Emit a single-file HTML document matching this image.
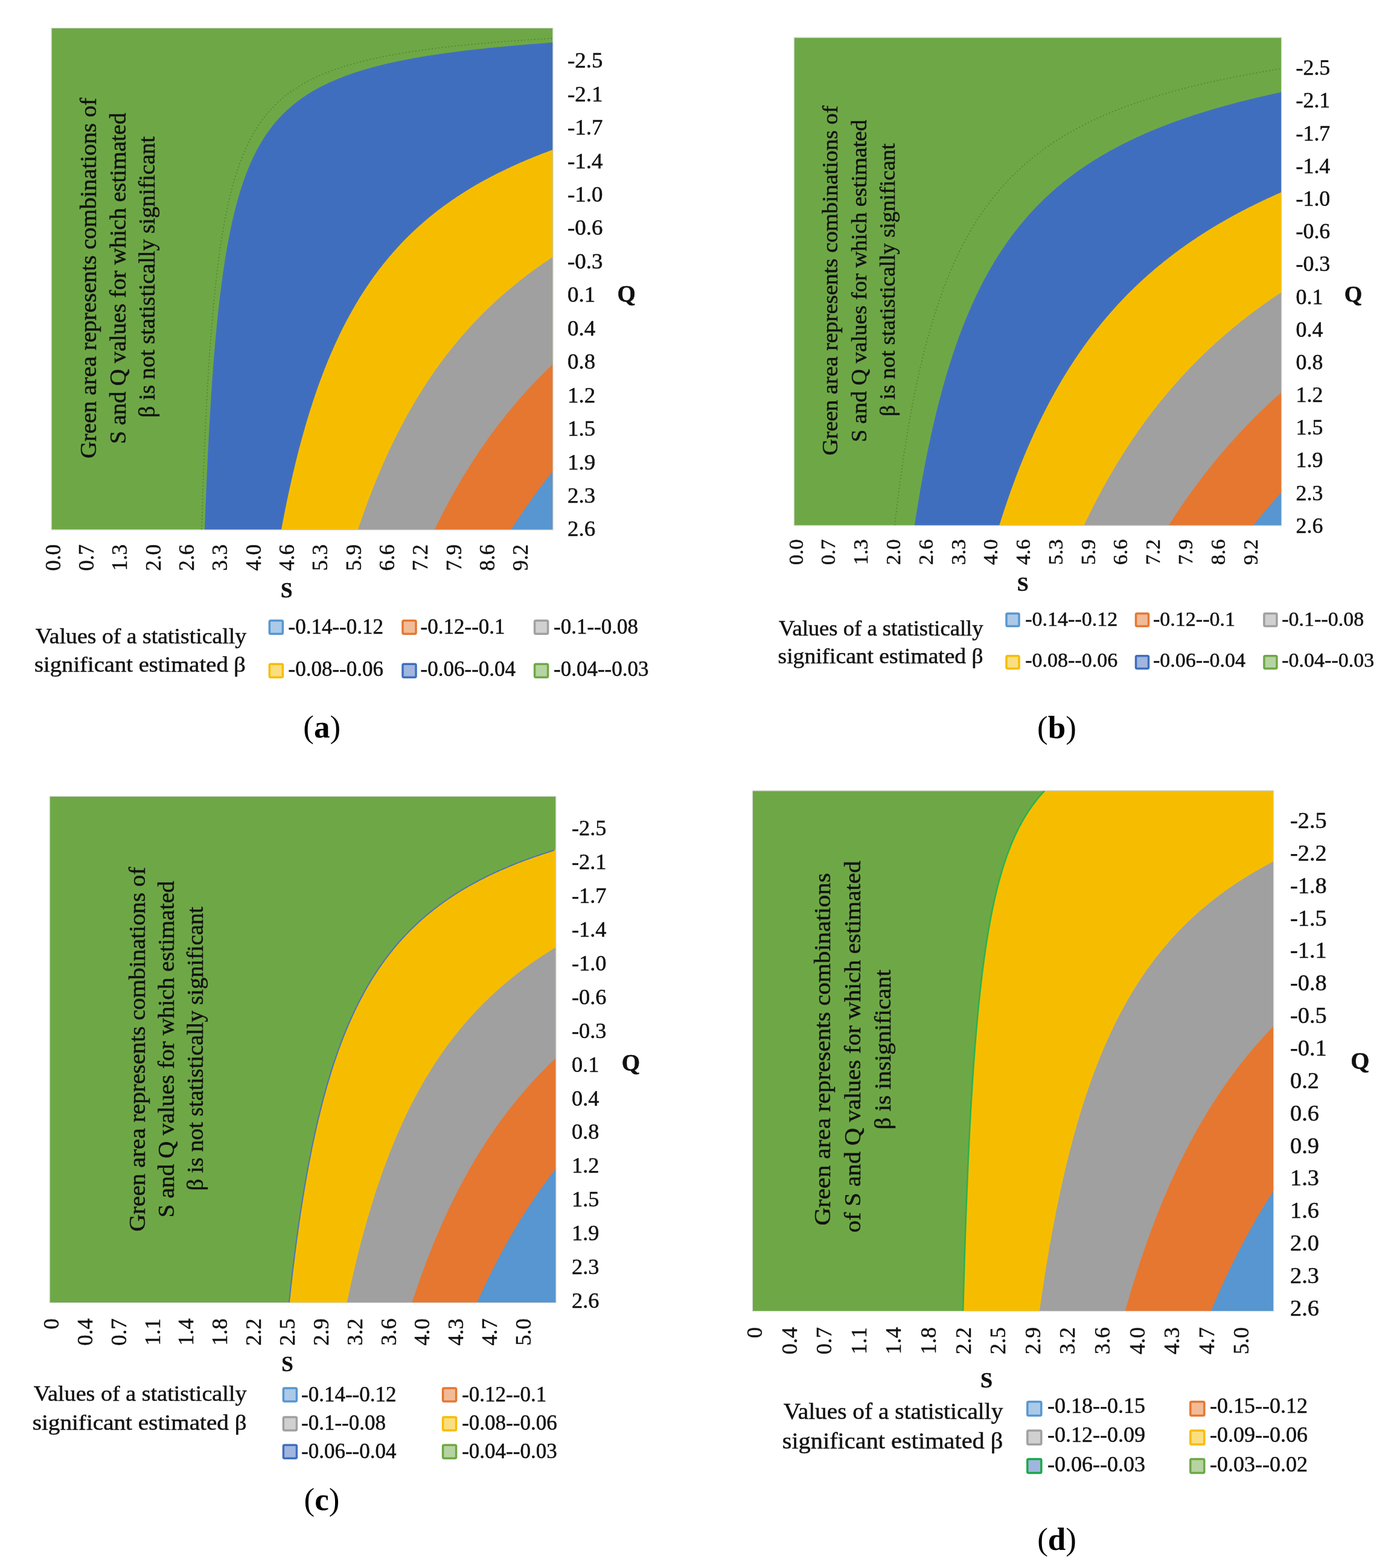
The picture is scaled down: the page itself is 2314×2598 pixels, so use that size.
<!DOCTYPE html>
<html lang="en"><head><meta charset="utf-8"><title>Figure</title>
<style>html,body{margin:0;padding:0;background:#fff;width:2314px;height:2598px;overflow:hidden}svg{display:block}</style>
</head><body>
<svg xmlns="http://www.w3.org/2000/svg" width="2314" height="2598" viewBox="0 0 2314 2598" font-family="'Liberation Serif', 'Times New Roman', serif">
<rect width="2314" height="2598" fill="#FFFFFF"/>
<g id="plot-a">
<rect x="85.5" y="47.0" width="830.0" height="830.5" fill="#6EA846"/>
<path d="M339.1,877.5 L339.1,875.8 L339.2,874.2 L339.3,872.5 L339.3,870.9 L339.4,869.2 L339.4,867.5 L339.5,865.9 L339.6,864.2 L339.6,862.6 L339.7,860.9 L339.7,859.2 L339.8,857.6 L339.9,855.9 L339.9,854.2 L340.0,852.6 L340.1,850.9 L340.1,849.3 L340.2,847.6 L340.2,845.9 L340.3,844.3 L340.4,842.6 L340.4,841.0 L340.5,839.3 L340.6,837.6 L340.6,836.0 L340.7,834.3 L340.8,832.7 L340.8,831.0 L340.9,829.3 L341.0,827.7 L341.0,826.0 L341.1,824.3 L341.2,822.7 L341.2,821.0 L341.3,819.4 L341.4,817.7 L341.4,816.0 L341.5,814.4 L341.6,812.7 L341.6,811.1 L341.7,809.4 L341.8,807.7 L341.9,806.1 L341.9,804.4 L342.0,802.8 L342.1,801.1 L342.1,799.4 L342.2,797.8 L342.3,796.1 L342.4,794.5 L342.4,792.8 L342.5,791.1 L342.6,789.5 L342.7,787.8 L342.7,786.1 L342.8,784.5 L342.9,782.8 L343.0,781.2 L343.0,779.5 L343.1,777.8 L343.2,776.2 L343.3,774.5 L343.3,772.9 L343.4,771.2 L343.5,769.5 L343.6,767.9 L343.6,766.2 L343.7,764.6 L343.8,762.9 L343.9,761.2 L344.0,759.6 L344.0,757.9 L344.1,756.2 L344.2,754.6 L344.3,752.9 L344.4,751.3 L344.4,749.6 L344.5,747.9 L344.6,746.3 L344.7,744.6 L344.8,743.0 L344.9,741.3 L344.9,739.6 L345.0,738.0 L345.1,736.3 L345.2,734.7 L345.3,733.0 L345.4,731.3 L345.5,729.7 L345.5,728.0 L345.6,726.3 L345.7,724.7 L345.8,723.0 L345.9,721.4 L346.0,719.7 L346.1,718.0 L346.2,716.4 L346.3,714.7 L346.3,713.1 L346.4,711.4 L346.5,709.7 L346.6,708.1 L346.7,706.4 L346.8,704.8 L346.9,703.1 L347.0,701.4 L347.1,699.8 L347.2,698.1 L347.3,696.5 L347.4,694.8 L347.5,693.1 L347.6,691.5 L347.7,689.8 L347.8,688.1 L347.9,686.5 L348.0,684.8 L348.1,683.2 L348.2,681.5 L348.3,679.8 L348.4,678.2 L348.5,676.5 L348.6,674.9 L348.7,673.2 L348.8,671.5 L348.9,669.9 L349.0,668.2 L349.1,666.6 L349.2,664.9 L349.3,663.2 L349.4,661.6 L349.5,659.9 L349.6,658.2 L349.7,656.6 L349.8,654.9 L349.9,653.3 L350.1,651.6 L350.2,649.9 L350.3,648.3 L350.4,646.6 L350.5,645.0 L350.6,643.3 L350.7,641.6 L350.8,640.0 L351.0,638.3 L351.1,636.7 L351.2,635.0 L351.3,633.3 L351.4,631.7 L351.5,630.0 L351.7,628.4 L351.8,626.7 L351.9,625.0 L352.0,623.4 L352.1,621.7 L352.3,620.0 L352.4,618.4 L352.5,616.7 L352.6,615.1 L352.7,613.4 L352.9,611.7 L353.0,610.1 L353.1,608.4 L353.3,606.8 L353.4,605.1 L353.5,603.4 L353.6,601.8 L353.8,600.1 L353.9,598.5 L354.0,596.8 L354.2,595.1 L354.3,593.5 L354.4,591.8 L354.6,590.1 L354.7,588.5 L354.8,586.8 L355.0,585.2 L355.1,583.5 L355.3,581.8 L355.4,580.2 L355.5,578.5 L355.7,576.9 L355.8,575.2 L356.0,573.5 L356.1,571.9 L356.2,570.2 L356.4,568.6 L356.5,566.9 L356.7,565.2 L356.8,563.6 L357.0,561.9 L357.1,560.2 L357.3,558.6 L357.4,556.9 L357.6,555.3 L357.7,553.6 L357.9,551.9 L358.1,550.3 L358.2,548.6 L358.4,547.0 L358.5,545.3 L358.7,543.6 L358.9,542.0 L359.0,540.3 L359.2,538.7 L359.3,537.0 L359.5,535.3 L359.7,533.7 L359.8,532.0 L360.0,530.4 L360.2,528.7 L360.4,527.0 L360.5,525.4 L360.7,523.7 L360.9,522.0 L361.1,520.4 L361.2,518.7 L361.4,517.1 L361.6,515.4 L361.8,513.7 L362.0,512.1 L362.1,510.4 L362.3,508.8 L362.5,507.1 L362.7,505.4 L362.9,503.8 L363.1,502.1 L363.3,500.5 L363.5,498.8 L363.6,497.1 L363.8,495.5 L364.0,493.8 L364.2,492.1 L364.4,490.5 L364.6,488.8 L364.8,487.2 L365.0,485.5 L365.2,483.8 L365.5,482.2 L365.7,480.5 L365.9,478.9 L366.1,477.2 L366.3,475.5 L366.5,473.9 L366.7,472.2 L366.9,470.6 L367.2,468.9 L367.4,467.2 L367.6,465.6 L367.8,463.9 L368.1,462.2 L368.3,460.6 L368.5,458.9 L368.7,457.3 L369.0,455.6 L369.2,453.9 L369.4,452.3 L369.7,450.6 L369.9,449.0 L370.2,447.3 L370.4,445.6 L370.7,444.0 L370.9,442.3 L371.2,440.7 L371.4,439.0 L371.7,437.3 L371.9,435.7 L372.2,434.0 L372.4,432.4 L372.7,430.7 L373.0,429.0 L373.2,427.4 L373.5,425.7 L373.8,424.0 L374.0,422.4 L374.3,420.7 L374.6,419.1 L374.9,417.4 L375.2,415.7 L375.5,414.1 L375.7,412.4 L376.0,410.8 L376.3,409.1 L376.6,407.4 L376.9,405.8 L377.2,404.1 L377.5,402.5 L377.8,400.8 L378.1,399.1 L378.4,397.5 L378.8,395.8 L379.1,394.1 L379.4,392.5 L379.7,390.8 L380.1,389.2 L380.4,387.5 L380.7,385.8 L381.0,384.2 L381.4,382.5 L381.7,380.9 L382.1,379.2 L382.4,377.5 L382.8,375.9 L383.1,374.2 L383.5,372.6 L383.8,370.9 L384.2,369.2 L384.6,367.6 L385.0,365.9 L385.3,364.3 L385.7,362.6 L386.1,360.9 L386.5,359.3 L386.9,357.6 L387.3,355.9 L387.7,354.3 L388.1,352.6 L388.5,351.0 L388.9,349.3 L389.3,347.6 L389.7,346.0 L390.2,344.3 L390.6,342.7 L391.0,341.0 L391.5,339.3 L391.9,337.7 L392.4,336.0 L392.8,334.4 L393.3,332.7 L393.7,331.0 L394.2,329.4 L394.7,327.7 L395.2,326.0 L395.6,324.4 L396.1,322.7 L396.6,321.1 L397.1,319.4 L397.6,317.7 L398.1,316.1 L398.7,314.4 L399.2,312.8 L399.7,311.1 L400.3,309.4 L400.8,307.8 L401.3,306.1 L401.9,304.5 L402.5,302.8 L403.0,301.1 L403.6,299.5 L404.2,297.8 L404.8,296.2 L405.4,294.5 L406.0,292.8 L406.6,291.2 L407.2,289.5 L407.9,287.8 L408.5,286.2 L409.1,284.5 L409.8,282.9 L410.5,281.2 L411.1,279.5 L411.8,277.9 L412.5,276.2 L413.2,274.6 L413.9,272.9 L414.6,271.2 L415.4,269.6 L416.1,267.9 L416.8,266.3 L417.6,264.6 L418.4,262.9 L419.1,261.3 L419.9,259.6 L420.7,257.9 L421.6,256.3 L422.4,254.6 L423.2,253.0 L424.1,251.3 L424.9,249.6 L425.8,248.0 L426.7,246.3 L427.6,244.7 L428.5,243.0 L429.5,241.3 L430.4,239.7 L431.4,238.0 L432.4,236.4 L433.3,234.7 L434.4,233.0 L435.4,231.4 L436.4,229.7 L437.5,228.0 L438.6,226.4 L439.7,224.7 L440.8,223.1 L441.9,221.4 L443.1,219.7 L444.2,218.1 L445.4,216.4 L446.7,214.8 L447.9,213.1 L449.2,211.4 L450.4,209.8 L451.7,208.1 L453.1,206.5 L454.4,204.8 L455.8,203.1 L457.2,201.5 L458.7,199.8 L460.1,198.2 L461.6,196.5 L463.1,194.8 L464.7,193.2 L466.3,191.5 L467.9,189.8 L469.5,188.2 L471.2,186.5 L473.0,184.9 L474.7,183.2 L476.5,181.5 L478.3,179.9 L480.2,178.2 L482.1,176.6 L484.1,174.9 L486.1,173.2 L488.2,171.6 L490.3,169.9 L492.4,168.3 L494.6,166.6 L496.9,164.9 L499.2,163.3 L501.6,161.6 L504.0,159.9 L506.5,158.3 L509.0,156.6 L511.7,155.0 L514.4,153.3 L517.1,151.6 L520.0,150.0 L522.9,148.3 L525.9,146.7 L529.0,145.0 L532.1,143.3 L535.4,141.7 L538.8,140.0 L542.2,138.4 L545.8,136.7 L549.5,135.0 L553.3,133.4 L557.2,131.7 L561.3,130.0 L565.4,128.4 L569.8,126.7 L574.2,125.1 L578.9,123.4 L583.7,121.7 L588.6,120.1 L593.8,118.4 L599.1,116.8 L604.7,115.1 L610.4,113.4 L616.4,111.8 L622.7,110.1 L629.1,108.5 L635.9,106.8 L643.0,105.1 L650.3,103.5 L658.0,101.8 L666.1,100.2 L674.5,98.5 L683.4,96.8 L692.7,95.2 L702.4,93.5 L712.7,91.8 L723.5,90.2 L734.9,88.5 L747.0,86.9 L759.7,85.2 L773.2,83.5 L787.6,81.9 L802.9,80.2 L819.1,78.6 L836.5,76.9 L855.1,75.2 L875.1,73.6 L896.6,71.9 L915.5,70.3 L915.5,68.6 L915.5,66.9 L915.5,65.3 L915.5,63.6 L915.5,61.9 L915.5,60.3 L915.5,58.6 L915.5,57.0 L915.5,55.3 L915.5,53.6 L915.5,52.0 L915.5,50.3 L915.5,48.7 L915.5,47.0 L915.5,47.0 L915.5,877.5 Z" fill="#406EBF"/>
<path d="M466.0,877.5 L466.3,875.8 L466.6,874.2 L466.9,872.5 L467.2,870.9 L467.5,869.2 L467.9,867.5 L468.2,865.9 L468.5,864.2 L468.8,862.6 L469.1,860.9 L469.4,859.2 L469.8,857.6 L470.1,855.9 L470.4,854.2 L470.7,852.6 L471.1,850.9 L471.4,849.3 L471.7,847.6 L472.1,845.9 L472.4,844.3 L472.7,842.6 L473.1,841.0 L473.4,839.3 L473.7,837.6 L474.1,836.0 L474.4,834.3 L474.8,832.7 L475.1,831.0 L475.4,829.3 L475.8,827.7 L476.1,826.0 L476.5,824.3 L476.8,822.7 L477.2,821.0 L477.5,819.4 L477.9,817.7 L478.3,816.0 L478.6,814.4 L479.0,812.7 L479.3,811.1 L479.7,809.4 L480.1,807.7 L480.4,806.1 L480.8,804.4 L481.2,802.8 L481.5,801.1 L481.9,799.4 L482.3,797.8 L482.7,796.1 L483.0,794.5 L483.4,792.8 L483.8,791.1 L484.2,789.5 L484.6,787.8 L484.9,786.1 L485.3,784.5 L485.7,782.8 L486.1,781.2 L486.5,779.5 L486.9,777.8 L487.3,776.2 L487.7,774.5 L488.1,772.9 L488.5,771.2 L488.9,769.5 L489.3,767.9 L489.7,766.2 L490.1,764.6 L490.5,762.9 L490.9,761.2 L491.3,759.6 L491.8,757.9 L492.2,756.2 L492.6,754.6 L493.0,752.9 L493.4,751.3 L493.9,749.6 L494.3,747.9 L494.7,746.3 L495.1,744.6 L495.6,743.0 L496.0,741.3 L496.5,739.6 L496.9,738.0 L497.3,736.3 L497.8,734.7 L498.2,733.0 L498.7,731.3 L499.1,729.7 L499.6,728.0 L500.0,726.3 L500.5,724.7 L500.9,723.0 L501.4,721.4 L501.9,719.7 L502.3,718.0 L502.8,716.4 L503.3,714.7 L503.7,713.1 L504.2,711.4 L504.7,709.7 L505.2,708.1 L505.6,706.4 L506.1,704.8 L506.6,703.1 L507.1,701.4 L507.6,699.8 L508.1,698.1 L508.6,696.5 L509.1,694.8 L509.6,693.1 L510.1,691.5 L510.6,689.8 L511.1,688.1 L511.6,686.5 L512.1,684.8 L512.6,683.2 L513.2,681.5 L513.7,679.8 L514.2,678.2 L514.7,676.5 L515.3,674.9 L515.8,673.2 L516.3,671.5 L516.9,669.9 L517.4,668.2 L517.9,666.6 L518.5,664.9 L519.0,663.2 L519.6,661.6 L520.1,659.9 L520.7,658.2 L521.3,656.6 L521.8,654.9 L522.4,653.3 L523.0,651.6 L523.5,649.9 L524.1,648.3 L524.7,646.6 L525.3,645.0 L525.8,643.3 L526.4,641.6 L527.0,640.0 L527.6,638.3 L528.2,636.7 L528.8,635.0 L529.4,633.3 L530.0,631.7 L530.6,630.0 L531.2,628.4 L531.9,626.7 L532.5,625.0 L533.1,623.4 L533.7,621.7 L534.4,620.0 L535.0,618.4 L535.6,616.7 L536.3,615.1 L536.9,613.4 L537.6,611.7 L538.2,610.1 L538.9,608.4 L539.6,606.8 L540.2,605.1 L540.9,603.4 L541.6,601.8 L542.2,600.1 L542.9,598.5 L543.6,596.8 L544.3,595.1 L545.0,593.5 L545.7,591.8 L546.4,590.1 L547.1,588.5 L547.8,586.8 L548.5,585.2 L549.2,583.5 L549.9,581.8 L550.7,580.2 L551.4,578.5 L552.1,576.9 L552.9,575.2 L553.6,573.5 L554.4,571.9 L555.1,570.2 L555.9,568.6 L556.6,566.9 L557.4,565.2 L558.2,563.6 L558.9,561.9 L559.7,560.2 L560.5,558.6 L561.3,556.9 L562.1,555.3 L562.9,553.6 L563.7,551.9 L564.5,550.3 L565.3,548.6 L566.1,547.0 L567.0,545.3 L567.8,543.6 L568.6,542.0 L569.5,540.3 L570.3,538.7 L571.2,537.0 L572.0,535.3 L572.9,533.7 L573.8,532.0 L574.7,530.4 L575.5,528.7 L576.4,527.0 L577.3,525.4 L578.2,523.7 L579.1,522.0 L580.0,520.4 L581.0,518.7 L581.9,517.1 L582.8,515.4 L583.8,513.7 L584.7,512.1 L585.6,510.4 L586.6,508.8 L587.6,507.1 L588.5,505.4 L589.5,503.8 L590.5,502.1 L591.5,500.5 L592.5,498.8 L593.5,497.1 L594.5,495.5 L595.5,493.8 L596.5,492.1 L597.6,490.5 L598.6,488.8 L599.7,487.2 L600.7,485.5 L601.8,483.8 L602.9,482.2 L603.9,480.5 L605.0,478.9 L606.1,477.2 L607.2,475.5 L608.3,473.9 L609.5,472.2 L610.6,470.6 L611.7,468.9 L612.9,467.2 L614.0,465.6 L615.2,463.9 L616.4,462.2 L617.6,460.6 L618.7,458.9 L619.9,457.3 L621.1,455.6 L622.4,453.9 L623.6,452.3 L624.8,450.6 L626.1,449.0 L627.3,447.3 L628.6,445.6 L629.9,444.0 L631.2,442.3 L632.5,440.7 L633.8,439.0 L635.1,437.3 L636.4,435.7 L637.8,434.0 L639.1,432.4 L640.5,430.7 L641.9,429.0 L643.2,427.4 L644.6,425.7 L646.0,424.0 L647.5,422.4 L648.9,420.7 L650.3,419.1 L651.8,417.4 L653.3,415.7 L654.8,414.1 L656.3,412.4 L657.8,410.8 L659.3,409.1 L660.8,407.4 L662.4,405.8 L663.9,404.1 L665.5,402.5 L667.1,400.8 L668.7,399.1 L670.3,397.5 L672.0,395.8 L673.6,394.1 L675.3,392.5 L676.9,390.8 L678.6,389.2 L680.3,387.5 L682.1,385.8 L683.8,384.2 L685.6,382.5 L687.3,380.9 L689.1,379.2 L690.9,377.5 L692.8,375.9 L694.6,374.2 L696.5,372.6 L698.4,370.9 L700.2,369.2 L702.2,367.6 L704.1,365.9 L706.1,364.3 L708.0,362.6 L710.0,360.9 L712.0,359.3 L714.1,357.6 L716.1,355.9 L718.2,354.3 L720.3,352.6 L722.4,351.0 L724.5,349.3 L726.7,347.6 L728.9,346.0 L731.1,344.3 L733.3,342.7 L735.6,341.0 L737.9,339.3 L740.2,337.7 L742.5,336.0 L744.8,334.4 L747.2,332.7 L749.6,331.0 L752.1,329.4 L754.5,327.7 L757.0,326.0 L759.5,324.4 L762.1,322.7 L764.6,321.1 L767.2,319.4 L769.9,317.7 L772.5,316.1 L775.2,314.4 L777.9,312.8 L780.7,311.1 L783.5,309.4 L786.3,307.8 L789.1,306.1 L792.0,304.5 L794.9,302.8 L797.9,301.1 L800.9,299.5 L803.9,297.8 L807.0,296.2 L810.1,294.5 L813.3,292.8 L816.4,291.2 L819.7,289.5 L822.9,287.8 L826.2,286.2 L829.6,284.5 L833.0,282.9 L836.4,281.2 L839.9,279.5 L843.4,277.9 L847.0,276.2 L850.7,274.6 L854.3,272.9 L858.1,271.2 L861.8,269.6 L865.7,267.9 L869.6,266.3 L873.5,264.6 L877.5,262.9 L881.5,261.3 L885.7,259.6 L889.8,257.9 L894.1,256.3 L898.3,254.6 L902.7,253.0 L907.1,251.3 L911.6,249.6 L915.5,248.0 L915.5,246.3 L915.5,244.7 L915.5,243.0 L915.5,241.3 L915.5,239.7 L915.5,238.0 L915.5,236.4 L915.5,234.7 L915.5,233.0 L915.5,231.4 L915.5,229.7 L915.5,228.0 L915.5,226.4 L915.5,224.7 L915.5,223.1 L915.5,221.4 L915.5,219.7 L915.5,218.1 L915.5,216.4 L915.5,214.8 L915.5,213.1 L915.5,211.4 L915.5,209.8 L915.5,208.1 L915.5,206.5 L915.5,204.8 L915.5,203.1 L915.5,201.5 L915.5,199.8 L915.5,198.2 L915.5,196.5 L915.5,194.8 L915.5,193.2 L915.5,191.5 L915.5,189.8 L915.5,188.2 L915.5,186.5 L915.5,184.9 L915.5,183.2 L915.5,181.5 L915.5,179.9 L915.5,178.2 L915.5,176.6 L915.5,174.9 L915.5,173.2 L915.5,171.6 L915.5,169.9 L915.5,168.3 L915.5,166.6 L915.5,164.9 L915.5,163.3 L915.5,161.6 L915.5,159.9 L915.5,158.3 L915.5,156.6 L915.5,155.0 L915.5,153.3 L915.5,151.6 L915.5,150.0 L915.5,148.3 L915.5,146.7 L915.5,145.0 L915.5,143.3 L915.5,141.7 L915.5,140.0 L915.5,138.4 L915.5,136.7 L915.5,135.0 L915.5,133.4 L915.5,131.7 L915.5,130.0 L915.5,128.4 L915.5,126.7 L915.5,125.1 L915.5,123.4 L915.5,121.7 L915.5,120.1 L915.5,118.4 L915.5,116.8 L915.5,115.1 L915.5,113.4 L915.5,111.8 L915.5,110.1 L915.5,108.5 L915.5,106.8 L915.5,105.1 L915.5,103.5 L915.5,101.8 L915.5,100.2 L915.5,98.5 L915.5,96.8 L915.5,95.2 L915.5,93.5 L915.5,91.8 L915.5,90.2 L915.5,88.5 L915.5,86.9 L915.5,85.2 L915.5,83.5 L915.5,81.9 L915.5,80.2 L915.5,78.6 L915.5,76.9 L915.5,75.2 L915.5,73.6 L915.5,71.9 L915.5,70.3 L915.5,68.6 L915.5,66.9 L915.5,65.3 L915.5,63.6 L915.5,61.9 L915.5,60.3 L915.5,58.6 L915.5,57.0 L915.5,55.3 L915.5,53.6 L915.5,52.0 L915.5,50.3 L915.5,48.7 L915.5,47.0 L915.5,47.0 L915.5,877.5 Z" fill="#F6BD00"/>
<path d="M592.9,877.5 L593.5,875.8 L594.0,874.2 L594.6,872.5 L595.1,870.9 L595.7,869.2 L596.3,867.5 L596.8,865.9 L597.4,864.2 L598.0,862.6 L598.6,860.9 L599.2,859.2 L599.7,857.6 L600.3,855.9 L600.9,854.2 L601.5,852.6 L602.1,850.9 L602.7,849.3 L603.3,847.6 L603.9,845.9 L604.5,844.3 L605.1,842.6 L605.7,841.0 L606.3,839.3 L606.9,837.6 L607.5,836.0 L608.1,834.3 L608.7,832.7 L609.4,831.0 L610.0,829.3 L610.6,827.7 L611.2,826.0 L611.9,824.3 L612.5,822.7 L613.1,821.0 L613.8,819.4 L614.4,817.7 L615.1,816.0 L615.7,814.4 L616.4,812.7 L617.0,811.1 L617.7,809.4 L618.3,807.7 L619.0,806.1 L619.7,804.4 L620.3,802.8 L621.0,801.1 L621.7,799.4 L622.3,797.8 L623.0,796.1 L623.7,794.5 L624.4,792.8 L625.1,791.1 L625.8,789.5 L626.5,787.8 L627.1,786.1 L627.8,784.5 L628.5,782.8 L629.3,781.2 L630.0,779.5 L630.7,777.8 L631.4,776.2 L632.1,774.5 L632.8,772.9 L633.6,771.2 L634.3,769.5 L635.0,767.9 L635.7,766.2 L636.5,764.6 L637.2,762.9 L638.0,761.2 L638.7,759.6 L639.5,757.9 L640.2,756.2 L641.0,754.6 L641.7,752.9 L642.5,751.3 L643.3,749.6 L644.0,747.9 L644.8,746.3 L645.6,744.6 L646.4,743.0 L647.2,741.3 L648.0,739.6 L648.8,738.0 L649.5,736.3 L650.4,734.7 L651.2,733.0 L652.0,731.3 L652.8,729.7 L653.6,728.0 L654.4,726.3 L655.2,724.7 L656.1,723.0 L656.9,721.4 L657.7,719.7 L658.6,718.0 L659.4,716.4 L660.3,714.7 L661.1,713.1 L662.0,711.4 L662.8,709.7 L663.7,708.1 L664.6,706.4 L665.4,704.8 L666.3,703.1 L667.2,701.4 L668.1,699.8 L669.0,698.1 L669.9,696.5 L670.8,694.8 L671.7,693.1 L672.6,691.5 L673.5,689.8 L674.4,688.1 L675.3,686.5 L676.3,684.8 L677.2,683.2 L678.1,681.5 L679.1,679.8 L680.0,678.2 L681.0,676.5 L681.9,674.9 L682.9,673.2 L683.9,671.5 L684.8,669.9 L685.8,668.2 L686.8,666.6 L687.8,664.9 L688.8,663.2 L689.8,661.6 L690.8,659.9 L691.8,658.2 L692.8,656.6 L693.8,654.9 L694.8,653.3 L695.8,651.6 L696.9,649.9 L697.9,648.3 L699.0,646.6 L700.0,645.0 L701.1,643.3 L702.1,641.6 L703.2,640.0 L704.3,638.3 L705.4,636.7 L706.4,635.0 L707.5,633.3 L708.6,631.7 L709.7,630.0 L710.8,628.4 L712.0,626.7 L713.1,625.0 L714.2,623.4 L715.3,621.7 L716.5,620.0 L717.6,618.4 L718.8,616.7 L719.9,615.1 L721.1,613.4 L722.3,611.7 L723.5,610.1 L724.7,608.4 L725.9,606.8 L727.1,605.1 L728.3,603.4 L729.5,601.8 L730.7,600.1 L731.9,598.5 L733.2,596.8 L734.4,595.1 L735.7,593.5 L736.9,591.8 L738.2,590.1 L739.4,588.5 L740.7,586.8 L742.0,585.2 L743.3,583.5 L744.6,581.8 L745.9,580.2 L747.2,578.5 L748.6,576.9 L749.9,575.2 L751.3,573.5 L752.6,571.9 L754.0,570.2 L755.3,568.6 L756.7,566.9 L758.1,565.2 L759.5,563.6 L760.9,561.9 L762.3,560.2 L763.7,558.6 L765.2,556.9 L766.6,555.3 L768.0,553.6 L769.5,551.9 L771.0,550.3 L772.4,548.6 L773.9,547.0 L775.4,545.3 L776.9,543.6 L778.4,542.0 L780.0,540.3 L781.5,538.7 L783.0,537.0 L784.6,535.3 L786.1,533.7 L787.7,532.0 L789.3,530.4 L790.9,528.7 L792.5,527.0 L794.1,525.4 L795.7,523.7 L797.4,522.0 L799.0,520.4 L800.7,518.7 L802.4,517.1 L804.0,515.4 L805.7,513.7 L807.4,512.1 L809.2,510.4 L810.9,508.8 L812.6,507.1 L814.4,505.4 L816.2,503.8 L817.9,502.1 L819.7,500.5 L821.5,498.8 L823.3,497.1 L825.2,495.5 L827.0,493.8 L828.9,492.1 L830.7,490.5 L832.6,488.8 L834.5,487.2 L836.4,485.5 L838.3,483.8 L840.3,482.2 L842.2,480.5 L844.2,478.9 L846.2,477.2 L848.2,475.5 L850.2,473.9 L852.2,472.2 L854.2,470.6 L856.3,468.9 L858.4,467.2 L860.5,465.6 L862.6,463.9 L864.7,462.2 L866.8,460.6 L869.0,458.9 L871.1,457.3 L873.3,455.6 L875.5,453.9 L877.7,452.3 L880.0,450.6 L882.2,449.0 L884.5,447.3 L886.8,445.6 L889.1,444.0 L891.4,442.3 L893.8,440.7 L896.1,439.0 L898.5,437.3 L900.9,435.7 L903.4,434.0 L905.8,432.4 L908.3,430.7 L910.8,429.0 L913.3,427.4 L915.5,425.7 L915.5,424.0 L915.5,422.4 L915.5,420.7 L915.5,419.1 L915.5,417.4 L915.5,415.7 L915.5,414.1 L915.5,412.4 L915.5,410.8 L915.5,409.1 L915.5,407.4 L915.5,405.8 L915.5,404.1 L915.5,402.5 L915.5,400.8 L915.5,399.1 L915.5,397.5 L915.5,395.8 L915.5,394.1 L915.5,392.5 L915.5,390.8 L915.5,389.2 L915.5,387.5 L915.5,385.8 L915.5,384.2 L915.5,382.5 L915.5,380.9 L915.5,379.2 L915.5,377.5 L915.5,375.9 L915.5,374.2 L915.5,372.6 L915.5,370.9 L915.5,369.2 L915.5,367.6 L915.5,365.9 L915.5,364.3 L915.5,362.6 L915.5,360.9 L915.5,359.3 L915.5,357.6 L915.5,355.9 L915.5,354.3 L915.5,352.6 L915.5,351.0 L915.5,349.3 L915.5,347.6 L915.5,346.0 L915.5,344.3 L915.5,342.7 L915.5,341.0 L915.5,339.3 L915.5,337.7 L915.5,336.0 L915.5,334.4 L915.5,332.7 L915.5,331.0 L915.5,329.4 L915.5,327.7 L915.5,326.0 L915.5,324.4 L915.5,322.7 L915.5,321.1 L915.5,319.4 L915.5,317.7 L915.5,316.1 L915.5,314.4 L915.5,312.8 L915.5,311.1 L915.5,309.4 L915.5,307.8 L915.5,306.1 L915.5,304.5 L915.5,302.8 L915.5,301.1 L915.5,299.5 L915.5,297.8 L915.5,296.2 L915.5,294.5 L915.5,292.8 L915.5,291.2 L915.5,289.5 L915.5,287.8 L915.5,286.2 L915.5,284.5 L915.5,282.9 L915.5,281.2 L915.5,279.5 L915.5,277.9 L915.5,276.2 L915.5,274.6 L915.5,272.9 L915.5,271.2 L915.5,269.6 L915.5,267.9 L915.5,266.3 L915.5,264.6 L915.5,262.9 L915.5,261.3 L915.5,259.6 L915.5,257.9 L915.5,256.3 L915.5,254.6 L915.5,253.0 L915.5,251.3 L915.5,249.6 L915.5,248.0 L915.5,246.3 L915.5,244.7 L915.5,243.0 L915.5,241.3 L915.5,239.7 L915.5,238.0 L915.5,236.4 L915.5,234.7 L915.5,233.0 L915.5,231.4 L915.5,229.7 L915.5,228.0 L915.5,226.4 L915.5,224.7 L915.5,223.1 L915.5,221.4 L915.5,219.7 L915.5,218.1 L915.5,216.4 L915.5,214.8 L915.5,213.1 L915.5,211.4 L915.5,209.8 L915.5,208.1 L915.5,206.5 L915.5,204.8 L915.5,203.1 L915.5,201.5 L915.5,199.8 L915.5,198.2 L915.5,196.5 L915.5,194.8 L915.5,193.2 L915.5,191.5 L915.5,189.8 L915.5,188.2 L915.5,186.5 L915.5,184.9 L915.5,183.2 L915.5,181.5 L915.5,179.9 L915.5,178.2 L915.5,176.6 L915.5,174.9 L915.5,173.2 L915.5,171.6 L915.5,169.9 L915.5,168.3 L915.5,166.6 L915.5,164.9 L915.5,163.3 L915.5,161.6 L915.5,159.9 L915.5,158.3 L915.5,156.6 L915.5,155.0 L915.5,153.3 L915.5,151.6 L915.5,150.0 L915.5,148.3 L915.5,146.7 L915.5,145.0 L915.5,143.3 L915.5,141.7 L915.5,140.0 L915.5,138.4 L915.5,136.7 L915.5,135.0 L915.5,133.4 L915.5,131.7 L915.5,130.0 L915.5,128.4 L915.5,126.7 L915.5,125.1 L915.5,123.4 L915.5,121.7 L915.5,120.1 L915.5,118.4 L915.5,116.8 L915.5,115.1 L915.5,113.4 L915.5,111.8 L915.5,110.1 L915.5,108.5 L915.5,106.8 L915.5,105.1 L915.5,103.5 L915.5,101.8 L915.5,100.2 L915.5,98.5 L915.5,96.8 L915.5,95.2 L915.5,93.5 L915.5,91.8 L915.5,90.2 L915.5,88.5 L915.5,86.9 L915.5,85.2 L915.5,83.5 L915.5,81.9 L915.5,80.2 L915.5,78.6 L915.5,76.9 L915.5,75.2 L915.5,73.6 L915.5,71.9 L915.5,70.3 L915.5,68.6 L915.5,66.9 L915.5,65.3 L915.5,63.6 L915.5,61.9 L915.5,60.3 L915.5,58.6 L915.5,57.0 L915.5,55.3 L915.5,53.6 L915.5,52.0 L915.5,50.3 L915.5,48.7 L915.5,47.0 L915.5,47.0 L915.5,877.5 Z" fill="#A0A0A0"/>
<path d="M719.8,877.5 L720.6,875.8 L721.4,874.2 L722.2,872.5 L723.1,870.9 L723.9,869.2 L724.7,867.5 L725.5,865.9 L726.4,864.2 L727.2,862.6 L728.0,860.9 L728.9,859.2 L729.7,857.6 L730.5,855.9 L731.4,854.2 L732.2,852.6 L733.1,850.9 L734.0,849.3 L734.8,847.6 L735.7,845.9 L736.5,844.3 L737.4,842.6 L738.3,841.0 L739.2,839.3 L740.1,837.6 L740.9,836.0 L741.8,834.3 L742.7,832.7 L743.6,831.0 L744.5,829.3 L745.4,827.7 L746.3,826.0 L747.3,824.3 L748.2,822.7 L749.1,821.0 L750.0,819.4 L750.9,817.7 L751.9,816.0 L752.8,814.4 L753.8,812.7 L754.7,811.1 L755.6,809.4 L756.6,807.7 L757.6,806.1 L758.5,804.4 L759.5,802.8 L760.4,801.1 L761.4,799.4 L762.4,797.8 L763.4,796.1 L764.4,794.5 L765.4,792.8 L766.3,791.1 L767.3,789.5 L768.4,787.8 L769.4,786.1 L770.4,784.5 L771.4,782.8 L772.4,781.2 L773.4,779.5 L774.5,777.8 L775.5,776.2 L776.5,774.5 L777.6,772.9 L778.6,771.2 L779.7,769.5 L780.7,767.9 L781.8,766.2 L782.9,764.6 L783.9,762.9 L785.0,761.2 L786.1,759.6 L787.2,757.9 L788.3,756.2 L789.4,754.6 L790.5,752.9 L791.6,751.3 L792.7,749.6 L793.8,747.9 L794.9,746.3 L796.1,744.6 L797.2,743.0 L798.3,741.3 L799.5,739.6 L800.6,738.0 L801.8,736.3 L802.9,734.7 L804.1,733.0 L805.3,731.3 L806.4,729.7 L807.6,728.0 L808.8,726.3 L810.0,724.7 L811.2,723.0 L812.4,721.4 L813.6,719.7 L814.8,718.0 L816.0,716.4 L817.3,714.7 L818.5,713.1 L819.7,711.4 L821.0,709.7 L822.2,708.1 L823.5,706.4 L824.8,704.8 L826.0,703.1 L827.3,701.4 L828.6,699.8 L829.9,698.1 L831.2,696.5 L832.5,694.8 L833.8,693.1 L835.1,691.5 L836.4,689.8 L837.7,688.1 L839.1,686.5 L840.4,684.8 L841.8,683.2 L843.1,681.5 L844.5,679.8 L845.9,678.2 L847.2,676.5 L848.6,674.9 L850.0,673.2 L851.4,671.5 L852.8,669.9 L854.2,668.2 L855.6,666.6 L857.1,664.9 L858.5,663.2 L859.9,661.6 L861.4,659.9 L862.8,658.2 L864.3,656.6 L865.8,654.9 L867.3,653.3 L868.7,651.6 L870.2,649.9 L871.7,648.3 L873.3,646.6 L874.8,645.0 L876.3,643.3 L877.8,641.6 L879.4,640.0 L880.9,638.3 L882.5,636.7 L884.1,635.0 L885.7,633.3 L887.2,631.7 L888.8,630.0 L890.4,628.4 L892.1,626.7 L893.7,625.0 L895.3,623.4 L897.0,621.7 L898.6,620.0 L900.3,618.4 L901.9,616.7 L903.6,615.1 L905.3,613.4 L907.0,611.7 L908.7,610.1 L910.4,608.4 L912.1,606.8 L913.9,605.1 L915.5,603.4 L915.5,601.8 L915.5,600.1 L915.5,598.5 L915.5,596.8 L915.5,595.1 L915.5,593.5 L915.5,591.8 L915.5,590.1 L915.5,588.5 L915.5,586.8 L915.5,585.2 L915.5,583.5 L915.5,581.8 L915.5,580.2 L915.5,578.5 L915.5,576.9 L915.5,575.2 L915.5,573.5 L915.5,571.9 L915.5,570.2 L915.5,568.6 L915.5,566.9 L915.5,565.2 L915.5,563.6 L915.5,561.9 L915.5,560.2 L915.5,558.6 L915.5,556.9 L915.5,555.3 L915.5,553.6 L915.5,551.9 L915.5,550.3 L915.5,548.6 L915.5,547.0 L915.5,545.3 L915.5,543.6 L915.5,542.0 L915.5,540.3 L915.5,538.7 L915.5,537.0 L915.5,535.3 L915.5,533.7 L915.5,532.0 L915.5,530.4 L915.5,528.7 L915.5,527.0 L915.5,525.4 L915.5,523.7 L915.5,522.0 L915.5,520.4 L915.5,518.7 L915.5,517.1 L915.5,515.4 L915.5,513.7 L915.5,512.1 L915.5,510.4 L915.5,508.8 L915.5,507.1 L915.5,505.4 L915.5,503.8 L915.5,502.1 L915.5,500.5 L915.5,498.8 L915.5,497.1 L915.5,495.5 L915.5,493.8 L915.5,492.1 L915.5,490.5 L915.5,488.8 L915.5,487.2 L915.5,485.5 L915.5,483.8 L915.5,482.2 L915.5,480.5 L915.5,478.9 L915.5,477.2 L915.5,475.5 L915.5,473.9 L915.5,472.2 L915.5,470.6 L915.5,468.9 L915.5,467.2 L915.5,465.6 L915.5,463.9 L915.5,462.2 L915.5,460.6 L915.5,458.9 L915.5,457.3 L915.5,455.6 L915.5,453.9 L915.5,452.3 L915.5,450.6 L915.5,449.0 L915.5,447.3 L915.5,445.6 L915.5,444.0 L915.5,442.3 L915.5,440.7 L915.5,439.0 L915.5,437.3 L915.5,435.7 L915.5,434.0 L915.5,432.4 L915.5,430.7 L915.5,429.0 L915.5,427.4 L915.5,425.7 L915.5,424.0 L915.5,422.4 L915.5,420.7 L915.5,419.1 L915.5,417.4 L915.5,415.7 L915.5,414.1 L915.5,412.4 L915.5,410.8 L915.5,409.1 L915.5,407.4 L915.5,405.8 L915.5,404.1 L915.5,402.5 L915.5,400.8 L915.5,399.1 L915.5,397.5 L915.5,395.8 L915.5,394.1 L915.5,392.5 L915.5,390.8 L915.5,389.2 L915.5,387.5 L915.5,385.8 L915.5,384.2 L915.5,382.5 L915.5,380.9 L915.5,379.2 L915.5,377.5 L915.5,375.9 L915.5,374.2 L915.5,372.6 L915.5,370.9 L915.5,369.2 L915.5,367.6 L915.5,365.9 L915.5,364.3 L915.5,362.6 L915.5,360.9 L915.5,359.3 L915.5,357.6 L915.5,355.9 L915.5,354.3 L915.5,352.6 L915.5,351.0 L915.5,349.3 L915.5,347.6 L915.5,346.0 L915.5,344.3 L915.5,342.7 L915.5,341.0 L915.5,339.3 L915.5,337.7 L915.5,336.0 L915.5,334.4 L915.5,332.7 L915.5,331.0 L915.5,329.4 L915.5,327.7 L915.5,326.0 L915.5,324.4 L915.5,322.7 L915.5,321.1 L915.5,319.4 L915.5,317.7 L915.5,316.1 L915.5,314.4 L915.5,312.8 L915.5,311.1 L915.5,309.4 L915.5,307.8 L915.5,306.1 L915.5,304.5 L915.5,302.8 L915.5,301.1 L915.5,299.5 L915.5,297.8 L915.5,296.2 L915.5,294.5 L915.5,292.8 L915.5,291.2 L915.5,289.5 L915.5,287.8 L915.5,286.2 L915.5,284.5 L915.5,282.9 L915.5,281.2 L915.5,279.5 L915.5,277.9 L915.5,276.2 L915.5,274.6 L915.5,272.9 L915.5,271.2 L915.5,269.6 L915.5,267.9 L915.5,266.3 L915.5,264.6 L915.5,262.9 L915.5,261.3 L915.5,259.6 L915.5,257.9 L915.5,256.3 L915.5,254.6 L915.5,253.0 L915.5,251.3 L915.5,249.6 L915.5,248.0 L915.5,246.3 L915.5,244.7 L915.5,243.0 L915.5,241.3 L915.5,239.7 L915.5,238.0 L915.5,236.4 L915.5,234.7 L915.5,233.0 L915.5,231.4 L915.5,229.7 L915.5,228.0 L915.5,226.4 L915.5,224.7 L915.5,223.1 L915.5,221.4 L915.5,219.7 L915.5,218.1 L915.5,216.4 L915.5,214.8 L915.5,213.1 L915.5,211.4 L915.5,209.8 L915.5,208.1 L915.5,206.5 L915.5,204.8 L915.5,203.1 L915.5,201.5 L915.5,199.8 L915.5,198.2 L915.5,196.5 L915.5,194.8 L915.5,193.2 L915.5,191.5 L915.5,189.8 L915.5,188.2 L915.5,186.5 L915.5,184.9 L915.5,183.2 L915.5,181.5 L915.5,179.9 L915.5,178.2 L915.5,176.6 L915.5,174.9 L915.5,173.2 L915.5,171.6 L915.5,169.9 L915.5,168.3 L915.5,166.6 L915.5,164.9 L915.5,163.3 L915.5,161.6 L915.5,159.9 L915.5,158.3 L915.5,156.6 L915.5,155.0 L915.5,153.3 L915.5,151.6 L915.5,150.0 L915.5,148.3 L915.5,146.7 L915.5,145.0 L915.5,143.3 L915.5,141.7 L915.5,140.0 L915.5,138.4 L915.5,136.7 L915.5,135.0 L915.5,133.4 L915.5,131.7 L915.5,130.0 L915.5,128.4 L915.5,126.7 L915.5,125.1 L915.5,123.4 L915.5,121.7 L915.5,120.1 L915.5,118.4 L915.5,116.8 L915.5,115.1 L915.5,113.4 L915.5,111.8 L915.5,110.1 L915.5,108.5 L915.5,106.8 L915.5,105.1 L915.5,103.5 L915.5,101.8 L915.5,100.2 L915.5,98.5 L915.5,96.8 L915.5,95.2 L915.5,93.5 L915.5,91.8 L915.5,90.2 L915.5,88.5 L915.5,86.9 L915.5,85.2 L915.5,83.5 L915.5,81.9 L915.5,80.2 L915.5,78.6 L915.5,76.9 L915.5,75.2 L915.5,73.6 L915.5,71.9 L915.5,70.3 L915.5,68.6 L915.5,66.9 L915.5,65.3 L915.5,63.6 L915.5,61.9 L915.5,60.3 L915.5,58.6 L915.5,57.0 L915.5,55.3 L915.5,53.6 L915.5,52.0 L915.5,50.3 L915.5,48.7 L915.5,47.0 L915.5,47.0 L915.5,877.5 Z" fill="#E67730"/>
<path d="M846.7,877.5 L847.8,875.8 L848.8,874.2 L849.9,872.5 L851.0,870.9 L852.0,869.2 L853.1,867.5 L854.2,865.9 L855.3,864.2 L856.4,862.6 L857.5,860.9 L858.6,859.2 L859.7,857.6 L860.8,855.9 L861.9,854.2 L863.0,852.6 L864.1,850.9 L865.2,849.3 L866.4,847.6 L867.5,845.9 L868.6,844.3 L869.8,842.6 L870.9,841.0 L872.1,839.3 L873.2,837.6 L874.4,836.0 L875.6,834.3 L876.7,832.7 L877.9,831.0 L879.1,829.3 L880.3,827.7 L881.5,826.0 L882.6,824.3 L883.8,822.7 L885.0,821.0 L886.3,819.4 L887.5,817.7 L888.7,816.0 L889.9,814.4 L891.1,812.7 L892.4,811.1 L893.6,809.4 L894.9,807.7 L896.1,806.1 L897.4,804.4 L898.6,802.8 L899.9,801.1 L901.2,799.4 L902.5,797.8 L903.7,796.1 L905.0,794.5 L906.3,792.8 L907.6,791.1 L908.9,789.5 L910.2,787.8 L911.6,786.1 L912.9,784.5 L914.2,782.8 L915.5,781.2 L915.5,779.5 L915.5,777.8 L915.5,776.2 L915.5,774.5 L915.5,772.9 L915.5,771.2 L915.5,769.5 L915.5,767.9 L915.5,766.2 L915.5,764.6 L915.5,762.9 L915.5,761.2 L915.5,759.6 L915.5,757.9 L915.5,756.2 L915.5,754.6 L915.5,752.9 L915.5,751.3 L915.5,749.6 L915.5,747.9 L915.5,746.3 L915.5,744.6 L915.5,743.0 L915.5,741.3 L915.5,739.6 L915.5,738.0 L915.5,736.3 L915.5,734.7 L915.5,733.0 L915.5,731.3 L915.5,729.7 L915.5,728.0 L915.5,726.3 L915.5,724.7 L915.5,723.0 L915.5,721.4 L915.5,719.7 L915.5,718.0 L915.5,716.4 L915.5,714.7 L915.5,713.1 L915.5,711.4 L915.5,709.7 L915.5,708.1 L915.5,706.4 L915.5,704.8 L915.5,703.1 L915.5,701.4 L915.5,699.8 L915.5,698.1 L915.5,696.5 L915.5,694.8 L915.5,693.1 L915.5,691.5 L915.5,689.8 L915.5,688.1 L915.5,686.5 L915.5,684.8 L915.5,683.2 L915.5,681.5 L915.5,679.8 L915.5,678.2 L915.5,676.5 L915.5,674.9 L915.5,673.2 L915.5,671.5 L915.5,669.9 L915.5,668.2 L915.5,666.6 L915.5,664.9 L915.5,663.2 L915.5,661.6 L915.5,659.9 L915.5,658.2 L915.5,656.6 L915.5,654.9 L915.5,653.3 L915.5,651.6 L915.5,649.9 L915.5,648.3 L915.5,646.6 L915.5,645.0 L915.5,643.3 L915.5,641.6 L915.5,640.0 L915.5,638.3 L915.5,636.7 L915.5,635.0 L915.5,633.3 L915.5,631.7 L915.5,630.0 L915.5,628.4 L915.5,626.7 L915.5,625.0 L915.5,623.4 L915.5,621.7 L915.5,620.0 L915.5,618.4 L915.5,616.7 L915.5,615.1 L915.5,613.4 L915.5,611.7 L915.5,610.1 L915.5,608.4 L915.5,606.8 L915.5,605.1 L915.5,603.4 L915.5,601.8 L915.5,600.1 L915.5,598.5 L915.5,596.8 L915.5,595.1 L915.5,593.5 L915.5,591.8 L915.5,590.1 L915.5,588.5 L915.5,586.8 L915.5,585.2 L915.5,583.5 L915.5,581.8 L915.5,580.2 L915.5,578.5 L915.5,576.9 L915.5,575.2 L915.5,573.5 L915.5,571.9 L915.5,570.2 L915.5,568.6 L915.5,566.9 L915.5,565.2 L915.5,563.6 L915.5,561.9 L915.5,560.2 L915.5,558.6 L915.5,556.9 L915.5,555.3 L915.5,553.6 L915.5,551.9 L915.5,550.3 L915.5,548.6 L915.5,547.0 L915.5,545.3 L915.5,543.6 L915.5,542.0 L915.5,540.3 L915.5,538.7 L915.5,537.0 L915.5,535.3 L915.5,533.7 L915.5,532.0 L915.5,530.4 L915.5,528.7 L915.5,527.0 L915.5,525.4 L915.5,523.7 L915.5,522.0 L915.5,520.4 L915.5,518.7 L915.5,517.1 L915.5,515.4 L915.5,513.7 L915.5,512.1 L915.5,510.4 L915.5,508.8 L915.5,507.1 L915.5,505.4 L915.5,503.8 L915.5,502.1 L915.5,500.5 L915.5,498.8 L915.5,497.1 L915.5,495.5 L915.5,493.8 L915.5,492.1 L915.5,490.5 L915.5,488.8 L915.5,487.2 L915.5,485.5 L915.5,483.8 L915.5,482.2 L915.5,480.5 L915.5,478.9 L915.5,477.2 L915.5,475.5 L915.5,473.9 L915.5,472.2 L915.5,470.6 L915.5,468.9 L915.5,467.2 L915.5,465.6 L915.5,463.9 L915.5,462.2 L915.5,460.6 L915.5,458.9 L915.5,457.3 L915.5,455.6 L915.5,453.9 L915.5,452.3 L915.5,450.6 L915.5,449.0 L915.5,447.3 L915.5,445.6 L915.5,444.0 L915.5,442.3 L915.5,440.7 L915.5,439.0 L915.5,437.3 L915.5,435.7 L915.5,434.0 L915.5,432.4 L915.5,430.7 L915.5,429.0 L915.5,427.4 L915.5,425.7 L915.5,424.0 L915.5,422.4 L915.5,420.7 L915.5,419.1 L915.5,417.4 L915.5,415.7 L915.5,414.1 L915.5,412.4 L915.5,410.8 L915.5,409.1 L915.5,407.4 L915.5,405.8 L915.5,404.1 L915.5,402.5 L915.5,400.8 L915.5,399.1 L915.5,397.5 L915.5,395.8 L915.5,394.1 L915.5,392.5 L915.5,390.8 L915.5,389.2 L915.5,387.5 L915.5,385.8 L915.5,384.2 L915.5,382.5 L915.5,380.9 L915.5,379.2 L915.5,377.5 L915.5,375.9 L915.5,374.2 L915.5,372.6 L915.5,370.9 L915.5,369.2 L915.5,367.6 L915.5,365.9 L915.5,364.3 L915.5,362.6 L915.5,360.9 L915.5,359.3 L915.5,357.6 L915.5,355.9 L915.5,354.3 L915.5,352.6 L915.5,351.0 L915.5,349.3 L915.5,347.6 L915.5,346.0 L915.5,344.3 L915.5,342.7 L915.5,341.0 L915.5,339.3 L915.5,337.7 L915.5,336.0 L915.5,334.4 L915.5,332.7 L915.5,331.0 L915.5,329.4 L915.5,327.7 L915.5,326.0 L915.5,324.4 L915.5,322.7 L915.5,321.1 L915.5,319.4 L915.5,317.7 L915.5,316.1 L915.5,314.4 L915.5,312.8 L915.5,311.1 L915.5,309.4 L915.5,307.8 L915.5,306.1 L915.5,304.5 L915.5,302.8 L915.5,301.1 L915.5,299.5 L915.5,297.8 L915.5,296.2 L915.5,294.5 L915.5,292.8 L915.5,291.2 L915.5,289.5 L915.5,287.8 L915.5,286.2 L915.5,284.5 L915.5,282.9 L915.5,281.2 L915.5,279.5 L915.5,277.9 L915.5,276.2 L915.5,274.6 L915.5,272.9 L915.5,271.2 L915.5,269.6 L915.5,267.9 L915.5,266.3 L915.5,264.6 L915.5,262.9 L915.5,261.3 L915.5,259.6 L915.5,257.9 L915.5,256.3 L915.5,254.6 L915.5,253.0 L915.5,251.3 L915.5,249.6 L915.5,248.0 L915.5,246.3 L915.5,244.7 L915.5,243.0 L915.5,241.3 L915.5,239.7 L915.5,238.0 L915.5,236.4 L915.5,234.7 L915.5,233.0 L915.5,231.4 L915.5,229.7 L915.5,228.0 L915.5,226.4 L915.5,224.7 L915.5,223.1 L915.5,221.4 L915.5,219.7 L915.5,218.1 L915.5,216.4 L915.5,214.8 L915.5,213.1 L915.5,211.4 L915.5,209.8 L915.5,208.1 L915.5,206.5 L915.5,204.8 L915.5,203.1 L915.5,201.5 L915.5,199.8 L915.5,198.2 L915.5,196.5 L915.5,194.8 L915.5,193.2 L915.5,191.5 L915.5,189.8 L915.5,188.2 L915.5,186.5 L915.5,184.9 L915.5,183.2 L915.5,181.5 L915.5,179.9 L915.5,178.2 L915.5,176.6 L915.5,174.9 L915.5,173.2 L915.5,171.6 L915.5,169.9 L915.5,168.3 L915.5,166.6 L915.5,164.9 L915.5,163.3 L915.5,161.6 L915.5,159.9 L915.5,158.3 L915.5,156.6 L915.5,155.0 L915.5,153.3 L915.5,151.6 L915.5,150.0 L915.5,148.3 L915.5,146.7 L915.5,145.0 L915.5,143.3 L915.5,141.7 L915.5,140.0 L915.5,138.4 L915.5,136.7 L915.5,135.0 L915.5,133.4 L915.5,131.7 L915.5,130.0 L915.5,128.4 L915.5,126.7 L915.5,125.1 L915.5,123.4 L915.5,121.7 L915.5,120.1 L915.5,118.4 L915.5,116.8 L915.5,115.1 L915.5,113.4 L915.5,111.8 L915.5,110.1 L915.5,108.5 L915.5,106.8 L915.5,105.1 L915.5,103.5 L915.5,101.8 L915.5,100.2 L915.5,98.5 L915.5,96.8 L915.5,95.2 L915.5,93.5 L915.5,91.8 L915.5,90.2 L915.5,88.5 L915.5,86.9 L915.5,85.2 L915.5,83.5 L915.5,81.9 L915.5,80.2 L915.5,78.6 L915.5,76.9 L915.5,75.2 L915.5,73.6 L915.5,71.9 L915.5,70.3 L915.5,68.6 L915.5,66.9 L915.5,65.3 L915.5,63.6 L915.5,61.9 L915.5,60.3 L915.5,58.6 L915.5,57.0 L915.5,55.3 L915.5,53.6 L915.5,52.0 L915.5,50.3 L915.5,48.7 L915.5,47.0 L915.5,47.0 L915.5,877.5 Z" fill="#5796D0"/>
<path d="M334.0,877.5 L334.1,873.3 L334.2,869.2 L334.4,865.0 L334.5,861.0 L334.5,860.9 L334.6,856.7 L334.8,852.6 L334.9,848.4 L335.0,844.3 L335.2,840.1 L335.3,836.0 L335.4,831.8 L335.6,827.7 L335.7,823.5 L335.9,819.4 L336.0,815.2 L336.1,811.1 L336.3,806.9 L336.4,802.8 L336.6,798.6 L336.7,794.5 L336.9,790.3 L337.0,786.1 L337.2,782.0 L337.4,777.8 L337.5,773.7 L337.7,769.5 L337.8,765.4 L338.0,761.2 L338.2,757.1 L338.3,752.9 L338.5,748.8 L338.6,745.3 L338.7,744.6 L338.9,740.5 L339.0,736.3 L339.2,732.2 L339.4,728.0 L339.6,723.9 L339.8,719.7 L339.9,715.6 L340.1,711.4 L340.3,707.2 L340.5,703.1 L340.7,698.9 L340.9,694.8 L341.1,690.6 L341.3,686.5 L341.5,682.3 L341.7,678.2 L341.9,674.0 L342.2,669.9 L342.4,665.7 L342.6,661.6 L342.8,657.8 L342.8,657.4 L343.0,653.3 L343.3,649.1 L343.5,645.0 L343.7,640.8 L344.0,636.7 L344.2,632.5 L344.5,628.4 L344.7,624.2 L345.0,620.0 L345.2,615.9 L345.5,611.7 L345.7,607.6 L346.0,603.4 L346.3,599.3 L346.6,595.1 L346.8,591.0 L346.9,589.3 L347.1,586.8 L347.4,582.7 L347.7,578.5 L348.0,574.4 L348.3,570.2 L348.6,566.1 L348.9,561.9 L349.2,557.8 L349.5,553.6 L349.9,549.5 L350.2,545.3 L350.5,541.1 L350.9,537.0 L351.1,534.3 L351.2,532.8 L351.6,528.7 L351.9,524.5 L352.3,520.4 L352.7,516.2 L353.0,512.1 L353.4,507.9 L353.8,503.8 L354.2,499.6 L354.6,495.5 L355.0,491.3 L355.2,489.1 L355.4,487.2 L355.9,483.0 L356.3,478.9 L356.7,474.7 L357.2,470.6 L357.7,466.4 L358.1,462.2 L358.6,458.1 L359.1,453.9 L359.4,451.3 L359.6,449.8 L360.1,445.6 L360.6,441.5 L361.1,437.3 L361.7,433.2 L362.2,429.0 L362.8,424.9 L363.3,420.7 L363.6,419.2 L363.9,416.6 L364.5,412.4 L365.1,408.3 L365.7,404.1 L366.4,400.0 L367.0,395.8 L367.7,391.7 L367.7,391.7 L368.4,387.5 L369.1,383.4 L369.8,379.2 L370.5,375.0 L371.3,370.9 L371.8,367.7 L372.0,366.7 L372.8,362.6 L373.6,358.4 L374.5,354.3 L375.3,350.1 L376.0,346.8 L376.2,346.0 L377.1,341.8 L378.0,337.7 L378.9,333.5 L379.9,329.4 L380.1,328.2 L380.9,325.2 L381.9,321.1 L383.0,316.9 L384.0,312.8 L384.3,311.8 L385.1,308.6 L386.3,304.5 L387.5,300.3 L388.4,297.0 L388.7,296.2 L390.0,292.0 L391.3,287.8 L392.6,283.7 L392.6,283.7 L394.0,279.5 L395.4,275.4 L396.8,271.6 L396.9,271.2 L398.4,267.1 L400.0,262.9 L400.9,260.6 L401.6,258.8 L403.3,254.6 L405.1,250.6 L405.1,250.5 L406.9,246.3 L408.9,242.2 L409.2,241.4 L410.8,238.0 L412.9,233.9 L413.4,233.0 L415.0,229.7 L417.3,225.6 L417.5,225.1 L419.6,221.4 L421.7,217.9 L422.0,217.3 L424.6,213.1 L425.8,211.2 L427.2,208.9 L429.9,204.9 L430.0,204.8 L432.9,200.6 L434.1,199.0 L436.0,196.5 L438.2,193.6 L439.2,192.3 L442.4,188.4 L442.6,188.2 L446.2,184.0 L446.6,183.6 L449.9,179.9 L450.7,179.1 L453.9,175.7 L454.9,174.8 L458.1,171.6 L459.0,170.7 L462.6,167.4 L463.2,166.9 L467.3,163.3 L467.3,163.3 L471.5,159.8 L472.3,159.1 L475.6,156.5 L477.7,155.0 L479.8,153.4 L483.4,150.8 L483.9,150.4 L488.1,147.6 L489.5,146.7 L492.2,144.9 L496.1,142.5 L496.4,142.3 L500.5,139.9 L503.1,138.4 L504.6,137.5 L508.8,135.2 L510.7,134.2 L513.0,133.0 L517.1,131.0 L518.9,130.0 L521.2,128.9 L525.4,127.0 L527.9,125.9 L529.5,125.2 L533.7,123.4 L537.6,121.7 L537.9,121.6 L542.0,120.0 L546.2,118.4 L548.2,117.6 L550.3,116.8 L554.4,115.3 L558.6,113.9 L559.9,113.4 L562.8,112.5 L566.9,111.1 L571.0,109.8 L572.7,109.3 L575.2,108.5 L579.3,107.3 L583.5,106.1 L587.0,105.1 L587.6,104.9 L591.8,103.8 L596.0,102.7 L600.1,101.7 L602.8,101.0 L604.2,100.6 L608.4,99.6 L612.5,98.6 L616.7,97.7 L620.6,96.8 L620.9,96.8 L625.0,95.9 L629.1,95.0 L633.3,94.1 L637.5,93.3 L640.7,92.7 L641.6,92.5 L645.8,91.7 L649.9,90.9 L654.1,90.2 L658.2,89.4 L662.3,88.7 L663.5,88.5 L666.5,88.0 L670.6,87.3 L674.8,86.7 L678.9,86.0 L683.1,85.4 L687.2,84.7 L689.7,84.4 L691.4,84.1 L695.5,83.5 L699.7,82.9 L703.9,82.4 L708.0,81.8 L712.1,81.2 L716.3,80.7 L720.1,80.2 L720.5,80.2 L724.6,79.7 L728.8,79.1 L732.9,78.6 L737.1,78.2 L741.2,77.7 L745.4,77.2 L749.5,76.7 L753.7,76.3 L755.7,76.1 L757.8,75.8 L761.9,75.4 L766.1,75.0 L770.2,74.6 L774.4,74.1 L778.5,73.7 L782.7,73.3 L786.9,72.9 L791.0,72.6 L795.1,72.2 L798.1,71.9 L799.3,71.8 L803.5,71.4 L807.6,71.1 L811.8,70.7 L815.9,70.4 L820.0,70.0 L824.2,69.7 L828.4,69.4 L832.5,69.0 L836.6,68.7 L840.8,68.4 L845.0,68.1 L849.1,67.8 L849.4,67.8 L853.2,67.5 L857.4,67.2 L861.6,66.9 L865.7,66.6 L869.8,66.3 L874.0,66.0 L878.1,65.8 L882.3,65.5 L886.4,65.2 L890.6,65.0 L894.8,64.7 L898.9,64.4 L903.0,64.2 L907.2,63.9 L911.4,63.7 L912.7,63.6 L915.5,63.4" fill="none" stroke="#4A7A32" stroke-opacity="0.75" stroke-width="1.7" stroke-dasharray="2 3.5"/>
<rect x="84.9" y="46.4" width="831.2" height="831.7" fill="none" stroke="#DCDCDC" stroke-width="1.2"/>
</g>
<g id="plot-b">
<rect x="1315.6" y="62.5" width="806.7" height="807.9" fill="#6EA846"/>
<path d="M1514.9,870.4 L1515.1,868.8 L1515.4,867.2 L1515.6,865.6 L1515.9,863.9 L1516.1,862.3 L1516.4,860.7 L1516.6,859.1 L1516.9,857.5 L1517.1,855.9 L1517.4,854.2 L1517.7,852.6 L1517.9,851.0 L1518.2,849.4 L1518.4,847.8 L1518.7,846.2 L1518.9,844.5 L1519.2,842.9 L1519.5,841.3 L1519.7,839.7 L1520.0,838.1 L1520.3,836.5 L1520.5,834.9 L1520.8,833.2 L1521.1,831.6 L1521.3,830.0 L1521.6,828.4 L1521.9,826.8 L1522.1,825.2 L1522.4,823.5 L1522.7,821.9 L1523.0,820.3 L1523.2,818.7 L1523.5,817.1 L1523.8,815.5 L1524.1,813.8 L1524.3,812.2 L1524.6,810.6 L1524.9,809.0 L1525.2,807.4 L1525.5,805.8 L1525.8,804.2 L1526.0,802.5 L1526.3,800.9 L1526.6,799.3 L1526.9,797.7 L1527.2,796.1 L1527.5,794.5 L1527.8,792.8 L1528.1,791.2 L1528.4,789.6 L1528.7,788.0 L1529.0,786.4 L1529.3,784.8 L1529.6,783.1 L1529.9,781.5 L1530.2,779.9 L1530.5,778.3 L1530.8,776.7 L1531.1,775.1 L1531.4,773.5 L1531.7,771.8 L1532.0,770.2 L1532.4,768.6 L1532.7,767.0 L1533.0,765.4 L1533.3,763.8 L1533.6,762.1 L1533.9,760.5 L1534.3,758.9 L1534.6,757.3 L1534.9,755.7 L1535.2,754.1 L1535.6,752.4 L1535.9,750.8 L1536.2,749.2 L1536.5,747.6 L1536.9,746.0 L1537.2,744.4 L1537.5,742.8 L1537.9,741.1 L1538.2,739.5 L1538.6,737.9 L1538.9,736.3 L1539.2,734.7 L1539.6,733.1 L1539.9,731.4 L1540.3,729.8 L1540.6,728.2 L1541.0,726.6 L1541.3,725.0 L1541.7,723.4 L1542.0,721.7 L1542.4,720.1 L1542.8,718.5 L1543.1,716.9 L1543.5,715.3 L1543.8,713.7 L1544.2,712.1 L1544.6,710.4 L1544.9,708.8 L1545.3,707.2 L1545.7,705.6 L1546.0,704.0 L1546.4,702.4 L1546.8,700.7 L1547.2,699.1 L1547.6,697.5 L1547.9,695.9 L1548.3,694.3 L1548.7,692.7 L1549.1,691.0 L1549.5,689.4 L1549.9,687.8 L1550.3,686.2 L1550.7,684.6 L1551.0,683.0 L1551.4,681.4 L1551.8,679.7 L1552.2,678.1 L1552.6,676.5 L1553.1,674.9 L1553.5,673.3 L1553.9,671.7 L1554.3,670.0 L1554.7,668.4 L1555.1,666.8 L1555.5,665.2 L1555.9,663.6 L1556.4,662.0 L1556.8,660.3 L1557.2,658.7 L1557.6,657.1 L1558.1,655.5 L1558.5,653.9 L1558.9,652.3 L1559.4,650.7 L1559.8,649.0 L1560.2,647.4 L1560.7,645.8 L1561.1,644.2 L1561.6,642.6 L1562.0,641.0 L1562.5,639.3 L1562.9,637.7 L1563.4,636.1 L1563.9,634.5 L1564.3,632.9 L1564.8,631.3 L1565.2,629.6 L1565.7,628.0 L1566.2,626.4 L1566.6,624.8 L1567.1,623.2 L1567.6,621.6 L1568.1,620.0 L1568.6,618.3 L1569.0,616.7 L1569.5,615.1 L1570.0,613.5 L1570.5,611.9 L1571.0,610.3 L1571.5,608.6 L1572.0,607.0 L1572.5,605.4 L1573.0,603.8 L1573.5,602.2 L1574.0,600.6 L1574.5,598.9 L1575.1,597.3 L1575.6,595.7 L1576.1,594.1 L1576.6,592.5 L1577.2,590.9 L1577.7,589.3 L1578.2,587.6 L1578.8,586.0 L1579.3,584.4 L1579.8,582.8 L1580.4,581.2 L1580.9,579.6 L1581.5,577.9 L1582.0,576.3 L1582.6,574.7 L1583.2,573.1 L1583.7,571.5 L1584.3,569.9 L1584.9,568.2 L1585.4,566.6 L1586.0,565.0 L1586.6,563.4 L1587.2,561.8 L1587.8,560.2 L1588.3,558.6 L1588.9,556.9 L1589.5,555.3 L1590.1,553.7 L1590.7,552.1 L1591.4,550.5 L1592.0,548.9 L1592.6,547.2 L1593.2,545.6 L1593.8,544.0 L1594.4,542.4 L1595.1,540.8 L1595.7,539.2 L1596.3,537.5 L1597.0,535.9 L1597.6,534.3 L1598.3,532.7 L1598.9,531.1 L1599.6,529.5 L1600.2,527.9 L1600.9,526.2 L1601.6,524.6 L1602.2,523.0 L1602.9,521.4 L1603.6,519.8 L1604.3,518.2 L1605.0,516.5 L1605.7,514.9 L1606.4,513.3 L1607.1,511.7 L1607.8,510.1 L1608.5,508.5 L1609.2,506.8 L1609.9,505.2 L1610.6,503.6 L1611.4,502.0 L1612.1,500.4 L1612.8,498.8 L1613.6,497.2 L1614.3,495.5 L1615.1,493.9 L1615.8,492.3 L1616.6,490.7 L1617.4,489.1 L1618.2,487.5 L1618.9,485.8 L1619.7,484.2 L1620.5,482.6 L1621.3,481.0 L1622.1,479.4 L1622.9,477.8 L1623.7,476.1 L1624.5,474.5 L1625.3,472.9 L1626.2,471.3 L1627.0,469.7 L1627.8,468.1 L1628.7,466.4 L1629.5,464.8 L1630.4,463.2 L1631.2,461.6 L1632.1,460.0 L1633.0,458.4 L1633.9,456.8 L1634.8,455.1 L1635.6,453.5 L1636.5,451.9 L1637.4,450.3 L1638.4,448.7 L1639.3,447.1 L1640.2,445.4 L1641.1,443.8 L1642.1,442.2 L1643.0,440.6 L1644.0,439.0 L1644.9,437.4 L1645.9,435.7 L1646.9,434.1 L1647.8,432.5 L1648.8,430.9 L1649.8,429.3 L1650.8,427.7 L1651.8,426.1 L1652.8,424.4 L1653.9,422.8 L1654.9,421.2 L1655.9,419.6 L1657.0,418.0 L1658.0,416.4 L1659.1,414.7 L1660.2,413.1 L1661.3,411.5 L1662.4,409.9 L1663.4,408.3 L1664.6,406.7 L1665.7,405.0 L1666.8,403.4 L1667.9,401.8 L1669.1,400.2 L1670.2,398.6 L1671.4,397.0 L1672.6,395.4 L1673.7,393.7 L1674.9,392.1 L1676.1,390.5 L1677.3,388.9 L1678.5,387.3 L1679.8,385.7 L1681.0,384.0 L1682.3,382.4 L1683.5,380.8 L1684.8,379.2 L1686.1,377.6 L1687.4,376.0 L1688.7,374.3 L1690.0,372.7 L1691.3,371.1 L1692.6,369.5 L1694.0,367.9 L1695.4,366.3 L1696.7,364.7 L1698.1,363.0 L1699.5,361.4 L1700.9,359.8 L1702.3,358.2 L1703.8,356.6 L1705.2,355.0 L1706.7,353.3 L1708.2,351.7 L1709.7,350.1 L1711.2,348.5 L1712.7,346.9 L1714.2,345.3 L1715.7,343.6 L1717.3,342.0 L1718.9,340.4 L1720.5,338.8 L1722.1,337.2 L1723.7,335.6 L1725.3,334.0 L1727.0,332.3 L1728.6,330.7 L1730.3,329.1 L1732.0,327.5 L1733.7,325.9 L1735.4,324.3 L1737.2,322.6 L1739.0,321.0 L1740.7,319.4 L1742.5,317.8 L1744.4,316.2 L1746.2,314.6 L1748.1,312.9 L1749.9,311.3 L1751.8,309.7 L1753.7,308.1 L1755.7,306.5 L1757.6,304.9 L1759.6,303.3 L1761.6,301.6 L1763.6,300.0 L1765.7,298.4 L1767.7,296.8 L1769.8,295.2 L1771.9,293.6 L1774.0,291.9 L1776.2,290.3 L1778.4,288.7 L1780.6,287.1 L1782.8,285.5 L1785.0,283.9 L1787.3,282.2 L1789.6,280.6 L1792.0,279.0 L1794.3,277.4 L1796.7,275.8 L1799.1,274.2 L1801.5,272.6 L1804.0,270.9 L1806.5,269.3 L1809.0,267.7 L1811.6,266.1 L1814.2,264.5 L1816.8,262.9 L1819.4,261.2 L1822.1,259.6 L1824.8,258.0 L1827.6,256.4 L1830.4,254.8 L1833.2,253.2 L1836.0,251.5 L1838.9,249.9 L1841.9,248.3 L1844.8,246.7 L1847.8,245.1 L1850.9,243.5 L1853.9,241.9 L1857.1,240.2 L1860.2,238.6 L1863.4,237.0 L1866.7,235.4 L1870.0,233.8 L1873.3,232.2 L1876.7,230.5 L1880.2,228.9 L1883.6,227.3 L1887.2,225.7 L1890.8,224.1 L1894.4,222.5 L1898.1,220.8 L1901.8,219.2 L1905.6,217.6 L1909.5,216.0 L1913.4,214.4 L1917.3,212.8 L1921.3,211.2 L1925.4,209.5 L1929.6,207.9 L1933.8,206.3 L1938.1,204.7 L1942.4,203.1 L1946.8,201.5 L1951.3,199.8 L1955.9,198.2 L1960.5,196.6 L1965.2,195.0 L1970.0,193.4 L1974.8,191.8 L1979.8,190.1 L1984.8,188.5 L1989.9,186.9 L1995.1,185.3 L2000.4,183.7 L2005.8,182.1 L2011.2,180.5 L2016.8,178.8 L2022.5,177.2 L2028.2,175.6 L2034.1,174.0 L2040.1,172.4 L2046.2,170.8 L2052.4,169.1 L2058.7,167.5 L2065.2,165.9 L2071.7,164.3 L2078.4,162.7 L2085.3,161.1 L2092.2,159.4 L2099.3,157.8 L2106.6,156.2 L2114.0,154.6 L2121.5,153.0 L2122.3,151.4 L2122.3,149.8 L2122.3,148.1 L2122.3,146.5 L2122.3,144.9 L2122.3,143.3 L2122.3,141.7 L2122.3,140.1 L2122.3,138.4 L2122.3,136.8 L2122.3,135.2 L2122.3,133.6 L2122.3,132.0 L2122.3,130.4 L2122.3,128.7 L2122.3,127.1 L2122.3,125.5 L2122.3,123.9 L2122.3,122.3 L2122.3,120.7 L2122.3,119.1 L2122.3,117.4 L2122.3,115.8 L2122.3,114.2 L2122.3,112.6 L2122.3,111.0 L2122.3,109.4 L2122.3,107.7 L2122.3,106.1 L2122.3,104.5 L2122.3,102.9 L2122.3,101.3 L2122.3,99.7 L2122.3,98.0 L2122.3,96.4 L2122.3,94.8 L2122.3,93.2 L2122.3,91.6 L2122.3,90.0 L2122.3,88.4 L2122.3,86.7 L2122.3,85.1 L2122.3,83.5 L2122.3,81.9 L2122.3,80.3 L2122.3,78.7 L2122.3,77.0 L2122.3,75.4 L2122.3,73.8 L2122.3,72.2 L2122.3,70.6 L2122.3,69.0 L2122.3,67.3 L2122.3,65.7 L2122.3,64.1 L2122.3,62.5 L2122.3,62.5 L2122.3,870.4 Z" fill="#406EBF"/>
<path d="M1655.2,870.4 L1655.7,868.8 L1656.3,867.2 L1656.8,865.6 L1657.3,863.9 L1657.8,862.3 L1658.3,860.7 L1658.8,859.1 L1659.3,857.5 L1659.9,855.9 L1660.4,854.2 L1660.9,852.6 L1661.4,851.0 L1662.0,849.4 L1662.5,847.8 L1663.0,846.2 L1663.6,844.5 L1664.1,842.9 L1664.6,841.3 L1665.2,839.7 L1665.7,838.1 L1666.3,836.5 L1666.8,834.9 L1667.4,833.2 L1667.9,831.6 L1668.5,830.0 L1669.0,828.4 L1669.6,826.8 L1670.1,825.2 L1670.7,823.5 L1671.3,821.9 L1671.8,820.3 L1672.4,818.7 L1673.0,817.1 L1673.5,815.5 L1674.1,813.8 L1674.7,812.2 L1675.3,810.6 L1675.8,809.0 L1676.4,807.4 L1677.0,805.8 L1677.6,804.2 L1678.2,802.5 L1678.8,800.9 L1679.4,799.3 L1680.0,797.7 L1680.6,796.1 L1681.2,794.5 L1681.8,792.8 L1682.4,791.2 L1683.0,789.6 L1683.6,788.0 L1684.2,786.4 L1684.9,784.8 L1685.5,783.1 L1686.1,781.5 L1686.7,779.9 L1687.4,778.3 L1688.0,776.7 L1688.6,775.1 L1689.3,773.5 L1689.9,771.8 L1690.5,770.2 L1691.2,768.6 L1691.8,767.0 L1692.5,765.4 L1693.1,763.8 L1693.8,762.1 L1694.5,760.5 L1695.1,758.9 L1695.8,757.3 L1696.4,755.7 L1697.1,754.1 L1697.8,752.4 L1698.5,750.8 L1699.1,749.2 L1699.8,747.6 L1700.5,746.0 L1701.2,744.4 L1701.9,742.8 L1702.6,741.1 L1703.3,739.5 L1704.0,737.9 L1704.7,736.3 L1705.4,734.7 L1706.1,733.1 L1706.8,731.4 L1707.5,729.8 L1708.2,728.2 L1709.0,726.6 L1709.7,725.0 L1710.4,723.4 L1711.1,721.7 L1711.9,720.1 L1712.6,718.5 L1713.3,716.9 L1714.1,715.3 L1714.8,713.7 L1715.6,712.1 L1716.3,710.4 L1717.1,708.8 L1717.9,707.2 L1718.6,705.6 L1719.4,704.0 L1720.2,702.4 L1720.9,700.7 L1721.7,699.1 L1722.5,697.5 L1723.3,695.9 L1724.1,694.3 L1724.9,692.7 L1725.7,691.0 L1726.5,689.4 L1727.3,687.8 L1728.1,686.2 L1728.9,684.6 L1729.7,683.0 L1730.5,681.4 L1731.3,679.7 L1732.2,678.1 L1733.0,676.5 L1733.8,674.9 L1734.7,673.3 L1735.5,671.7 L1736.4,670.0 L1737.2,668.4 L1738.1,666.8 L1738.9,665.2 L1739.8,663.6 L1740.7,662.0 L1741.5,660.3 L1742.4,658.7 L1743.3,657.1 L1744.2,655.5 L1745.1,653.9 L1745.9,652.3 L1746.8,650.7 L1747.7,649.0 L1748.7,647.4 L1749.6,645.8 L1750.5,644.2 L1751.4,642.6 L1752.3,641.0 L1753.3,639.3 L1754.2,637.7 L1755.1,636.1 L1756.1,634.5 L1757.0,632.9 L1758.0,631.3 L1758.9,629.6 L1759.9,628.0 L1760.9,626.4 L1761.8,624.8 L1762.8,623.2 L1763.8,621.6 L1764.8,620.0 L1765.8,618.3 L1766.8,616.7 L1767.8,615.1 L1768.8,613.5 L1769.8,611.9 L1770.8,610.3 L1771.8,608.6 L1772.9,607.0 L1773.9,605.4 L1775.0,603.8 L1776.0,602.2 L1777.1,600.6 L1778.1,598.9 L1779.2,597.3 L1780.2,595.7 L1781.3,594.1 L1782.4,592.5 L1783.5,590.9 L1784.6,589.3 L1785.7,587.6 L1786.8,586.0 L1787.9,584.4 L1789.0,582.8 L1790.1,581.2 L1791.3,579.6 L1792.4,577.9 L1793.5,576.3 L1794.7,574.7 L1795.8,573.1 L1797.0,571.5 L1798.2,569.9 L1799.3,568.2 L1800.5,566.6 L1801.7,565.0 L1802.9,563.4 L1804.1,561.8 L1805.3,560.2 L1806.5,558.6 L1807.8,556.9 L1809.0,555.3 L1810.2,553.7 L1811.5,552.1 L1812.7,550.5 L1814.0,548.9 L1815.2,547.2 L1816.5,545.6 L1817.8,544.0 L1819.1,542.4 L1820.4,540.8 L1821.7,539.2 L1823.0,537.5 L1824.3,535.9 L1825.6,534.3 L1827.0,532.7 L1828.3,531.1 L1829.7,529.5 L1831.0,527.9 L1832.4,526.2 L1833.8,524.6 L1835.2,523.0 L1836.6,521.4 L1838.0,519.8 L1839.4,518.2 L1840.8,516.5 L1842.2,514.9 L1843.7,513.3 L1845.1,511.7 L1846.6,510.1 L1848.0,508.5 L1849.5,506.8 L1851.0,505.2 L1852.5,503.6 L1854.0,502.0 L1855.5,500.4 L1857.0,498.8 L1858.5,497.2 L1860.1,495.5 L1861.6,493.9 L1863.2,492.3 L1864.8,490.7 L1866.3,489.1 L1867.9,487.5 L1869.5,485.8 L1871.1,484.2 L1872.8,482.6 L1874.4,481.0 L1876.1,479.4 L1877.7,477.8 L1879.4,476.1 L1881.1,474.5 L1882.7,472.9 L1884.4,471.3 L1886.2,469.7 L1887.9,468.1 L1889.6,466.4 L1891.4,464.8 L1893.1,463.2 L1894.9,461.6 L1896.7,460.0 L1898.5,458.4 L1900.3,456.8 L1902.1,455.1 L1904.0,453.5 L1905.8,451.9 L1907.7,450.3 L1909.6,448.7 L1911.4,447.1 L1913.3,445.4 L1915.3,443.8 L1917.2,442.2 L1919.1,440.6 L1921.1,439.0 L1923.1,437.4 L1925.1,435.7 L1927.1,434.1 L1929.1,432.5 L1931.1,430.9 L1933.2,429.3 L1935.2,427.7 L1937.3,426.1 L1939.4,424.4 L1941.5,422.8 L1943.6,421.2 L1945.8,419.6 L1947.9,418.0 L1950.1,416.4 L1952.3,414.7 L1954.5,413.1 L1956.7,411.5 L1959.0,409.9 L1961.2,408.3 L1963.5,406.7 L1965.8,405.0 L1968.1,403.4 L1970.5,401.8 L1972.8,400.2 L1975.2,398.6 L1977.6,397.0 L1980.0,395.4 L1982.4,393.7 L1984.9,392.1 L1987.3,390.5 L1989.8,388.9 L1992.3,387.3 L1994.9,385.7 L1997.4,384.0 L2000.0,382.4 L2002.6,380.8 L2005.2,379.2 L2007.9,377.6 L2010.5,376.0 L2013.2,374.3 L2015.9,372.7 L2018.6,371.1 L2021.4,369.5 L2024.2,367.9 L2027.0,366.3 L2029.8,364.7 L2032.7,363.0 L2035.5,361.4 L2038.4,359.8 L2041.4,358.2 L2044.3,356.6 L2047.3,355.0 L2050.3,353.3 L2053.4,351.7 L2056.4,350.1 L2059.5,348.5 L2062.6,346.9 L2065.8,345.3 L2069.0,343.6 L2072.2,342.0 L2075.4,340.4 L2078.7,338.8 L2082.0,337.2 L2085.3,335.6 L2088.7,334.0 L2092.1,332.3 L2095.5,330.7 L2099.0,329.1 L2102.5,327.5 L2106.0,325.9 L2109.6,324.3 L2113.2,322.6 L2116.8,321.0 L2120.5,319.4 L2122.3,317.8 L2122.3,316.2 L2122.3,314.6 L2122.3,312.9 L2122.3,311.3 L2122.3,309.7 L2122.3,308.1 L2122.3,306.5 L2122.3,304.9 L2122.3,303.3 L2122.3,301.6 L2122.3,300.0 L2122.3,298.4 L2122.3,296.8 L2122.3,295.2 L2122.3,293.6 L2122.3,291.9 L2122.3,290.3 L2122.3,288.7 L2122.3,287.1 L2122.3,285.5 L2122.3,283.9 L2122.3,282.2 L2122.3,280.6 L2122.3,279.0 L2122.3,277.4 L2122.3,275.8 L2122.3,274.2 L2122.3,272.6 L2122.3,270.9 L2122.3,269.3 L2122.3,267.7 L2122.3,266.1 L2122.3,264.5 L2122.3,262.9 L2122.3,261.2 L2122.3,259.6 L2122.3,258.0 L2122.3,256.4 L2122.3,254.8 L2122.3,253.2 L2122.3,251.5 L2122.3,249.9 L2122.3,248.3 L2122.3,246.7 L2122.3,245.1 L2122.3,243.5 L2122.3,241.9 L2122.3,240.2 L2122.3,238.6 L2122.3,237.0 L2122.3,235.4 L2122.3,233.8 L2122.3,232.2 L2122.3,230.5 L2122.3,228.9 L2122.3,227.3 L2122.3,225.7 L2122.3,224.1 L2122.3,222.5 L2122.3,220.8 L2122.3,219.2 L2122.3,217.6 L2122.3,216.0 L2122.3,214.4 L2122.3,212.8 L2122.3,211.2 L2122.3,209.5 L2122.3,207.9 L2122.3,206.3 L2122.3,204.7 L2122.3,203.1 L2122.3,201.5 L2122.3,199.8 L2122.3,198.2 L2122.3,196.6 L2122.3,195.0 L2122.3,193.4 L2122.3,191.8 L2122.3,190.1 L2122.3,188.5 L2122.3,186.9 L2122.3,185.3 L2122.3,183.7 L2122.3,182.1 L2122.3,180.5 L2122.3,178.8 L2122.3,177.2 L2122.3,175.6 L2122.3,174.0 L2122.3,172.4 L2122.3,170.8 L2122.3,169.1 L2122.3,167.5 L2122.3,165.9 L2122.3,164.3 L2122.3,162.7 L2122.3,161.1 L2122.3,159.4 L2122.3,157.8 L2122.3,156.2 L2122.3,154.6 L2122.3,153.0 L2122.3,151.4 L2122.3,149.8 L2122.3,148.1 L2122.3,146.5 L2122.3,144.9 L2122.3,143.3 L2122.3,141.7 L2122.3,140.1 L2122.3,138.4 L2122.3,136.8 L2122.3,135.2 L2122.3,133.6 L2122.3,132.0 L2122.3,130.4 L2122.3,128.7 L2122.3,127.1 L2122.3,125.5 L2122.3,123.9 L2122.3,122.3 L2122.3,120.7 L2122.3,119.1 L2122.3,117.4 L2122.3,115.8 L2122.3,114.2 L2122.3,112.6 L2122.3,111.0 L2122.3,109.4 L2122.3,107.7 L2122.3,106.1 L2122.3,104.5 L2122.3,102.9 L2122.3,101.3 L2122.3,99.7 L2122.3,98.0 L2122.3,96.4 L2122.3,94.8 L2122.3,93.2 L2122.3,91.6 L2122.3,90.0 L2122.3,88.4 L2122.3,86.7 L2122.3,85.1 L2122.3,83.5 L2122.3,81.9 L2122.3,80.3 L2122.3,78.7 L2122.3,77.0 L2122.3,75.4 L2122.3,73.8 L2122.3,72.2 L2122.3,70.6 L2122.3,69.0 L2122.3,67.3 L2122.3,65.7 L2122.3,64.1 L2122.3,62.5 L2122.3,62.5 L2122.3,870.4 Z" fill="#F6BD00"/>
<path d="M1795.6,870.4 L1796.3,868.8 L1797.1,867.2 L1797.9,865.6 L1798.7,863.9 L1799.4,862.3 L1800.2,860.7 L1801.0,859.1 L1801.8,857.5 L1802.6,855.9 L1803.4,854.2 L1804.2,852.6 L1804.9,851.0 L1805.7,849.4 L1806.6,847.8 L1807.4,846.2 L1808.2,844.5 L1809.0,842.9 L1809.8,841.3 L1810.6,839.7 L1811.4,838.1 L1812.3,836.5 L1813.1,834.9 L1813.9,833.2 L1814.8,831.6 L1815.6,830.0 L1816.4,828.4 L1817.3,826.8 L1818.1,825.2 L1819.0,823.5 L1819.8,821.9 L1820.7,820.3 L1821.5,818.7 L1822.4,817.1 L1823.3,815.5 L1824.2,813.8 L1825.0,812.2 L1825.9,810.6 L1826.8,809.0 L1827.7,807.4 L1828.6,805.8 L1829.5,804.2 L1830.3,802.5 L1831.2,800.9 L1832.2,799.3 L1833.1,797.7 L1834.0,796.1 L1834.9,794.5 L1835.8,792.8 L1836.7,791.2 L1837.6,789.6 L1838.6,788.0 L1839.5,786.4 L1840.4,784.8 L1841.4,783.1 L1842.3,781.5 L1843.3,779.9 L1844.2,778.3 L1845.2,776.7 L1846.1,775.1 L1847.1,773.5 L1848.1,771.8 L1849.1,770.2 L1850.0,768.6 L1851.0,767.0 L1852.0,765.4 L1853.0,763.8 L1854.0,762.1 L1855.0,760.5 L1856.0,758.9 L1857.0,757.3 L1858.0,755.7 L1859.0,754.1 L1860.0,752.4 L1861.0,750.8 L1862.1,749.2 L1863.1,747.6 L1864.1,746.0 L1865.2,744.4 L1866.2,742.8 L1867.3,741.1 L1868.3,739.5 L1869.4,737.9 L1870.4,736.3 L1871.5,734.7 L1872.6,733.1 L1873.7,731.4 L1874.7,729.8 L1875.8,728.2 L1876.9,726.6 L1878.0,725.0 L1879.1,723.4 L1880.2,721.7 L1881.3,720.1 L1882.5,718.5 L1883.6,716.9 L1884.7,715.3 L1885.8,713.7 L1887.0,712.1 L1888.1,710.4 L1889.3,708.8 L1890.4,707.2 L1891.6,705.6 L1892.7,704.0 L1893.9,702.4 L1895.1,700.7 L1896.3,699.1 L1897.4,697.5 L1898.6,695.9 L1899.8,694.3 L1901.0,692.7 L1902.2,691.0 L1903.4,689.4 L1904.7,687.8 L1905.9,686.2 L1907.1,684.6 L1908.3,683.0 L1909.6,681.4 L1910.8,679.7 L1912.1,678.1 L1913.3,676.5 L1914.6,674.9 L1915.9,673.3 L1917.2,671.7 L1918.4,670.0 L1919.7,668.4 L1921.0,666.8 L1922.3,665.2 L1923.6,663.6 L1924.9,662.0 L1926.3,660.3 L1927.6,658.7 L1928.9,657.1 L1930.3,655.5 L1931.6,653.9 L1933.0,652.3 L1934.3,650.7 L1935.7,649.0 L1937.1,647.4 L1938.4,645.8 L1939.8,644.2 L1941.2,642.6 L1942.6,641.0 L1944.0,639.3 L1945.4,637.7 L1946.9,636.1 L1948.3,634.5 L1949.7,632.9 L1951.2,631.3 L1952.6,629.6 L1954.1,628.0 L1955.5,626.4 L1957.0,624.8 L1958.5,623.2 L1960.0,621.6 L1961.5,620.0 L1963.0,618.3 L1964.5,616.7 L1966.0,615.1 L1967.6,613.5 L1969.1,611.9 L1970.6,610.3 L1972.2,608.6 L1973.7,607.0 L1975.3,605.4 L1976.9,603.8 L1978.5,602.2 L1980.1,600.6 L1981.7,598.9 L1983.3,597.3 L1984.9,595.7 L1986.5,594.1 L1988.2,592.5 L1989.8,590.9 L1991.5,589.3 L1993.1,587.6 L1994.8,586.0 L1996.5,584.4 L1998.2,582.8 L1999.9,581.2 L2001.6,579.6 L2003.3,577.9 L2005.0,576.3 L2006.8,574.7 L2008.5,573.1 L2010.3,571.5 L2012.1,569.9 L2013.8,568.2 L2015.6,566.6 L2017.4,565.0 L2019.2,563.4 L2021.1,561.8 L2022.9,560.2 L2024.7,558.6 L2026.6,556.9 L2028.4,555.3 L2030.3,553.7 L2032.2,552.1 L2034.1,550.5 L2036.0,548.9 L2037.9,547.2 L2039.8,545.6 L2041.8,544.0 L2043.7,542.4 L2045.7,540.8 L2047.7,539.2 L2049.7,537.5 L2051.7,535.9 L2053.7,534.3 L2055.7,532.7 L2057.7,531.1 L2059.8,529.5 L2061.8,527.9 L2063.9,526.2 L2066.0,524.6 L2068.1,523.0 L2070.2,521.4 L2072.3,519.8 L2074.4,518.2 L2076.6,516.5 L2078.8,514.9 L2080.9,513.3 L2083.1,511.7 L2085.3,510.1 L2087.6,508.5 L2089.8,506.8 L2092.0,505.2 L2094.3,503.6 L2096.6,502.0 L2098.9,500.4 L2101.2,498.8 L2103.5,497.2 L2105.8,495.5 L2108.2,493.9 L2110.5,492.3 L2112.9,490.7 L2115.3,489.1 L2117.7,487.5 L2120.1,485.8 L2122.3,484.2 L2122.3,482.6 L2122.3,481.0 L2122.3,479.4 L2122.3,477.8 L2122.3,476.1 L2122.3,474.5 L2122.3,472.9 L2122.3,471.3 L2122.3,469.7 L2122.3,468.1 L2122.3,466.4 L2122.3,464.8 L2122.3,463.2 L2122.3,461.6 L2122.3,460.0 L2122.3,458.4 L2122.3,456.8 L2122.3,455.1 L2122.3,453.5 L2122.3,451.9 L2122.3,450.3 L2122.3,448.7 L2122.3,447.1 L2122.3,445.4 L2122.3,443.8 L2122.3,442.2 L2122.3,440.6 L2122.3,439.0 L2122.3,437.4 L2122.3,435.7 L2122.3,434.1 L2122.3,432.5 L2122.3,430.9 L2122.3,429.3 L2122.3,427.7 L2122.3,426.1 L2122.3,424.4 L2122.3,422.8 L2122.3,421.2 L2122.3,419.6 L2122.3,418.0 L2122.3,416.4 L2122.3,414.7 L2122.3,413.1 L2122.3,411.5 L2122.3,409.9 L2122.3,408.3 L2122.3,406.7 L2122.3,405.0 L2122.3,403.4 L2122.3,401.8 L2122.3,400.2 L2122.3,398.6 L2122.3,397.0 L2122.3,395.4 L2122.3,393.7 L2122.3,392.1 L2122.3,390.5 L2122.3,388.9 L2122.3,387.3 L2122.3,385.7 L2122.3,384.0 L2122.3,382.4 L2122.3,380.8 L2122.3,379.2 L2122.3,377.6 L2122.3,376.0 L2122.3,374.3 L2122.3,372.7 L2122.3,371.1 L2122.3,369.5 L2122.3,367.9 L2122.3,366.3 L2122.3,364.7 L2122.3,363.0 L2122.3,361.4 L2122.3,359.8 L2122.3,358.2 L2122.3,356.6 L2122.3,355.0 L2122.3,353.3 L2122.3,351.7 L2122.3,350.1 L2122.3,348.5 L2122.3,346.9 L2122.3,345.3 L2122.3,343.6 L2122.3,342.0 L2122.3,340.4 L2122.3,338.8 L2122.3,337.2 L2122.3,335.6 L2122.3,334.0 L2122.3,332.3 L2122.3,330.7 L2122.3,329.1 L2122.3,327.5 L2122.3,325.9 L2122.3,324.3 L2122.3,322.6 L2122.3,321.0 L2122.3,319.4 L2122.3,317.8 L2122.3,316.2 L2122.3,314.6 L2122.3,312.9 L2122.3,311.3 L2122.3,309.7 L2122.3,308.1 L2122.3,306.5 L2122.3,304.9 L2122.3,303.3 L2122.3,301.6 L2122.3,300.0 L2122.3,298.4 L2122.3,296.8 L2122.3,295.2 L2122.3,293.6 L2122.3,291.9 L2122.3,290.3 L2122.3,288.7 L2122.3,287.1 L2122.3,285.5 L2122.3,283.9 L2122.3,282.2 L2122.3,280.6 L2122.3,279.0 L2122.3,277.4 L2122.3,275.8 L2122.3,274.2 L2122.3,272.6 L2122.3,270.9 L2122.3,269.3 L2122.3,267.7 L2122.3,266.1 L2122.3,264.5 L2122.3,262.9 L2122.3,261.2 L2122.3,259.6 L2122.3,258.0 L2122.3,256.4 L2122.3,254.8 L2122.3,253.2 L2122.3,251.5 L2122.3,249.9 L2122.3,248.3 L2122.3,246.7 L2122.3,245.1 L2122.3,243.5 L2122.3,241.9 L2122.3,240.2 L2122.3,238.6 L2122.3,237.0 L2122.3,235.4 L2122.3,233.8 L2122.3,232.2 L2122.3,230.5 L2122.3,228.9 L2122.3,227.3 L2122.3,225.7 L2122.3,224.1 L2122.3,222.5 L2122.3,220.8 L2122.3,219.2 L2122.3,217.6 L2122.3,216.0 L2122.3,214.4 L2122.3,212.8 L2122.3,211.2 L2122.3,209.5 L2122.3,207.9 L2122.3,206.3 L2122.3,204.7 L2122.3,203.1 L2122.3,201.5 L2122.3,199.8 L2122.3,198.2 L2122.3,196.6 L2122.3,195.0 L2122.3,193.4 L2122.3,191.8 L2122.3,190.1 L2122.3,188.5 L2122.3,186.9 L2122.3,185.3 L2122.3,183.7 L2122.3,182.1 L2122.3,180.5 L2122.3,178.8 L2122.3,177.2 L2122.3,175.6 L2122.3,174.0 L2122.3,172.4 L2122.3,170.8 L2122.3,169.1 L2122.3,167.5 L2122.3,165.9 L2122.3,164.3 L2122.3,162.7 L2122.3,161.1 L2122.3,159.4 L2122.3,157.8 L2122.3,156.2 L2122.3,154.6 L2122.3,153.0 L2122.3,151.4 L2122.3,149.8 L2122.3,148.1 L2122.3,146.5 L2122.3,144.9 L2122.3,143.3 L2122.3,141.7 L2122.3,140.1 L2122.3,138.4 L2122.3,136.8 L2122.3,135.2 L2122.3,133.6 L2122.3,132.0 L2122.3,130.4 L2122.3,128.7 L2122.3,127.1 L2122.3,125.5 L2122.3,123.9 L2122.3,122.3 L2122.3,120.7 L2122.3,119.1 L2122.3,117.4 L2122.3,115.8 L2122.3,114.2 L2122.3,112.6 L2122.3,111.0 L2122.3,109.4 L2122.3,107.7 L2122.3,106.1 L2122.3,104.5 L2122.3,102.9 L2122.3,101.3 L2122.3,99.7 L2122.3,98.0 L2122.3,96.4 L2122.3,94.8 L2122.3,93.2 L2122.3,91.6 L2122.3,90.0 L2122.3,88.4 L2122.3,86.7 L2122.3,85.1 L2122.3,83.5 L2122.3,81.9 L2122.3,80.3 L2122.3,78.7 L2122.3,77.0 L2122.3,75.4 L2122.3,73.8 L2122.3,72.2 L2122.3,70.6 L2122.3,69.0 L2122.3,67.3 L2122.3,65.7 L2122.3,64.1 L2122.3,62.5 L2122.3,62.5 L2122.3,870.4 Z" fill="#A0A0A0"/>
<path d="M1935.9,870.4 L1936.9,868.8 L1938.0,867.2 L1939.0,865.6 L1940.0,863.9 L1941.1,862.3 L1942.1,860.7 L1943.2,859.1 L1944.2,857.5 L1945.3,855.9 L1946.3,854.2 L1947.4,852.6 L1948.5,851.0 L1949.5,849.4 L1950.6,847.8 L1951.7,846.2 L1952.8,844.5 L1953.9,842.9 L1955.0,841.3 L1956.1,839.7 L1957.2,838.1 L1958.3,836.5 L1959.4,834.9 L1960.5,833.2 L1961.6,831.6 L1962.7,830.0 L1963.9,828.4 L1965.0,826.8 L1966.1,825.2 L1967.3,823.5 L1968.4,821.9 L1969.6,820.3 L1970.7,818.7 L1971.9,817.1 L1973.0,815.5 L1974.2,813.8 L1975.4,812.2 L1976.5,810.6 L1977.7,809.0 L1978.9,807.4 L1980.1,805.8 L1981.3,804.2 L1982.5,802.5 L1983.7,800.9 L1984.9,799.3 L1986.1,797.7 L1987.3,796.1 L1988.6,794.5 L1989.8,792.8 L1991.0,791.2 L1992.3,789.6 L1993.5,788.0 L1994.8,786.4 L1996.0,784.8 L1997.3,783.1 L1998.6,781.5 L1999.8,779.9 L2001.1,778.3 L2002.4,776.7 L2003.7,775.1 L2005.0,773.5 L2006.3,771.8 L2007.6,770.2 L2008.9,768.6 L2010.2,767.0 L2011.5,765.4 L2012.8,763.8 L2014.2,762.1 L2015.5,760.5 L2016.8,758.9 L2018.2,757.3 L2019.5,755.7 L2020.9,754.1 L2022.3,752.4 L2023.6,750.8 L2025.0,749.2 L2026.4,747.6 L2027.8,746.0 L2029.2,744.4 L2030.6,742.8 L2032.0,741.1 L2033.4,739.5 L2034.8,737.9 L2036.2,736.3 L2037.7,734.7 L2039.1,733.1 L2040.5,731.4 L2042.0,729.8 L2043.4,728.2 L2044.9,726.6 L2046.4,725.0 L2047.8,723.4 L2049.3,721.7 L2050.8,720.1 L2052.3,718.5 L2053.8,716.9 L2055.3,715.3 L2056.8,713.7 L2058.4,712.1 L2059.9,710.4 L2061.4,708.8 L2063.0,707.2 L2064.5,705.6 L2066.1,704.0 L2067.6,702.4 L2069.2,700.7 L2070.8,699.1 L2072.4,697.5 L2074.0,695.9 L2075.6,694.3 L2077.2,692.7 L2078.8,691.0 L2080.4,689.4 L2082.1,687.8 L2083.7,686.2 L2085.3,684.6 L2087.0,683.0 L2088.7,681.4 L2090.3,679.7 L2092.0,678.1 L2093.7,676.5 L2095.4,674.9 L2097.1,673.3 L2098.8,671.7 L2100.5,670.0 L2102.2,668.4 L2104.0,666.8 L2105.7,665.2 L2107.5,663.6 L2109.2,662.0 L2111.0,660.3 L2112.8,658.7 L2114.6,657.1 L2116.4,655.5 L2118.2,653.9 L2120.0,652.3 L2121.8,650.7 L2122.3,649.0 L2122.3,647.4 L2122.3,645.8 L2122.3,644.2 L2122.3,642.6 L2122.3,641.0 L2122.3,639.3 L2122.3,637.7 L2122.3,636.1 L2122.3,634.5 L2122.3,632.9 L2122.3,631.3 L2122.3,629.6 L2122.3,628.0 L2122.3,626.4 L2122.3,624.8 L2122.3,623.2 L2122.3,621.6 L2122.3,620.0 L2122.3,618.3 L2122.3,616.7 L2122.3,615.1 L2122.3,613.5 L2122.3,611.9 L2122.3,610.3 L2122.3,608.6 L2122.3,607.0 L2122.3,605.4 L2122.3,603.8 L2122.3,602.2 L2122.3,600.6 L2122.3,598.9 L2122.3,597.3 L2122.3,595.7 L2122.3,594.1 L2122.3,592.5 L2122.3,590.9 L2122.3,589.3 L2122.3,587.6 L2122.3,586.0 L2122.3,584.4 L2122.3,582.8 L2122.3,581.2 L2122.3,579.6 L2122.3,577.9 L2122.3,576.3 L2122.3,574.7 L2122.3,573.1 L2122.3,571.5 L2122.3,569.9 L2122.3,568.2 L2122.3,566.6 L2122.3,565.0 L2122.3,563.4 L2122.3,561.8 L2122.3,560.2 L2122.3,558.6 L2122.3,556.9 L2122.3,555.3 L2122.3,553.7 L2122.3,552.1 L2122.3,550.5 L2122.3,548.9 L2122.3,547.2 L2122.3,545.6 L2122.3,544.0 L2122.3,542.4 L2122.3,540.8 L2122.3,539.2 L2122.3,537.5 L2122.3,535.9 L2122.3,534.3 L2122.3,532.7 L2122.3,531.1 L2122.3,529.5 L2122.3,527.9 L2122.3,526.2 L2122.3,524.6 L2122.3,523.0 L2122.3,521.4 L2122.3,519.8 L2122.3,518.2 L2122.3,516.5 L2122.3,514.9 L2122.3,513.3 L2122.3,511.7 L2122.3,510.1 L2122.3,508.5 L2122.3,506.8 L2122.3,505.2 L2122.3,503.6 L2122.3,502.0 L2122.3,500.4 L2122.3,498.8 L2122.3,497.2 L2122.3,495.5 L2122.3,493.9 L2122.3,492.3 L2122.3,490.7 L2122.3,489.1 L2122.3,487.5 L2122.3,485.8 L2122.3,484.2 L2122.3,482.6 L2122.3,481.0 L2122.3,479.4 L2122.3,477.8 L2122.3,476.1 L2122.3,474.5 L2122.3,472.9 L2122.3,471.3 L2122.3,469.7 L2122.3,468.1 L2122.3,466.4 L2122.3,464.8 L2122.3,463.2 L2122.3,461.6 L2122.3,460.0 L2122.3,458.4 L2122.3,456.8 L2122.3,455.1 L2122.3,453.5 L2122.3,451.9 L2122.3,450.3 L2122.3,448.7 L2122.3,447.1 L2122.3,445.4 L2122.3,443.8 L2122.3,442.2 L2122.3,440.6 L2122.3,439.0 L2122.3,437.4 L2122.3,435.7 L2122.3,434.1 L2122.3,432.5 L2122.3,430.9 L2122.3,429.3 L2122.3,427.7 L2122.3,426.1 L2122.3,424.4 L2122.3,422.8 L2122.3,421.2 L2122.3,419.6 L2122.3,418.0 L2122.3,416.4 L2122.3,414.7 L2122.3,413.1 L2122.3,411.5 L2122.3,409.9 L2122.3,408.3 L2122.3,406.7 L2122.3,405.0 L2122.3,403.4 L2122.3,401.8 L2122.3,400.2 L2122.3,398.6 L2122.3,397.0 L2122.3,395.4 L2122.3,393.7 L2122.3,392.1 L2122.3,390.5 L2122.3,388.9 L2122.3,387.3 L2122.3,385.7 L2122.3,384.0 L2122.3,382.4 L2122.3,380.8 L2122.3,379.2 L2122.3,377.6 L2122.3,376.0 L2122.3,374.3 L2122.3,372.7 L2122.3,371.1 L2122.3,369.5 L2122.3,367.9 L2122.3,366.3 L2122.3,364.7 L2122.3,363.0 L2122.3,361.4 L2122.3,359.8 L2122.3,358.2 L2122.3,356.6 L2122.3,355.0 L2122.3,353.3 L2122.3,351.7 L2122.3,350.1 L2122.3,348.5 L2122.3,346.9 L2122.3,345.3 L2122.3,343.6 L2122.3,342.0 L2122.3,340.4 L2122.3,338.8 L2122.3,337.2 L2122.3,335.6 L2122.3,334.0 L2122.3,332.3 L2122.3,330.7 L2122.3,329.1 L2122.3,327.5 L2122.3,325.9 L2122.3,324.3 L2122.3,322.6 L2122.3,321.0 L2122.3,319.4 L2122.3,317.8 L2122.3,316.2 L2122.3,314.6 L2122.3,312.9 L2122.3,311.3 L2122.3,309.7 L2122.3,308.1 L2122.3,306.5 L2122.3,304.9 L2122.3,303.3 L2122.3,301.6 L2122.3,300.0 L2122.3,298.4 L2122.3,296.8 L2122.3,295.2 L2122.3,293.6 L2122.3,291.9 L2122.3,290.3 L2122.3,288.7 L2122.3,287.1 L2122.3,285.5 L2122.3,283.9 L2122.3,282.2 L2122.3,280.6 L2122.3,279.0 L2122.3,277.4 L2122.3,275.8 L2122.3,274.2 L2122.3,272.6 L2122.3,270.9 L2122.3,269.3 L2122.3,267.7 L2122.3,266.1 L2122.3,264.5 L2122.3,262.9 L2122.3,261.2 L2122.3,259.6 L2122.3,258.0 L2122.3,256.4 L2122.3,254.8 L2122.3,253.2 L2122.3,251.5 L2122.3,249.9 L2122.3,248.3 L2122.3,246.7 L2122.3,245.1 L2122.3,243.5 L2122.3,241.9 L2122.3,240.2 L2122.3,238.6 L2122.3,237.0 L2122.3,235.4 L2122.3,233.8 L2122.3,232.2 L2122.3,230.5 L2122.3,228.9 L2122.3,227.3 L2122.3,225.7 L2122.3,224.1 L2122.3,222.5 L2122.3,220.8 L2122.3,219.2 L2122.3,217.6 L2122.3,216.0 L2122.3,214.4 L2122.3,212.8 L2122.3,211.2 L2122.3,209.5 L2122.3,207.9 L2122.3,206.3 L2122.3,204.7 L2122.3,203.1 L2122.3,201.5 L2122.3,199.8 L2122.3,198.2 L2122.3,196.6 L2122.3,195.0 L2122.3,193.4 L2122.3,191.8 L2122.3,190.1 L2122.3,188.5 L2122.3,186.9 L2122.3,185.3 L2122.3,183.7 L2122.3,182.1 L2122.3,180.5 L2122.3,178.8 L2122.3,177.2 L2122.3,175.6 L2122.3,174.0 L2122.3,172.4 L2122.3,170.8 L2122.3,169.1 L2122.3,167.5 L2122.3,165.9 L2122.3,164.3 L2122.3,162.7 L2122.3,161.1 L2122.3,159.4 L2122.3,157.8 L2122.3,156.2 L2122.3,154.6 L2122.3,153.0 L2122.3,151.4 L2122.3,149.8 L2122.3,148.1 L2122.3,146.5 L2122.3,144.9 L2122.3,143.3 L2122.3,141.7 L2122.3,140.1 L2122.3,138.4 L2122.3,136.8 L2122.3,135.2 L2122.3,133.6 L2122.3,132.0 L2122.3,130.4 L2122.3,128.7 L2122.3,127.1 L2122.3,125.5 L2122.3,123.9 L2122.3,122.3 L2122.3,120.7 L2122.3,119.1 L2122.3,117.4 L2122.3,115.8 L2122.3,114.2 L2122.3,112.6 L2122.3,111.0 L2122.3,109.4 L2122.3,107.7 L2122.3,106.1 L2122.3,104.5 L2122.3,102.9 L2122.3,101.3 L2122.3,99.7 L2122.3,98.0 L2122.3,96.4 L2122.3,94.8 L2122.3,93.2 L2122.3,91.6 L2122.3,90.0 L2122.3,88.4 L2122.3,86.7 L2122.3,85.1 L2122.3,83.5 L2122.3,81.9 L2122.3,80.3 L2122.3,78.7 L2122.3,77.0 L2122.3,75.4 L2122.3,73.8 L2122.3,72.2 L2122.3,70.6 L2122.3,69.0 L2122.3,67.3 L2122.3,65.7 L2122.3,64.1 L2122.3,62.5 L2122.3,62.5 L2122.3,870.4 Z" fill="#E67730"/>
<path d="M2076.2,870.4 L2077.5,868.8 L2078.8,867.2 L2080.1,865.6 L2081.4,863.9 L2082.7,862.3 L2084.0,860.7 L2085.3,859.1 L2086.7,857.5 L2088.0,855.9 L2089.3,854.2 L2090.6,852.6 L2092.0,851.0 L2093.3,849.4 L2094.7,847.8 L2096.0,846.2 L2097.4,844.5 L2098.8,842.9 L2100.1,841.3 L2101.5,839.7 L2102.9,838.1 L2104.3,836.5 L2105.7,834.9 L2107.1,833.2 L2108.5,831.6 L2109.9,830.0 L2111.3,828.4 L2112.7,826.8 L2114.1,825.2 L2115.5,823.5 L2117.0,821.9 L2118.4,820.3 L2119.9,818.7 L2121.3,817.1 L2122.3,815.5 L2122.3,813.8 L2122.3,812.2 L2122.3,810.6 L2122.3,809.0 L2122.3,807.4 L2122.3,805.8 L2122.3,804.2 L2122.3,802.5 L2122.3,800.9 L2122.3,799.3 L2122.3,797.7 L2122.3,796.1 L2122.3,794.5 L2122.3,792.8 L2122.3,791.2 L2122.3,789.6 L2122.3,788.0 L2122.3,786.4 L2122.3,784.8 L2122.3,783.1 L2122.3,781.5 L2122.3,779.9 L2122.3,778.3 L2122.3,776.7 L2122.3,775.1 L2122.3,773.5 L2122.3,771.8 L2122.3,770.2 L2122.3,768.6 L2122.3,767.0 L2122.3,765.4 L2122.3,763.8 L2122.3,762.1 L2122.3,760.5 L2122.3,758.9 L2122.3,757.3 L2122.3,755.7 L2122.3,754.1 L2122.3,752.4 L2122.3,750.8 L2122.3,749.2 L2122.3,747.6 L2122.3,746.0 L2122.3,744.4 L2122.3,742.8 L2122.3,741.1 L2122.3,739.5 L2122.3,737.9 L2122.3,736.3 L2122.3,734.7 L2122.3,733.1 L2122.3,731.4 L2122.3,729.8 L2122.3,728.2 L2122.3,726.6 L2122.3,725.0 L2122.3,723.4 L2122.3,721.7 L2122.3,720.1 L2122.3,718.5 L2122.3,716.9 L2122.3,715.3 L2122.3,713.7 L2122.3,712.1 L2122.3,710.4 L2122.3,708.8 L2122.3,707.2 L2122.3,705.6 L2122.3,704.0 L2122.3,702.4 L2122.3,700.7 L2122.3,699.1 L2122.3,697.5 L2122.3,695.9 L2122.3,694.3 L2122.3,692.7 L2122.3,691.0 L2122.3,689.4 L2122.3,687.8 L2122.3,686.2 L2122.3,684.6 L2122.3,683.0 L2122.3,681.4 L2122.3,679.7 L2122.3,678.1 L2122.3,676.5 L2122.3,674.9 L2122.3,673.3 L2122.3,671.7 L2122.3,670.0 L2122.3,668.4 L2122.3,666.8 L2122.3,665.2 L2122.3,663.6 L2122.3,662.0 L2122.3,660.3 L2122.3,658.7 L2122.3,657.1 L2122.3,655.5 L2122.3,653.9 L2122.3,652.3 L2122.3,650.7 L2122.3,649.0 L2122.3,647.4 L2122.3,645.8 L2122.3,644.2 L2122.3,642.6 L2122.3,641.0 L2122.3,639.3 L2122.3,637.7 L2122.3,636.1 L2122.3,634.5 L2122.3,632.9 L2122.3,631.3 L2122.3,629.6 L2122.3,628.0 L2122.3,626.4 L2122.3,624.8 L2122.3,623.2 L2122.3,621.6 L2122.3,620.0 L2122.3,618.3 L2122.3,616.7 L2122.3,615.1 L2122.3,613.5 L2122.3,611.9 L2122.3,610.3 L2122.3,608.6 L2122.3,607.0 L2122.3,605.4 L2122.3,603.8 L2122.3,602.2 L2122.3,600.6 L2122.3,598.9 L2122.3,597.3 L2122.3,595.7 L2122.3,594.1 L2122.3,592.5 L2122.3,590.9 L2122.3,589.3 L2122.3,587.6 L2122.3,586.0 L2122.3,584.4 L2122.3,582.8 L2122.3,581.2 L2122.3,579.6 L2122.3,577.9 L2122.3,576.3 L2122.3,574.7 L2122.3,573.1 L2122.3,571.5 L2122.3,569.9 L2122.3,568.2 L2122.3,566.6 L2122.3,565.0 L2122.3,563.4 L2122.3,561.8 L2122.3,560.2 L2122.3,558.6 L2122.3,556.9 L2122.3,555.3 L2122.3,553.7 L2122.3,552.1 L2122.3,550.5 L2122.3,548.9 L2122.3,547.2 L2122.3,545.6 L2122.3,544.0 L2122.3,542.4 L2122.3,540.8 L2122.3,539.2 L2122.3,537.5 L2122.3,535.9 L2122.3,534.3 L2122.3,532.7 L2122.3,531.1 L2122.3,529.5 L2122.3,527.9 L2122.3,526.2 L2122.3,524.6 L2122.3,523.0 L2122.3,521.4 L2122.3,519.8 L2122.3,518.2 L2122.3,516.5 L2122.3,514.9 L2122.3,513.3 L2122.3,511.7 L2122.3,510.1 L2122.3,508.5 L2122.3,506.8 L2122.3,505.2 L2122.3,503.6 L2122.3,502.0 L2122.3,500.4 L2122.3,498.8 L2122.3,497.2 L2122.3,495.5 L2122.3,493.9 L2122.3,492.3 L2122.3,490.7 L2122.3,489.1 L2122.3,487.5 L2122.3,485.8 L2122.3,484.2 L2122.3,482.6 L2122.3,481.0 L2122.3,479.4 L2122.3,477.8 L2122.3,476.1 L2122.3,474.5 L2122.3,472.9 L2122.3,471.3 L2122.3,469.7 L2122.3,468.1 L2122.3,466.4 L2122.3,464.8 L2122.3,463.2 L2122.3,461.6 L2122.3,460.0 L2122.3,458.4 L2122.3,456.8 L2122.3,455.1 L2122.3,453.5 L2122.3,451.9 L2122.3,450.3 L2122.3,448.7 L2122.3,447.1 L2122.3,445.4 L2122.3,443.8 L2122.3,442.2 L2122.3,440.6 L2122.3,439.0 L2122.3,437.4 L2122.3,435.7 L2122.3,434.1 L2122.3,432.5 L2122.3,430.9 L2122.3,429.3 L2122.3,427.7 L2122.3,426.1 L2122.3,424.4 L2122.3,422.8 L2122.3,421.2 L2122.3,419.6 L2122.3,418.0 L2122.3,416.4 L2122.3,414.7 L2122.3,413.1 L2122.3,411.5 L2122.3,409.9 L2122.3,408.3 L2122.3,406.7 L2122.3,405.0 L2122.3,403.4 L2122.3,401.8 L2122.3,400.2 L2122.3,398.6 L2122.3,397.0 L2122.3,395.4 L2122.3,393.7 L2122.3,392.1 L2122.3,390.5 L2122.3,388.9 L2122.3,387.3 L2122.3,385.7 L2122.3,384.0 L2122.3,382.4 L2122.3,380.8 L2122.3,379.2 L2122.3,377.6 L2122.3,376.0 L2122.3,374.3 L2122.3,372.7 L2122.3,371.1 L2122.3,369.5 L2122.3,367.9 L2122.3,366.3 L2122.3,364.7 L2122.3,363.0 L2122.3,361.4 L2122.3,359.8 L2122.3,358.2 L2122.3,356.6 L2122.3,355.0 L2122.3,353.3 L2122.3,351.7 L2122.3,350.1 L2122.3,348.5 L2122.3,346.9 L2122.3,345.3 L2122.3,343.6 L2122.3,342.0 L2122.3,340.4 L2122.3,338.8 L2122.3,337.2 L2122.3,335.6 L2122.3,334.0 L2122.3,332.3 L2122.3,330.7 L2122.3,329.1 L2122.3,327.5 L2122.3,325.9 L2122.3,324.3 L2122.3,322.6 L2122.3,321.0 L2122.3,319.4 L2122.3,317.8 L2122.3,316.2 L2122.3,314.6 L2122.3,312.9 L2122.3,311.3 L2122.3,309.7 L2122.3,308.1 L2122.3,306.5 L2122.3,304.9 L2122.3,303.3 L2122.3,301.6 L2122.3,300.0 L2122.3,298.4 L2122.3,296.8 L2122.3,295.2 L2122.3,293.6 L2122.3,291.9 L2122.3,290.3 L2122.3,288.7 L2122.3,287.1 L2122.3,285.5 L2122.3,283.9 L2122.3,282.2 L2122.3,280.6 L2122.3,279.0 L2122.3,277.4 L2122.3,275.8 L2122.3,274.2 L2122.3,272.6 L2122.3,270.9 L2122.3,269.3 L2122.3,267.7 L2122.3,266.1 L2122.3,264.5 L2122.3,262.9 L2122.3,261.2 L2122.3,259.6 L2122.3,258.0 L2122.3,256.4 L2122.3,254.8 L2122.3,253.2 L2122.3,251.5 L2122.3,249.9 L2122.3,248.3 L2122.3,246.7 L2122.3,245.1 L2122.3,243.5 L2122.3,241.9 L2122.3,240.2 L2122.3,238.6 L2122.3,237.0 L2122.3,235.4 L2122.3,233.8 L2122.3,232.2 L2122.3,230.5 L2122.3,228.9 L2122.3,227.3 L2122.3,225.7 L2122.3,224.1 L2122.3,222.5 L2122.3,220.8 L2122.3,219.2 L2122.3,217.6 L2122.3,216.0 L2122.3,214.4 L2122.3,212.8 L2122.3,211.2 L2122.3,209.5 L2122.3,207.9 L2122.3,206.3 L2122.3,204.7 L2122.3,203.1 L2122.3,201.5 L2122.3,199.8 L2122.3,198.2 L2122.3,196.6 L2122.3,195.0 L2122.3,193.4 L2122.3,191.8 L2122.3,190.1 L2122.3,188.5 L2122.3,186.9 L2122.3,185.3 L2122.3,183.7 L2122.3,182.1 L2122.3,180.5 L2122.3,178.8 L2122.3,177.2 L2122.3,175.6 L2122.3,174.0 L2122.3,172.4 L2122.3,170.8 L2122.3,169.1 L2122.3,167.5 L2122.3,165.9 L2122.3,164.3 L2122.3,162.7 L2122.3,161.1 L2122.3,159.4 L2122.3,157.8 L2122.3,156.2 L2122.3,154.6 L2122.3,153.0 L2122.3,151.4 L2122.3,149.8 L2122.3,148.1 L2122.3,146.5 L2122.3,144.9 L2122.3,143.3 L2122.3,141.7 L2122.3,140.1 L2122.3,138.4 L2122.3,136.8 L2122.3,135.2 L2122.3,133.6 L2122.3,132.0 L2122.3,130.4 L2122.3,128.7 L2122.3,127.1 L2122.3,125.5 L2122.3,123.9 L2122.3,122.3 L2122.3,120.7 L2122.3,119.1 L2122.3,117.4 L2122.3,115.8 L2122.3,114.2 L2122.3,112.6 L2122.3,111.0 L2122.3,109.4 L2122.3,107.7 L2122.3,106.1 L2122.3,104.5 L2122.3,102.9 L2122.3,101.3 L2122.3,99.7 L2122.3,98.0 L2122.3,96.4 L2122.3,94.8 L2122.3,93.2 L2122.3,91.6 L2122.3,90.0 L2122.3,88.4 L2122.3,86.7 L2122.3,85.1 L2122.3,83.5 L2122.3,81.9 L2122.3,80.3 L2122.3,78.7 L2122.3,77.0 L2122.3,75.4 L2122.3,73.8 L2122.3,72.2 L2122.3,70.6 L2122.3,69.0 L2122.3,67.3 L2122.3,65.7 L2122.3,64.1 L2122.3,62.5 L2122.3,62.5 L2122.3,870.4 Z" fill="#5796D0"/>
<path d="M1481.9,870.4 L1482.4,866.4 L1482.9,862.3 L1483.3,858.3 L1483.8,854.2 L1484.3,850.2 L1484.8,846.2 L1485.0,844.1 L1485.2,842.1 L1485.7,838.1 L1486.2,834.0 L1486.7,830.0 L1487.2,826.0 L1487.8,821.9 L1488.3,817.9 L1488.8,813.8 L1489.0,812.0 L1489.3,809.8 L1489.9,805.8 L1490.4,801.7 L1490.9,797.7 L1491.5,793.6 L1492.1,789.6 L1492.6,785.6 L1493.1,782.3 L1493.2,781.5 L1493.7,777.5 L1494.3,773.5 L1494.9,769.4 L1495.5,765.4 L1496.1,761.3 L1496.7,757.3 L1497.1,754.6 L1497.3,753.3 L1497.9,749.2 L1498.6,745.2 L1499.2,741.1 L1499.8,737.1 L1500.5,733.1 L1501.1,729.0 L1501.1,728.8 L1501.8,725.0 L1502.4,720.9 L1503.1,716.9 L1503.8,712.9 L1504.5,708.8 L1505.2,704.8 L1505.2,704.7 L1505.9,700.7 L1506.6,696.7 L1507.3,692.7 L1508.0,688.6 L1508.8,684.6 L1509.2,682.2 L1509.5,680.5 L1510.3,676.5 L1511.0,672.5 L1511.8,668.4 L1512.6,664.4 L1513.2,661.0 L1513.4,660.3 L1514.2,656.3 L1515.0,652.3 L1515.8,648.2 L1516.6,644.2 L1517.3,641.1 L1517.5,640.1 L1518.3,636.1 L1519.2,632.1 L1520.1,628.0 L1521.0,624.0 L1521.3,622.4 L1521.9,620.0 L1522.8,615.9 L1523.7,611.9 L1524.6,607.8 L1525.3,604.7 L1525.6,603.8 L1526.5,599.8 L1527.5,595.7 L1528.5,591.7 L1529.4,588.0 L1529.5,587.6 L1530.5,583.6 L1531.5,579.6 L1532.5,575.5 L1533.4,572.2 L1533.6,571.5 L1534.7,567.4 L1535.8,563.4 L1536.9,559.4 L1537.4,557.2 L1538.0,555.3 L1539.1,551.3 L1540.2,547.2 L1541.4,543.2 L1541.5,543.0 L1542.6,539.2 L1543.8,535.1 L1545.0,531.1 L1545.5,529.5 L1546.3,527.0 L1547.5,523.0 L1548.8,519.0 L1549.5,516.6 L1550.1,514.9 L1551.4,510.9 L1552.7,506.8 L1553.6,504.3 L1554.1,502.8 L1555.5,498.8 L1556.9,494.7 L1557.6,492.6 L1558.3,490.7 L1559.7,486.6 L1561.2,482.6 L1561.6,481.4 L1562.7,478.6 L1564.2,474.5 L1565.7,470.8 L1565.8,470.5 L1567.4,466.4 L1569.0,462.4 L1569.7,460.5 L1570.6,458.4 L1572.3,454.3 L1573.7,450.8 L1573.9,450.3 L1575.7,446.3 L1577.4,442.2 L1577.8,441.4 L1579.2,438.2 L1581.0,434.1 L1581.8,432.4 L1582.9,430.1 L1584.7,426.1 L1585.8,423.7 L1586.7,422.0 L1588.6,418.0 L1589.9,415.4 L1590.6,413.9 L1592.6,409.9 L1593.9,407.4 L1594.7,405.9 L1596.8,401.8 L1597.9,399.7 L1599.0,397.8 L1601.2,393.7 L1602.0,392.3 L1603.4,389.7 L1605.7,385.7 L1606.0,385.2 L1608.1,381.6 L1610.0,378.3 L1610.5,377.6 L1612.9,373.5 L1614.1,371.6 L1615.4,369.5 L1617.9,365.5 L1618.1,365.2 L1620.5,361.4 L1622.1,359.0 L1623.2,357.4 L1625.9,353.3 L1626.2,353.0 L1628.7,349.3 L1630.2,347.2 L1631.6,345.3 L1634.2,341.6 L1634.5,341.2 L1637.5,337.2 L1638.3,336.1 L1640.5,333.1 L1642.3,330.8 L1643.7,329.1 L1646.3,325.7 L1646.9,325.1 L1650.2,321.0 L1650.4,320.8 L1653.5,317.0 L1654.4,316.0 L1657.0,312.9 L1658.4,311.3 L1660.5,308.9 L1662.5,306.8 L1664.2,304.9 L1666.5,302.3 L1667.9,300.8 L1670.5,298.1 L1671.8,296.8 L1674.6,293.9 L1675.7,292.8 L1678.6,289.8 L1679.8,288.7 L1682.6,285.9 L1683.9,284.7 L1686.7,282.1 L1688.2,280.6 L1690.7,278.3 L1692.6,276.6 L1694.7,274.7 L1697.2,272.6 L1698.8,271.1 L1701.8,268.5 L1702.8,267.7 L1706.6,264.5 L1706.8,264.3 L1710.9,261.0 L1711.6,260.4 L1714.9,257.8 L1716.7,256.4 L1719.0,254.7 L1722.0,252.4 L1723.0,251.6 L1727.0,248.6 L1727.4,248.3 L1731.1,245.7 L1733.0,244.3 L1735.1,242.8 L1738.9,240.2 L1739.1,240.1 L1743.2,237.3 L1744.9,236.2 L1747.2,234.7 L1751.1,232.2 L1751.2,232.1 L1755.3,229.5 L1757.5,228.1 L1759.3,227.0 L1763.3,224.6 L1764.1,224.1 L1767.4,222.2 L1771.0,220.0 L1771.4,219.8 L1775.4,217.5 L1778.2,216.0 L1779.5,215.3 L1783.5,213.1 L1785.6,212.0 L1787.5,210.9 L1791.6,208.8 L1793.3,207.9 L1795.6,206.8 L1799.6,204.7 L1801.3,203.9 L1803.7,202.7 L1807.7,200.8 L1809.6,199.8 L1811.7,198.8 L1815.8,197.0 L1818.3,195.8 L1819.8,195.1 L1823.8,193.3 L1827.3,191.8 L1827.9,191.5 L1831.9,189.8 L1835.9,188.0 L1836.7,187.7 L1840.0,186.4 L1844.0,184.7 L1846.5,183.7 L1848.0,183.1 L1852.1,181.5 L1856.1,179.9 L1856.7,179.6 L1860.1,178.3 L1864.2,176.8 L1867.4,175.6 L1868.2,175.3 L1872.2,173.8 L1876.3,172.4 L1878.6,171.6 L1880.3,171.0 L1884.3,169.6 L1888.4,168.2 L1890.3,167.5 L1892.4,166.8 L1896.4,165.5 L1900.5,164.2 L1902.6,163.5 L1904.5,162.9 L1908.5,161.6 L1912.6,160.3 L1915.4,159.4 L1916.6,159.1 L1920.6,157.9 L1924.7,156.7 L1928.7,155.5 L1929.0,155.4 L1932.7,154.3 L1936.8,153.2 L1940.8,152.0 L1943.2,151.4 L1944.8,150.9 L1948.9,149.8 L1952.9,148.7 L1956.9,147.7 L1958.2,147.3 L1961.0,146.6 L1965.0,145.6 L1969.0,144.6 L1973.1,143.5 L1974.1,143.3 L1977.1,142.5 L1981.1,141.6 L1985.2,140.6 L1989.2,139.6 L1990.8,139.3 L1993.2,138.7 L1997.3,137.7 L2001.3,136.8 L2005.3,135.9 L2008.5,135.2 L2009.4,135.0 L2013.4,134.1 L2017.4,133.3 L2021.5,132.4 L2025.5,131.5 L2027.3,131.2 L2029.5,130.7 L2033.6,129.9 L2037.6,129.0 L2041.6,128.2 L2045.7,127.4 L2047.2,127.1 L2049.7,126.6 L2053.7,125.9 L2057.8,125.1 L2061.8,124.3 L2065.8,123.6 L2068.4,123.1 L2069.9,122.8 L2073.9,122.1 L2077.9,121.4 L2082.0,120.6 L2086.0,119.9 L2090.0,119.2 L2091.0,119.1 L2094.1,118.5 L2098.1,117.8 L2102.1,117.2 L2106.2,116.5 L2110.2,115.8 L2114.2,115.2 L2115.1,115.0 L2118.3,114.5 L2122.3,113.9" fill="none" stroke="#4A7A32" stroke-opacity="0.75" stroke-width="1.7" stroke-dasharray="2 3.5"/>
<rect x="1315.0" y="61.9" width="807.9" height="809.1" fill="none" stroke="#DCDCDC" stroke-width="1.2"/>
</g>
<g id="plot-c">
<rect x="82.6" y="1320.0" width="837.9" height="838.0" fill="#6EA846"/>
<path d="M478.9,2158.0 L479.1,2156.3 L479.2,2154.6 L479.4,2153.0 L479.6,2151.3 L479.8,2149.6 L480.0,2147.9 L480.2,2146.3 L480.3,2144.6 L480.5,2142.9 L480.7,2141.2 L480.9,2139.6 L481.1,2137.9 L481.3,2136.2 L481.4,2134.5 L481.6,2132.9 L481.8,2131.2 L482.0,2129.5 L482.2,2127.8 L482.4,2126.2 L482.6,2124.5 L482.8,2122.8 L483.0,2121.1 L483.2,2119.5 L483.4,2117.8 L483.5,2116.1 L483.7,2114.4 L483.9,2112.7 L484.1,2111.1 L484.3,2109.4 L484.5,2107.7 L484.7,2106.0 L484.9,2104.4 L485.1,2102.7 L485.3,2101.0 L485.5,2099.3 L485.7,2097.7 L485.9,2096.0 L486.1,2094.3 L486.4,2092.6 L486.6,2091.0 L486.8,2089.3 L487.0,2087.6 L487.2,2085.9 L487.4,2084.3 L487.6,2082.6 L487.8,2080.9 L488.0,2079.2 L488.2,2077.6 L488.5,2075.9 L488.7,2074.2 L488.9,2072.5 L489.1,2070.8 L489.3,2069.2 L489.5,2067.5 L489.8,2065.8 L490.0,2064.1 L490.2,2062.5 L490.4,2060.8 L490.6,2059.1 L490.9,2057.4 L491.1,2055.8 L491.3,2054.1 L491.5,2052.4 L491.8,2050.7 L492.0,2049.1 L492.2,2047.4 L492.5,2045.7 L492.7,2044.0 L492.9,2042.4 L493.2,2040.7 L493.4,2039.0 L493.6,2037.3 L493.9,2035.7 L494.1,2034.0 L494.3,2032.3 L494.6,2030.6 L494.8,2028.9 L495.1,2027.3 L495.3,2025.6 L495.5,2023.9 L495.8,2022.2 L496.0,2020.6 L496.3,2018.9 L496.5,2017.2 L496.8,2015.5 L497.0,2013.9 L497.3,2012.2 L497.5,2010.5 L497.8,2008.8 L498.0,2007.2 L498.3,2005.5 L498.5,2003.8 L498.8,2002.1 L499.1,2000.5 L499.3,1998.8 L499.6,1997.1 L499.8,1995.4 L500.1,1993.8 L500.4,1992.1 L500.6,1990.4 L500.9,1988.7 L501.2,1987.0 L501.4,1985.4 L501.7,1983.7 L502.0,1982.0 L502.3,1980.3 L502.5,1978.7 L502.8,1977.0 L503.1,1975.3 L503.4,1973.6 L503.6,1972.0 L503.9,1970.3 L504.2,1968.6 L504.5,1966.9 L504.8,1965.3 L505.1,1963.6 L505.3,1961.9 L505.6,1960.2 L505.9,1958.6 L506.2,1956.9 L506.5,1955.2 L506.8,1953.5 L507.1,1951.9 L507.4,1950.2 L507.7,1948.5 L508.0,1946.8 L508.3,1945.1 L508.6,1943.5 L508.9,1941.8 L509.2,1940.1 L509.5,1938.4 L509.8,1936.8 L510.1,1935.1 L510.4,1933.4 L510.7,1931.7 L511.1,1930.1 L511.4,1928.4 L511.7,1926.7 L512.0,1925.0 L512.3,1923.4 L512.7,1921.7 L513.0,1920.0 L513.3,1918.3 L513.6,1916.7 L514.0,1915.0 L514.3,1913.3 L514.6,1911.6 L515.0,1910.0 L515.3,1908.3 L515.6,1906.6 L516.0,1904.9 L516.3,1903.2 L516.6,1901.6 L517.0,1899.9 L517.3,1898.2 L517.7,1896.5 L518.0,1894.9 L518.4,1893.2 L518.7,1891.5 L519.1,1889.8 L519.4,1888.2 L519.8,1886.5 L520.2,1884.8 L520.5,1883.1 L520.9,1881.5 L521.3,1879.8 L521.6,1878.1 L522.0,1876.4 L522.4,1874.8 L522.7,1873.1 L523.1,1871.4 L523.5,1869.7 L523.9,1868.1 L524.3,1866.4 L524.6,1864.7 L525.0,1863.0 L525.4,1861.3 L525.8,1859.7 L526.2,1858.0 L526.6,1856.3 L527.0,1854.6 L527.4,1853.0 L527.8,1851.3 L528.2,1849.6 L528.6,1847.9 L529.0,1846.3 L529.4,1844.6 L529.8,1842.9 L530.2,1841.2 L530.7,1839.6 L531.1,1837.9 L531.5,1836.2 L531.9,1834.5 L532.3,1832.9 L532.8,1831.2 L533.2,1829.5 L533.6,1827.8 L534.1,1826.2 L534.5,1824.5 L535.0,1822.8 L535.4,1821.1 L535.8,1819.4 L536.3,1817.8 L536.7,1816.1 L537.2,1814.4 L537.7,1812.7 L538.1,1811.1 L538.6,1809.4 L539.0,1807.7 L539.5,1806.0 L540.0,1804.4 L540.5,1802.7 L540.9,1801.0 L541.4,1799.3 L541.9,1797.7 L542.4,1796.0 L542.9,1794.3 L543.4,1792.6 L543.9,1791.0 L544.4,1789.3 L544.9,1787.6 L545.4,1785.9 L545.9,1784.3 L546.4,1782.6 L546.9,1780.9 L547.4,1779.2 L547.9,1777.5 L548.4,1775.9 L549.0,1774.2 L549.5,1772.5 L550.0,1770.8 L550.6,1769.2 L551.1,1767.5 L551.6,1765.8 L552.2,1764.1 L552.7,1762.5 L553.3,1760.8 L553.8,1759.1 L554.4,1757.4 L555.0,1755.8 L555.5,1754.1 L556.1,1752.4 L556.7,1750.7 L557.3,1749.1 L557.8,1747.4 L558.4,1745.7 L559.0,1744.0 L559.6,1742.4 L560.2,1740.7 L560.8,1739.0 L561.4,1737.3 L562.0,1735.6 L562.7,1734.0 L563.3,1732.3 L563.9,1730.6 L564.5,1728.9 L565.2,1727.3 L565.8,1725.6 L566.4,1723.9 L567.1,1722.2 L567.7,1720.6 L568.4,1718.9 L569.0,1717.2 L569.7,1715.5 L570.4,1713.9 L571.1,1712.2 L571.7,1710.5 L572.4,1708.8 L573.1,1707.2 L573.8,1705.5 L574.5,1703.8 L575.2,1702.1 L575.9,1700.5 L576.6,1698.8 L577.3,1697.1 L578.1,1695.4 L578.8,1693.7 L579.5,1692.1 L580.3,1690.4 L581.0,1688.7 L581.8,1687.0 L582.5,1685.4 L583.3,1683.7 L584.1,1682.0 L584.8,1680.3 L585.6,1678.7 L586.4,1677.0 L587.2,1675.3 L588.0,1673.6 L588.8,1672.0 L589.6,1670.3 L590.4,1668.6 L591.3,1666.9 L592.1,1665.3 L592.9,1663.6 L593.8,1661.9 L594.6,1660.2 L595.5,1658.6 L596.3,1656.9 L597.2,1655.2 L598.1,1653.5 L599.0,1651.8 L599.9,1650.2 L600.8,1648.5 L601.7,1646.8 L602.6,1645.1 L603.5,1643.5 L604.5,1641.8 L605.4,1640.1 L606.3,1638.4 L607.3,1636.8 L608.3,1635.1 L609.2,1633.4 L610.2,1631.7 L611.2,1630.1 L612.2,1628.4 L613.2,1626.7 L614.2,1625.0 L615.2,1623.4 L616.3,1621.7 L617.3,1620.0 L618.4,1618.3 L619.4,1616.7 L620.5,1615.0 L621.6,1613.3 L622.7,1611.6 L623.8,1609.9 L624.9,1608.3 L626.0,1606.6 L627.1,1604.9 L628.3,1603.2 L629.4,1601.6 L630.6,1599.9 L631.8,1598.2 L633.0,1596.5 L634.2,1594.9 L635.4,1593.2 L636.6,1591.5 L637.8,1589.8 L639.1,1588.2 L640.3,1586.5 L641.6,1584.8 L642.9,1583.1 L644.2,1581.5 L645.5,1579.8 L646.8,1578.1 L648.1,1576.4 L649.5,1574.8 L650.8,1573.1 L652.2,1571.4 L653.6,1569.7 L655.0,1568.0 L656.4,1566.4 L657.8,1564.7 L659.3,1563.0 L660.7,1561.3 L662.2,1559.7 L663.7,1558.0 L665.2,1556.3 L666.7,1554.6 L668.3,1553.0 L669.8,1551.3 L671.4,1549.6 L673.0,1547.9 L674.6,1546.3 L676.3,1544.6 L677.9,1542.9 L679.6,1541.2 L681.2,1539.6 L682.9,1537.9 L684.7,1536.2 L686.4,1534.5 L688.2,1532.9 L690.0,1531.2 L691.8,1529.5 L693.6,1527.8 L695.4,1526.1 L697.3,1524.5 L699.2,1522.8 L701.1,1521.1 L703.0,1519.4 L705.0,1517.8 L707.0,1516.1 L709.0,1514.4 L711.0,1512.7 L713.1,1511.1 L715.2,1509.4 L717.3,1507.7 L719.4,1506.0 L721.6,1504.4 L723.8,1502.7 L726.0,1501.0 L728.3,1499.3 L730.6,1497.7 L732.9,1496.0 L735.2,1494.3 L737.6,1492.6 L740.0,1491.0 L742.4,1489.3 L744.9,1487.6 L747.4,1485.9 L750.0,1484.2 L752.5,1482.6 L755.1,1480.9 L757.8,1479.2 L760.5,1477.5 L763.2,1475.9 L766.0,1474.2 L768.8,1472.5 L771.6,1470.8 L774.5,1469.2 L777.5,1467.5 L780.5,1465.8 L783.5,1464.1 L786.5,1462.5 L789.7,1460.8 L792.8,1459.1 L796.0,1457.4 L799.3,1455.8 L802.6,1454.1 L806.0,1452.4 L809.4,1450.7 L812.9,1449.1 L816.5,1447.4 L820.1,1445.7 L823.7,1444.0 L827.4,1442.3 L831.2,1440.7 L835.1,1439.0 L839.0,1437.3 L843.0,1435.6 L847.0,1434.0 L851.1,1432.3 L855.3,1430.6 L859.6,1428.9 L864.0,1427.3 L868.4,1425.6 L872.9,1423.9 L877.5,1422.2 L882.2,1420.6 L887.0,1418.9 L891.9,1417.2 L896.8,1415.5 L901.9,1413.9 L907.0,1412.2 L912.3,1410.5 L917.7,1408.8 L920.5,1407.2 L920.5,1405.5 L920.5,1403.8 L920.5,1402.1 L920.5,1400.4 L920.5,1398.8 L920.5,1397.1 L920.5,1395.4 L920.5,1393.7 L920.5,1392.1 L920.5,1390.4 L920.5,1388.7 L920.5,1387.0 L920.5,1385.4 L920.5,1383.7 L920.5,1382.0 L920.5,1380.3 L920.5,1378.7 L920.5,1377.0 L920.5,1375.3 L920.5,1373.6 L920.5,1372.0 L920.5,1370.3 L920.5,1368.6 L920.5,1366.9 L920.5,1365.3 L920.5,1363.6 L920.5,1361.9 L920.5,1360.2 L920.5,1358.5 L920.5,1356.9 L920.5,1355.2 L920.5,1353.5 L920.5,1351.8 L920.5,1350.2 L920.5,1348.5 L920.5,1346.8 L920.5,1345.1 L920.5,1343.5 L920.5,1341.8 L920.5,1340.1 L920.5,1338.4 L920.5,1336.8 L920.5,1335.1 L920.5,1333.4 L920.5,1331.7 L920.5,1330.1 L920.5,1328.4 L920.5,1326.7 L920.5,1325.0 L920.5,1323.4 L920.5,1321.7 L920.5,1320.0 L920.5,1320.0 L920.5,2158.0 Z" fill="#F6BD00"/>
<path d="M574.8,2158.0 L575.1,2156.3 L575.5,2154.6 L575.8,2153.0 L576.2,2151.3 L576.5,2149.6 L576.9,2147.9 L577.2,2146.3 L577.6,2144.6 L578.0,2142.9 L578.3,2141.2 L578.7,2139.6 L579.0,2137.9 L579.4,2136.2 L579.8,2134.5 L580.1,2132.9 L580.5,2131.2 L580.9,2129.5 L581.3,2127.8 L581.6,2126.2 L582.0,2124.5 L582.4,2122.8 L582.8,2121.1 L583.1,2119.5 L583.5,2117.8 L583.9,2116.1 L584.3,2114.4 L584.7,2112.7 L585.1,2111.1 L585.4,2109.4 L585.8,2107.7 L586.2,2106.0 L586.6,2104.4 L587.0,2102.7 L587.4,2101.0 L587.8,2099.3 L588.2,2097.7 L588.6,2096.0 L589.0,2094.3 L589.4,2092.6 L589.8,2091.0 L590.2,2089.3 L590.6,2087.6 L591.0,2085.9 L591.4,2084.3 L591.9,2082.6 L592.3,2080.9 L592.7,2079.2 L593.1,2077.6 L593.5,2075.9 L594.0,2074.2 L594.4,2072.5 L594.8,2070.8 L595.2,2069.2 L595.7,2067.5 L596.1,2065.8 L596.5,2064.1 L597.0,2062.5 L597.4,2060.8 L597.8,2059.1 L598.3,2057.4 L598.7,2055.8 L599.2,2054.1 L599.6,2052.4 L600.0,2050.7 L600.5,2049.1 L600.9,2047.4 L601.4,2045.7 L601.9,2044.0 L602.3,2042.4 L602.8,2040.7 L603.2,2039.0 L603.7,2037.3 L604.2,2035.7 L604.6,2034.0 L605.1,2032.3 L605.6,2030.6 L606.0,2028.9 L606.5,2027.3 L607.0,2025.6 L607.5,2023.9 L607.9,2022.2 L608.4,2020.6 L608.9,2018.9 L609.4,2017.2 L609.9,2015.5 L610.4,2013.9 L610.9,2012.2 L611.4,2010.5 L611.9,2008.8 L612.4,2007.2 L612.9,2005.5 L613.4,2003.8 L613.9,2002.1 L614.4,2000.5 L614.9,1998.8 L615.4,1997.1 L615.9,1995.4 L616.4,1993.8 L617.0,1992.1 L617.5,1990.4 L618.0,1988.7 L618.5,1987.0 L619.1,1985.4 L619.6,1983.7 L620.1,1982.0 L620.7,1980.3 L621.2,1978.7 L621.7,1977.0 L622.3,1975.3 L622.8,1973.6 L623.4,1972.0 L623.9,1970.3 L624.5,1968.6 L625.0,1966.9 L625.6,1965.3 L626.2,1963.6 L626.7,1961.9 L627.3,1960.2 L627.9,1958.6 L628.4,1956.9 L629.0,1955.2 L629.6,1953.5 L630.2,1951.9 L630.8,1950.2 L631.3,1948.5 L631.9,1946.8 L632.5,1945.1 L633.1,1943.5 L633.7,1941.8 L634.3,1940.1 L634.9,1938.4 L635.5,1936.8 L636.1,1935.1 L636.8,1933.4 L637.4,1931.7 L638.0,1930.1 L638.6,1928.4 L639.2,1926.7 L639.9,1925.0 L640.5,1923.4 L641.1,1921.7 L641.8,1920.0 L642.4,1918.3 L643.0,1916.7 L643.7,1915.0 L644.3,1913.3 L645.0,1911.6 L645.7,1910.0 L646.3,1908.3 L647.0,1906.6 L647.6,1904.9 L648.3,1903.2 L649.0,1901.6 L649.7,1899.9 L650.3,1898.2 L651.0,1896.5 L651.7,1894.9 L652.4,1893.2 L653.1,1891.5 L653.8,1889.8 L654.5,1888.2 L655.2,1886.5 L655.9,1884.8 L656.6,1883.1 L657.4,1881.5 L658.1,1879.8 L658.8,1878.1 L659.5,1876.4 L660.3,1874.8 L661.0,1873.1 L661.7,1871.4 L662.5,1869.7 L663.2,1868.1 L664.0,1866.4 L664.7,1864.7 L665.5,1863.0 L666.3,1861.3 L667.0,1859.7 L667.8,1858.0 L668.6,1856.3 L669.4,1854.6 L670.2,1853.0 L670.9,1851.3 L671.7,1849.6 L672.5,1847.9 L673.3,1846.3 L674.2,1844.6 L675.0,1842.9 L675.8,1841.2 L676.6,1839.6 L677.4,1837.9 L678.3,1836.2 L679.1,1834.5 L679.9,1832.9 L680.8,1831.2 L681.6,1829.5 L682.5,1827.8 L683.4,1826.2 L684.2,1824.5 L685.1,1822.8 L686.0,1821.1 L686.8,1819.4 L687.7,1817.8 L688.6,1816.1 L689.5,1814.4 L690.4,1812.7 L691.3,1811.1 L692.2,1809.4 L693.2,1807.7 L694.1,1806.0 L695.0,1804.4 L695.9,1802.7 L696.9,1801.0 L697.8,1799.3 L698.8,1797.7 L699.7,1796.0 L700.7,1794.3 L701.7,1792.6 L702.7,1791.0 L703.6,1789.3 L704.6,1787.6 L705.6,1785.9 L706.6,1784.3 L707.6,1782.6 L708.6,1780.9 L709.7,1779.2 L710.7,1777.5 L711.7,1775.9 L712.8,1774.2 L713.8,1772.5 L714.9,1770.8 L715.9,1769.2 L717.0,1767.5 L718.0,1765.8 L719.1,1764.1 L720.2,1762.5 L721.3,1760.8 L722.4,1759.1 L723.5,1757.4 L724.6,1755.8 L725.8,1754.1 L726.9,1752.4 L728.0,1750.7 L729.2,1749.1 L730.3,1747.4 L731.5,1745.7 L732.7,1744.0 L733.8,1742.4 L735.0,1740.7 L736.2,1739.0 L737.4,1737.3 L738.6,1735.6 L739.8,1734.0 L741.1,1732.3 L742.3,1730.6 L743.5,1728.9 L744.8,1727.3 L746.0,1725.6 L747.3,1723.9 L748.6,1722.2 L749.9,1720.6 L751.2,1718.9 L752.5,1717.2 L753.8,1715.5 L755.1,1713.9 L756.5,1712.2 L757.8,1710.5 L759.2,1708.8 L760.5,1707.2 L761.9,1705.5 L763.3,1703.8 L764.7,1702.1 L766.1,1700.5 L767.5,1698.8 L768.9,1697.1 L770.3,1695.4 L771.8,1693.7 L773.3,1692.1 L774.7,1690.4 L776.2,1688.7 L777.7,1687.0 L779.2,1685.4 L780.7,1683.7 L782.2,1682.0 L783.8,1680.3 L785.3,1678.7 L786.9,1677.0 L788.5,1675.3 L790.0,1673.6 L791.6,1672.0 L793.3,1670.3 L794.9,1668.6 L796.5,1666.9 L798.2,1665.3 L799.8,1663.6 L801.5,1661.9 L803.2,1660.2 L804.9,1658.6 L806.6,1656.9 L808.4,1655.2 L810.1,1653.5 L811.9,1651.8 L813.6,1650.2 L815.4,1648.5 L817.2,1646.8 L819.1,1645.1 L820.9,1643.5 L822.7,1641.8 L824.6,1640.1 L826.5,1638.4 L828.4,1636.8 L830.3,1635.1 L832.3,1633.4 L834.2,1631.7 L836.2,1630.1 L838.2,1628.4 L840.2,1626.7 L842.2,1625.0 L844.2,1623.4 L846.3,1621.7 L848.3,1620.0 L850.4,1618.3 L852.6,1616.7 L854.7,1615.0 L856.8,1613.3 L859.0,1611.6 L861.2,1609.9 L863.4,1608.3 L865.6,1606.6 L867.9,1604.9 L870.2,1603.2 L872.5,1601.6 L874.8,1599.9 L877.1,1598.2 L879.5,1596.5 L881.9,1594.9 L884.3,1593.2 L886.7,1591.5 L889.2,1589.8 L891.7,1588.2 L894.2,1586.5 L896.7,1584.8 L899.3,1583.1 L901.8,1581.5 L904.4,1579.8 L907.1,1578.1 L909.7,1576.4 L912.4,1574.8 L915.1,1573.1 L917.9,1571.4 L920.5,1569.7 L920.5,1568.0 L920.5,1566.4 L920.5,1564.7 L920.5,1563.0 L920.5,1561.3 L920.5,1559.7 L920.5,1558.0 L920.5,1556.3 L920.5,1554.6 L920.5,1553.0 L920.5,1551.3 L920.5,1549.6 L920.5,1547.9 L920.5,1546.3 L920.5,1544.6 L920.5,1542.9 L920.5,1541.2 L920.5,1539.6 L920.5,1537.9 L920.5,1536.2 L920.5,1534.5 L920.5,1532.9 L920.5,1531.2 L920.5,1529.5 L920.5,1527.8 L920.5,1526.1 L920.5,1524.5 L920.5,1522.8 L920.5,1521.1 L920.5,1519.4 L920.5,1517.8 L920.5,1516.1 L920.5,1514.4 L920.5,1512.7 L920.5,1511.1 L920.5,1509.4 L920.5,1507.7 L920.5,1506.0 L920.5,1504.4 L920.5,1502.7 L920.5,1501.0 L920.5,1499.3 L920.5,1497.7 L920.5,1496.0 L920.5,1494.3 L920.5,1492.6 L920.5,1491.0 L920.5,1489.3 L920.5,1487.6 L920.5,1485.9 L920.5,1484.2 L920.5,1482.6 L920.5,1480.9 L920.5,1479.2 L920.5,1477.5 L920.5,1475.9 L920.5,1474.2 L920.5,1472.5 L920.5,1470.8 L920.5,1469.2 L920.5,1467.5 L920.5,1465.8 L920.5,1464.1 L920.5,1462.5 L920.5,1460.8 L920.5,1459.1 L920.5,1457.4 L920.5,1455.8 L920.5,1454.1 L920.5,1452.4 L920.5,1450.7 L920.5,1449.1 L920.5,1447.4 L920.5,1445.7 L920.5,1444.0 L920.5,1442.3 L920.5,1440.7 L920.5,1439.0 L920.5,1437.3 L920.5,1435.6 L920.5,1434.0 L920.5,1432.3 L920.5,1430.6 L920.5,1428.9 L920.5,1427.3 L920.5,1425.6 L920.5,1423.9 L920.5,1422.2 L920.5,1420.6 L920.5,1418.9 L920.5,1417.2 L920.5,1415.5 L920.5,1413.9 L920.5,1412.2 L920.5,1410.5 L920.5,1408.8 L920.5,1407.2 L920.5,1405.5 L920.5,1403.8 L920.5,1402.1 L920.5,1400.4 L920.5,1398.8 L920.5,1397.1 L920.5,1395.4 L920.5,1393.7 L920.5,1392.1 L920.5,1390.4 L920.5,1388.7 L920.5,1387.0 L920.5,1385.4 L920.5,1383.7 L920.5,1382.0 L920.5,1380.3 L920.5,1378.7 L920.5,1377.0 L920.5,1375.3 L920.5,1373.6 L920.5,1372.0 L920.5,1370.3 L920.5,1368.6 L920.5,1366.9 L920.5,1365.3 L920.5,1363.6 L920.5,1361.9 L920.5,1360.2 L920.5,1358.5 L920.5,1356.9 L920.5,1355.2 L920.5,1353.5 L920.5,1351.8 L920.5,1350.2 L920.5,1348.5 L920.5,1346.8 L920.5,1345.1 L920.5,1343.5 L920.5,1341.8 L920.5,1340.1 L920.5,1338.4 L920.5,1336.8 L920.5,1335.1 L920.5,1333.4 L920.5,1331.7 L920.5,1330.1 L920.5,1328.4 L920.5,1326.7 L920.5,1325.0 L920.5,1323.4 L920.5,1321.7 L920.5,1320.0 L920.5,1320.0 L920.5,2158.0 Z" fill="#A0A0A0"/>
<path d="M682.6,2158.0 L683.1,2156.3 L683.7,2154.6 L684.2,2153.0 L684.8,2151.3 L685.3,2149.6 L685.9,2147.9 L686.4,2146.3 L687.0,2144.6 L687.6,2142.9 L688.1,2141.2 L688.7,2139.6 L689.3,2137.9 L689.8,2136.2 L690.4,2134.5 L691.0,2132.9 L691.6,2131.2 L692.2,2129.5 L692.7,2127.8 L693.3,2126.2 L693.9,2124.5 L694.5,2122.8 L695.1,2121.1 L695.7,2119.5 L696.3,2117.8 L696.9,2116.1 L697.5,2114.4 L698.1,2112.7 L698.7,2111.1 L699.3,2109.4 L699.9,2107.7 L700.5,2106.0 L701.2,2104.4 L701.8,2102.7 L702.4,2101.0 L703.0,2099.3 L703.6,2097.7 L704.3,2096.0 L704.9,2094.3 L705.5,2092.6 L706.2,2091.0 L706.8,2089.3 L707.5,2087.6 L708.1,2085.9 L708.7,2084.3 L709.4,2082.6 L710.0,2080.9 L710.7,2079.2 L711.4,2077.6 L712.0,2075.9 L712.7,2074.2 L713.3,2072.5 L714.0,2070.8 L714.7,2069.2 L715.3,2067.5 L716.0,2065.8 L716.7,2064.1 L717.4,2062.5 L718.1,2060.8 L718.8,2059.1 L719.4,2057.4 L720.1,2055.8 L720.8,2054.1 L721.5,2052.4 L722.2,2050.7 L722.9,2049.1 L723.6,2047.4 L724.4,2045.7 L725.1,2044.0 L725.8,2042.4 L726.5,2040.7 L727.2,2039.0 L728.0,2037.3 L728.7,2035.7 L729.4,2034.0 L730.1,2032.3 L730.9,2030.6 L731.6,2028.9 L732.4,2027.3 L733.1,2025.6 L733.9,2023.9 L734.6,2022.2 L735.4,2020.6 L736.1,2018.9 L736.9,2017.2 L737.7,2015.5 L738.4,2013.9 L739.2,2012.2 L740.0,2010.5 L740.8,2008.8 L741.6,2007.2 L742.3,2005.5 L743.1,2003.8 L743.9,2002.1 L744.7,2000.5 L745.5,1998.8 L746.3,1997.1 L747.1,1995.4 L748.0,1993.8 L748.8,1992.1 L749.6,1990.4 L750.4,1988.7 L751.2,1987.0 L752.1,1985.4 L752.9,1983.7 L753.8,1982.0 L754.6,1980.3 L755.4,1978.7 L756.3,1977.0 L757.1,1975.3 L758.0,1973.6 L758.9,1972.0 L759.7,1970.3 L760.6,1968.6 L761.5,1966.9 L762.4,1965.3 L763.2,1963.6 L764.1,1961.9 L765.0,1960.2 L765.9,1958.6 L766.8,1956.9 L767.7,1955.2 L768.6,1953.5 L769.5,1951.9 L770.4,1950.2 L771.4,1948.5 L772.3,1946.8 L773.2,1945.1 L774.2,1943.5 L775.1,1941.8 L776.0,1940.1 L777.0,1938.4 L777.9,1936.8 L778.9,1935.1 L779.9,1933.4 L780.8,1931.7 L781.8,1930.1 L782.8,1928.4 L783.8,1926.7 L784.7,1925.0 L785.7,1923.4 L786.7,1921.7 L787.7,1920.0 L788.7,1918.3 L789.7,1916.7 L790.8,1915.0 L791.8,1913.3 L792.8,1911.6 L793.8,1910.0 L794.9,1908.3 L795.9,1906.6 L797.0,1904.9 L798.0,1903.2 L799.1,1901.6 L800.1,1899.9 L801.2,1898.2 L802.3,1896.5 L803.4,1894.9 L804.4,1893.2 L805.5,1891.5 L806.6,1889.8 L807.7,1888.2 L808.8,1886.5 L809.9,1884.8 L811.1,1883.1 L812.2,1881.5 L813.3,1879.8 L814.5,1878.1 L815.6,1876.4 L816.8,1874.8 L817.9,1873.1 L819.1,1871.4 L820.2,1869.7 L821.4,1868.1 L822.6,1866.4 L823.8,1864.7 L825.0,1863.0 L826.2,1861.3 L827.4,1859.7 L828.6,1858.0 L829.8,1856.3 L831.1,1854.6 L832.3,1853.0 L833.5,1851.3 L834.8,1849.6 L836.0,1847.9 L837.3,1846.3 L838.6,1844.6 L839.8,1842.9 L841.1,1841.2 L842.4,1839.6 L843.7,1837.9 L845.0,1836.2 L846.3,1834.5 L847.6,1832.9 L849.0,1831.2 L850.3,1829.5 L851.7,1827.8 L853.0,1826.2 L854.4,1824.5 L855.7,1822.8 L857.1,1821.1 L858.5,1819.4 L859.9,1817.8 L861.3,1816.1 L862.7,1814.4 L864.1,1812.7 L865.5,1811.1 L867.0,1809.4 L868.4,1807.7 L869.8,1806.0 L871.3,1804.4 L872.8,1802.7 L874.3,1801.0 L875.7,1799.3 L877.2,1797.7 L878.7,1796.0 L880.2,1794.3 L881.8,1792.6 L883.3,1791.0 L884.8,1789.3 L886.4,1787.6 L888.0,1785.9 L889.5,1784.3 L891.1,1782.6 L892.7,1780.9 L894.3,1779.2 L895.9,1777.5 L897.5,1775.9 L899.2,1774.2 L900.8,1772.5 L902.4,1770.8 L904.1,1769.2 L905.8,1767.5 L907.5,1765.8 L909.2,1764.1 L910.9,1762.5 L912.6,1760.8 L914.3,1759.1 L916.0,1757.4 L917.8,1755.8 L919.6,1754.1 L920.5,1752.4 L920.5,1750.7 L920.5,1749.1 L920.5,1747.4 L920.5,1745.7 L920.5,1744.0 L920.5,1742.4 L920.5,1740.7 L920.5,1739.0 L920.5,1737.3 L920.5,1735.6 L920.5,1734.0 L920.5,1732.3 L920.5,1730.6 L920.5,1728.9 L920.5,1727.3 L920.5,1725.6 L920.5,1723.9 L920.5,1722.2 L920.5,1720.6 L920.5,1718.9 L920.5,1717.2 L920.5,1715.5 L920.5,1713.9 L920.5,1712.2 L920.5,1710.5 L920.5,1708.8 L920.5,1707.2 L920.5,1705.5 L920.5,1703.8 L920.5,1702.1 L920.5,1700.5 L920.5,1698.8 L920.5,1697.1 L920.5,1695.4 L920.5,1693.7 L920.5,1692.1 L920.5,1690.4 L920.5,1688.7 L920.5,1687.0 L920.5,1685.4 L920.5,1683.7 L920.5,1682.0 L920.5,1680.3 L920.5,1678.7 L920.5,1677.0 L920.5,1675.3 L920.5,1673.6 L920.5,1672.0 L920.5,1670.3 L920.5,1668.6 L920.5,1666.9 L920.5,1665.3 L920.5,1663.6 L920.5,1661.9 L920.5,1660.2 L920.5,1658.6 L920.5,1656.9 L920.5,1655.2 L920.5,1653.5 L920.5,1651.8 L920.5,1650.2 L920.5,1648.5 L920.5,1646.8 L920.5,1645.1 L920.5,1643.5 L920.5,1641.8 L920.5,1640.1 L920.5,1638.4 L920.5,1636.8 L920.5,1635.1 L920.5,1633.4 L920.5,1631.7 L920.5,1630.1 L920.5,1628.4 L920.5,1626.7 L920.5,1625.0 L920.5,1623.4 L920.5,1621.7 L920.5,1620.0 L920.5,1618.3 L920.5,1616.7 L920.5,1615.0 L920.5,1613.3 L920.5,1611.6 L920.5,1609.9 L920.5,1608.3 L920.5,1606.6 L920.5,1604.9 L920.5,1603.2 L920.5,1601.6 L920.5,1599.9 L920.5,1598.2 L920.5,1596.5 L920.5,1594.9 L920.5,1593.2 L920.5,1591.5 L920.5,1589.8 L920.5,1588.2 L920.5,1586.5 L920.5,1584.8 L920.5,1583.1 L920.5,1581.5 L920.5,1579.8 L920.5,1578.1 L920.5,1576.4 L920.5,1574.8 L920.5,1573.1 L920.5,1571.4 L920.5,1569.7 L920.5,1568.0 L920.5,1566.4 L920.5,1564.7 L920.5,1563.0 L920.5,1561.3 L920.5,1559.7 L920.5,1558.0 L920.5,1556.3 L920.5,1554.6 L920.5,1553.0 L920.5,1551.3 L920.5,1549.6 L920.5,1547.9 L920.5,1546.3 L920.5,1544.6 L920.5,1542.9 L920.5,1541.2 L920.5,1539.6 L920.5,1537.9 L920.5,1536.2 L920.5,1534.5 L920.5,1532.9 L920.5,1531.2 L920.5,1529.5 L920.5,1527.8 L920.5,1526.1 L920.5,1524.5 L920.5,1522.8 L920.5,1521.1 L920.5,1519.4 L920.5,1517.8 L920.5,1516.1 L920.5,1514.4 L920.5,1512.7 L920.5,1511.1 L920.5,1509.4 L920.5,1507.7 L920.5,1506.0 L920.5,1504.4 L920.5,1502.7 L920.5,1501.0 L920.5,1499.3 L920.5,1497.7 L920.5,1496.0 L920.5,1494.3 L920.5,1492.6 L920.5,1491.0 L920.5,1489.3 L920.5,1487.6 L920.5,1485.9 L920.5,1484.2 L920.5,1482.6 L920.5,1480.9 L920.5,1479.2 L920.5,1477.5 L920.5,1475.9 L920.5,1474.2 L920.5,1472.5 L920.5,1470.8 L920.5,1469.2 L920.5,1467.5 L920.5,1465.8 L920.5,1464.1 L920.5,1462.5 L920.5,1460.8 L920.5,1459.1 L920.5,1457.4 L920.5,1455.8 L920.5,1454.1 L920.5,1452.4 L920.5,1450.7 L920.5,1449.1 L920.5,1447.4 L920.5,1445.7 L920.5,1444.0 L920.5,1442.3 L920.5,1440.7 L920.5,1439.0 L920.5,1437.3 L920.5,1435.6 L920.5,1434.0 L920.5,1432.3 L920.5,1430.6 L920.5,1428.9 L920.5,1427.3 L920.5,1425.6 L920.5,1423.9 L920.5,1422.2 L920.5,1420.6 L920.5,1418.9 L920.5,1417.2 L920.5,1415.5 L920.5,1413.9 L920.5,1412.2 L920.5,1410.5 L920.5,1408.8 L920.5,1407.2 L920.5,1405.5 L920.5,1403.8 L920.5,1402.1 L920.5,1400.4 L920.5,1398.8 L920.5,1397.1 L920.5,1395.4 L920.5,1393.7 L920.5,1392.1 L920.5,1390.4 L920.5,1388.7 L920.5,1387.0 L920.5,1385.4 L920.5,1383.7 L920.5,1382.0 L920.5,1380.3 L920.5,1378.7 L920.5,1377.0 L920.5,1375.3 L920.5,1373.6 L920.5,1372.0 L920.5,1370.3 L920.5,1368.6 L920.5,1366.9 L920.5,1365.3 L920.5,1363.6 L920.5,1361.9 L920.5,1360.2 L920.5,1358.5 L920.5,1356.9 L920.5,1355.2 L920.5,1353.5 L920.5,1351.8 L920.5,1350.2 L920.5,1348.5 L920.5,1346.8 L920.5,1345.1 L920.5,1343.5 L920.5,1341.8 L920.5,1340.1 L920.5,1338.4 L920.5,1336.8 L920.5,1335.1 L920.5,1333.4 L920.5,1331.7 L920.5,1330.1 L920.5,1328.4 L920.5,1326.7 L920.5,1325.0 L920.5,1323.4 L920.5,1321.7 L920.5,1320.0 L920.5,1320.0 L920.5,2158.0 Z" fill="#E67730"/>
<path d="M790.3,2158.0 L791.1,2156.3 L791.8,2154.6 L792.6,2153.0 L793.3,2151.3 L794.1,2149.6 L794.9,2147.9 L795.6,2146.3 L796.4,2144.6 L797.2,2142.9 L797.9,2141.2 L798.7,2139.6 L799.5,2137.9 L800.3,2136.2 L801.1,2134.5 L801.8,2132.9 L802.6,2131.2 L803.4,2129.5 L804.2,2127.8 L805.0,2126.2 L805.8,2124.5 L806.6,2122.8 L807.4,2121.1 L808.2,2119.5 L809.1,2117.8 L809.9,2116.1 L810.7,2114.4 L811.5,2112.7 L812.3,2111.1 L813.2,2109.4 L814.0,2107.7 L814.8,2106.0 L815.7,2104.4 L816.5,2102.7 L817.4,2101.0 L818.2,2099.3 L819.1,2097.7 L819.9,2096.0 L820.8,2094.3 L821.7,2092.6 L822.5,2091.0 L823.4,2089.3 L824.3,2087.6 L825.2,2085.9 L826.0,2084.3 L826.9,2082.6 L827.8,2080.9 L828.7,2079.2 L829.6,2077.6 L830.5,2075.9 L831.4,2074.2 L832.3,2072.5 L833.2,2070.8 L834.1,2069.2 L835.0,2067.5 L836.0,2065.8 L836.9,2064.1 L837.8,2062.5 L838.7,2060.8 L839.7,2059.1 L840.6,2057.4 L841.6,2055.8 L842.5,2054.1 L843.5,2052.4 L844.4,2050.7 L845.4,2049.1 L846.3,2047.4 L847.3,2045.7 L848.3,2044.0 L849.3,2042.4 L850.2,2040.7 L851.2,2039.0 L852.2,2037.3 L853.2,2035.7 L854.2,2034.0 L855.2,2032.3 L856.2,2030.6 L857.2,2028.9 L858.2,2027.3 L859.3,2025.6 L860.3,2023.9 L861.3,2022.2 L862.3,2020.6 L863.4,2018.9 L864.4,2017.2 L865.5,2015.5 L866.5,2013.9 L867.6,2012.2 L868.6,2010.5 L869.7,2008.8 L870.8,2007.2 L871.8,2005.5 L872.9,2003.8 L874.0,2002.1 L875.1,2000.5 L876.2,1998.8 L877.3,1997.1 L878.4,1995.4 L879.5,1993.8 L880.6,1992.1 L881.7,1990.4 L882.8,1988.7 L884.0,1987.0 L885.1,1985.4 L886.2,1983.7 L887.4,1982.0 L888.5,1980.3 L889.7,1978.7 L890.8,1977.0 L892.0,1975.3 L893.2,1973.6 L894.3,1972.0 L895.5,1970.3 L896.7,1968.6 L897.9,1966.9 L899.1,1965.3 L900.3,1963.6 L901.5,1961.9 L902.7,1960.2 L903.9,1958.6 L905.2,1956.9 L906.4,1955.2 L907.6,1953.5 L908.9,1951.9 L910.1,1950.2 L911.4,1948.5 L912.7,1946.8 L913.9,1945.1 L915.2,1943.5 L916.5,1941.8 L917.8,1940.1 L919.0,1938.4 L920.3,1936.8 L920.5,1935.1 L920.5,1933.4 L920.5,1931.7 L920.5,1930.1 L920.5,1928.4 L920.5,1926.7 L920.5,1925.0 L920.5,1923.4 L920.5,1921.7 L920.5,1920.0 L920.5,1918.3 L920.5,1916.7 L920.5,1915.0 L920.5,1913.3 L920.5,1911.6 L920.5,1910.0 L920.5,1908.3 L920.5,1906.6 L920.5,1904.9 L920.5,1903.2 L920.5,1901.6 L920.5,1899.9 L920.5,1898.2 L920.5,1896.5 L920.5,1894.9 L920.5,1893.2 L920.5,1891.5 L920.5,1889.8 L920.5,1888.2 L920.5,1886.5 L920.5,1884.8 L920.5,1883.1 L920.5,1881.5 L920.5,1879.8 L920.5,1878.1 L920.5,1876.4 L920.5,1874.8 L920.5,1873.1 L920.5,1871.4 L920.5,1869.7 L920.5,1868.1 L920.5,1866.4 L920.5,1864.7 L920.5,1863.0 L920.5,1861.3 L920.5,1859.7 L920.5,1858.0 L920.5,1856.3 L920.5,1854.6 L920.5,1853.0 L920.5,1851.3 L920.5,1849.6 L920.5,1847.9 L920.5,1846.3 L920.5,1844.6 L920.5,1842.9 L920.5,1841.2 L920.5,1839.6 L920.5,1837.9 L920.5,1836.2 L920.5,1834.5 L920.5,1832.9 L920.5,1831.2 L920.5,1829.5 L920.5,1827.8 L920.5,1826.2 L920.5,1824.5 L920.5,1822.8 L920.5,1821.1 L920.5,1819.4 L920.5,1817.8 L920.5,1816.1 L920.5,1814.4 L920.5,1812.7 L920.5,1811.1 L920.5,1809.4 L920.5,1807.7 L920.5,1806.0 L920.5,1804.4 L920.5,1802.7 L920.5,1801.0 L920.5,1799.3 L920.5,1797.7 L920.5,1796.0 L920.5,1794.3 L920.5,1792.6 L920.5,1791.0 L920.5,1789.3 L920.5,1787.6 L920.5,1785.9 L920.5,1784.3 L920.5,1782.6 L920.5,1780.9 L920.5,1779.2 L920.5,1777.5 L920.5,1775.9 L920.5,1774.2 L920.5,1772.5 L920.5,1770.8 L920.5,1769.2 L920.5,1767.5 L920.5,1765.8 L920.5,1764.1 L920.5,1762.5 L920.5,1760.8 L920.5,1759.1 L920.5,1757.4 L920.5,1755.8 L920.5,1754.1 L920.5,1752.4 L920.5,1750.7 L920.5,1749.1 L920.5,1747.4 L920.5,1745.7 L920.5,1744.0 L920.5,1742.4 L920.5,1740.7 L920.5,1739.0 L920.5,1737.3 L920.5,1735.6 L920.5,1734.0 L920.5,1732.3 L920.5,1730.6 L920.5,1728.9 L920.5,1727.3 L920.5,1725.6 L920.5,1723.9 L920.5,1722.2 L920.5,1720.6 L920.5,1718.9 L920.5,1717.2 L920.5,1715.5 L920.5,1713.9 L920.5,1712.2 L920.5,1710.5 L920.5,1708.8 L920.5,1707.2 L920.5,1705.5 L920.5,1703.8 L920.5,1702.1 L920.5,1700.5 L920.5,1698.8 L920.5,1697.1 L920.5,1695.4 L920.5,1693.7 L920.5,1692.1 L920.5,1690.4 L920.5,1688.7 L920.5,1687.0 L920.5,1685.4 L920.5,1683.7 L920.5,1682.0 L920.5,1680.3 L920.5,1678.7 L920.5,1677.0 L920.5,1675.3 L920.5,1673.6 L920.5,1672.0 L920.5,1670.3 L920.5,1668.6 L920.5,1666.9 L920.5,1665.3 L920.5,1663.6 L920.5,1661.9 L920.5,1660.2 L920.5,1658.6 L920.5,1656.9 L920.5,1655.2 L920.5,1653.5 L920.5,1651.8 L920.5,1650.2 L920.5,1648.5 L920.5,1646.8 L920.5,1645.1 L920.5,1643.5 L920.5,1641.8 L920.5,1640.1 L920.5,1638.4 L920.5,1636.8 L920.5,1635.1 L920.5,1633.4 L920.5,1631.7 L920.5,1630.1 L920.5,1628.4 L920.5,1626.7 L920.5,1625.0 L920.5,1623.4 L920.5,1621.7 L920.5,1620.0 L920.5,1618.3 L920.5,1616.7 L920.5,1615.0 L920.5,1613.3 L920.5,1611.6 L920.5,1609.9 L920.5,1608.3 L920.5,1606.6 L920.5,1604.9 L920.5,1603.2 L920.5,1601.6 L920.5,1599.9 L920.5,1598.2 L920.5,1596.5 L920.5,1594.9 L920.5,1593.2 L920.5,1591.5 L920.5,1589.8 L920.5,1588.2 L920.5,1586.5 L920.5,1584.8 L920.5,1583.1 L920.5,1581.5 L920.5,1579.8 L920.5,1578.1 L920.5,1576.4 L920.5,1574.8 L920.5,1573.1 L920.5,1571.4 L920.5,1569.7 L920.5,1568.0 L920.5,1566.4 L920.5,1564.7 L920.5,1563.0 L920.5,1561.3 L920.5,1559.7 L920.5,1558.0 L920.5,1556.3 L920.5,1554.6 L920.5,1553.0 L920.5,1551.3 L920.5,1549.6 L920.5,1547.9 L920.5,1546.3 L920.5,1544.6 L920.5,1542.9 L920.5,1541.2 L920.5,1539.6 L920.5,1537.9 L920.5,1536.2 L920.5,1534.5 L920.5,1532.9 L920.5,1531.2 L920.5,1529.5 L920.5,1527.8 L920.5,1526.1 L920.5,1524.5 L920.5,1522.8 L920.5,1521.1 L920.5,1519.4 L920.5,1517.8 L920.5,1516.1 L920.5,1514.4 L920.5,1512.7 L920.5,1511.1 L920.5,1509.4 L920.5,1507.7 L920.5,1506.0 L920.5,1504.4 L920.5,1502.7 L920.5,1501.0 L920.5,1499.3 L920.5,1497.7 L920.5,1496.0 L920.5,1494.3 L920.5,1492.6 L920.5,1491.0 L920.5,1489.3 L920.5,1487.6 L920.5,1485.9 L920.5,1484.2 L920.5,1482.6 L920.5,1480.9 L920.5,1479.2 L920.5,1477.5 L920.5,1475.9 L920.5,1474.2 L920.5,1472.5 L920.5,1470.8 L920.5,1469.2 L920.5,1467.5 L920.5,1465.8 L920.5,1464.1 L920.5,1462.5 L920.5,1460.8 L920.5,1459.1 L920.5,1457.4 L920.5,1455.8 L920.5,1454.1 L920.5,1452.4 L920.5,1450.7 L920.5,1449.1 L920.5,1447.4 L920.5,1445.7 L920.5,1444.0 L920.5,1442.3 L920.5,1440.7 L920.5,1439.0 L920.5,1437.3 L920.5,1435.6 L920.5,1434.0 L920.5,1432.3 L920.5,1430.6 L920.5,1428.9 L920.5,1427.3 L920.5,1425.6 L920.5,1423.9 L920.5,1422.2 L920.5,1420.6 L920.5,1418.9 L920.5,1417.2 L920.5,1415.5 L920.5,1413.9 L920.5,1412.2 L920.5,1410.5 L920.5,1408.8 L920.5,1407.2 L920.5,1405.5 L920.5,1403.8 L920.5,1402.1 L920.5,1400.4 L920.5,1398.8 L920.5,1397.1 L920.5,1395.4 L920.5,1393.7 L920.5,1392.1 L920.5,1390.4 L920.5,1388.7 L920.5,1387.0 L920.5,1385.4 L920.5,1383.7 L920.5,1382.0 L920.5,1380.3 L920.5,1378.7 L920.5,1377.0 L920.5,1375.3 L920.5,1373.6 L920.5,1372.0 L920.5,1370.3 L920.5,1368.6 L920.5,1366.9 L920.5,1365.3 L920.5,1363.6 L920.5,1361.9 L920.5,1360.2 L920.5,1358.5 L920.5,1356.9 L920.5,1355.2 L920.5,1353.5 L920.5,1351.8 L920.5,1350.2 L920.5,1348.5 L920.5,1346.8 L920.5,1345.1 L920.5,1343.5 L920.5,1341.8 L920.5,1340.1 L920.5,1338.4 L920.5,1336.8 L920.5,1335.1 L920.5,1333.4 L920.5,1331.7 L920.5,1330.1 L920.5,1328.4 L920.5,1326.7 L920.5,1325.0 L920.5,1323.4 L920.5,1321.7 L920.5,1320.0 L920.5,1320.0 L920.5,2158.0 Z" fill="#5796D0"/>
<path d="M478.9,2158.0 L479.1,2156.3 L479.2,2154.6 L479.4,2153.0 L479.6,2151.3 L479.8,2149.6 L480.0,2147.9 L480.2,2146.3 L480.3,2144.6 L480.5,2142.9 L480.7,2141.2 L480.9,2139.6 L481.1,2137.9 L481.3,2136.2 L481.4,2134.5 L481.6,2132.9 L481.8,2131.2 L482.0,2129.5 L482.2,2127.8 L482.4,2126.2 L482.6,2124.5 L482.8,2122.8 L483.0,2121.1 L483.2,2119.5 L483.4,2117.8 L483.5,2116.1 L483.7,2114.4 L483.9,2112.7 L484.1,2111.1 L484.3,2109.4 L484.5,2107.7 L484.7,2106.0 L484.9,2104.4 L485.1,2102.7 L485.3,2101.0 L485.5,2099.3 L485.7,2097.7 L485.9,2096.0 L486.1,2094.3 L486.4,2092.6 L486.6,2091.0 L486.8,2089.3 L487.0,2087.6 L487.2,2085.9 L487.4,2084.3 L487.6,2082.6 L487.8,2080.9 L488.0,2079.2 L488.2,2077.6 L488.5,2075.9 L488.7,2074.2 L488.9,2072.5 L489.1,2070.8 L489.3,2069.2 L489.5,2067.5 L489.8,2065.8 L490.0,2064.1 L490.2,2062.5 L490.4,2060.8 L490.6,2059.1 L490.9,2057.4 L491.1,2055.8 L491.3,2054.1 L491.5,2052.4 L491.8,2050.7 L492.0,2049.1 L492.2,2047.4 L492.5,2045.7 L492.7,2044.0 L492.9,2042.4 L493.2,2040.7 L493.4,2039.0 L493.6,2037.3 L493.9,2035.7 L494.1,2034.0 L494.3,2032.3 L494.6,2030.6 L494.8,2028.9 L495.1,2027.3 L495.3,2025.6 L495.5,2023.9 L495.8,2022.2 L496.0,2020.6 L496.3,2018.9 L496.5,2017.2 L496.8,2015.5 L497.0,2013.9 L497.3,2012.2 L497.5,2010.5 L497.8,2008.8 L498.0,2007.2 L498.3,2005.5 L498.5,2003.8 L498.8,2002.1 L499.1,2000.5 L499.3,1998.8 L499.6,1997.1 L499.8,1995.4 L500.1,1993.8 L500.4,1992.1 L500.6,1990.4 L500.9,1988.7 L501.2,1987.0 L501.4,1985.4 L501.7,1983.7 L502.0,1982.0 L502.3,1980.3 L502.5,1978.7 L502.8,1977.0 L503.1,1975.3 L503.4,1973.6 L503.6,1972.0 L503.9,1970.3 L504.2,1968.6 L504.5,1966.9 L504.8,1965.3 L505.1,1963.6 L505.3,1961.9 L505.6,1960.2 L505.9,1958.6 L506.2,1956.9 L506.5,1955.2 L506.8,1953.5 L507.1,1951.9 L507.4,1950.2 L507.7,1948.5 L508.0,1946.8 L508.3,1945.1 L508.6,1943.5 L508.9,1941.8 L509.2,1940.1 L509.5,1938.4 L509.8,1936.8 L510.1,1935.1 L510.4,1933.4 L510.7,1931.7 L511.1,1930.1 L511.4,1928.4 L511.7,1926.7 L512.0,1925.0 L512.3,1923.4 L512.7,1921.7 L513.0,1920.0 L513.3,1918.3 L513.6,1916.7 L514.0,1915.0 L514.3,1913.3 L514.6,1911.6 L515.0,1910.0 L515.3,1908.3 L515.6,1906.6 L516.0,1904.9 L516.3,1903.2 L516.6,1901.6 L517.0,1899.9 L517.3,1898.2 L517.7,1896.5 L518.0,1894.9 L518.4,1893.2 L518.7,1891.5 L519.1,1889.8 L519.4,1888.2 L519.8,1886.5 L520.2,1884.8 L520.5,1883.1 L520.9,1881.5 L521.3,1879.8 L521.6,1878.1 L522.0,1876.4 L522.4,1874.8 L522.7,1873.1 L523.1,1871.4 L523.5,1869.7 L523.9,1868.1 L524.3,1866.4 L524.6,1864.7 L525.0,1863.0 L525.4,1861.3 L525.8,1859.7 L526.2,1858.0 L526.6,1856.3 L527.0,1854.6 L527.4,1853.0 L527.8,1851.3 L528.2,1849.6 L528.6,1847.9 L529.0,1846.3 L529.4,1844.6 L529.8,1842.9 L530.2,1841.2 L530.7,1839.6 L531.1,1837.9 L531.5,1836.2 L531.9,1834.5 L532.3,1832.9 L532.8,1831.2 L533.2,1829.5 L533.6,1827.8 L534.1,1826.2 L534.5,1824.5 L535.0,1822.8 L535.4,1821.1 L535.8,1819.4 L536.3,1817.8 L536.7,1816.1 L537.2,1814.4 L537.7,1812.7 L538.1,1811.1 L538.6,1809.4 L539.0,1807.7 L539.5,1806.0 L540.0,1804.4 L540.5,1802.7 L540.9,1801.0 L541.4,1799.3 L541.9,1797.7 L542.4,1796.0 L542.9,1794.3 L543.4,1792.6 L543.9,1791.0 L544.4,1789.3 L544.9,1787.6 L545.4,1785.9 L545.9,1784.3 L546.4,1782.6 L546.9,1780.9 L547.4,1779.2 L547.9,1777.5 L548.4,1775.9 L549.0,1774.2 L549.5,1772.5 L550.0,1770.8 L550.6,1769.2 L551.1,1767.5 L551.6,1765.8 L552.2,1764.1 L552.7,1762.5 L553.3,1760.8 L553.8,1759.1 L554.4,1757.4 L555.0,1755.8 L555.5,1754.1 L556.1,1752.4 L556.7,1750.7 L557.3,1749.1 L557.8,1747.4 L558.4,1745.7 L559.0,1744.0 L559.6,1742.4 L560.2,1740.7 L560.8,1739.0 L561.4,1737.3 L562.0,1735.6 L562.7,1734.0 L563.3,1732.3 L563.9,1730.6 L564.5,1728.9 L565.2,1727.3 L565.8,1725.6 L566.4,1723.9 L567.1,1722.2 L567.7,1720.6 L568.4,1718.9 L569.0,1717.2 L569.7,1715.5 L570.4,1713.9 L571.1,1712.2 L571.7,1710.5 L572.4,1708.8 L573.1,1707.2 L573.8,1705.5 L574.5,1703.8 L575.2,1702.1 L575.9,1700.5 L576.6,1698.8 L577.3,1697.1 L578.1,1695.4 L578.8,1693.7 L579.5,1692.1 L580.3,1690.4 L581.0,1688.7 L581.8,1687.0 L582.5,1685.4 L583.3,1683.7 L584.1,1682.0 L584.8,1680.3 L585.6,1678.7 L586.4,1677.0 L587.2,1675.3 L588.0,1673.6 L588.8,1672.0 L589.6,1670.3 L590.4,1668.6 L591.3,1666.9 L592.1,1665.3 L592.9,1663.6 L593.8,1661.9 L594.6,1660.2 L595.5,1658.6 L596.3,1656.9 L597.2,1655.2 L598.1,1653.5 L599.0,1651.8 L599.9,1650.2 L600.8,1648.5 L601.7,1646.8 L602.6,1645.1 L603.5,1643.5 L604.5,1641.8 L605.4,1640.1 L606.3,1638.4 L607.3,1636.8 L608.3,1635.1 L609.2,1633.4 L610.2,1631.7 L611.2,1630.1 L612.2,1628.4 L613.2,1626.7 L614.2,1625.0 L615.2,1623.4 L616.3,1621.7 L617.3,1620.0 L618.4,1618.3 L619.4,1616.7 L620.5,1615.0 L621.6,1613.3 L622.7,1611.6 L623.8,1609.9 L624.9,1608.3 L626.0,1606.6 L627.1,1604.9 L628.3,1603.2 L629.4,1601.6 L630.6,1599.9 L631.8,1598.2 L633.0,1596.5 L634.2,1594.9 L635.4,1593.2 L636.6,1591.5 L637.8,1589.8 L639.1,1588.2 L640.3,1586.5 L641.6,1584.8 L642.9,1583.1 L644.2,1581.5 L645.5,1579.8 L646.8,1578.1 L648.1,1576.4 L649.5,1574.8 L650.8,1573.1 L652.2,1571.4 L653.6,1569.7 L655.0,1568.0 L656.4,1566.4 L657.8,1564.7 L659.3,1563.0 L660.7,1561.3 L662.2,1559.7 L663.7,1558.0 L665.2,1556.3 L666.7,1554.6 L668.3,1553.0 L669.8,1551.3 L671.4,1549.6 L673.0,1547.9 L674.6,1546.3 L676.3,1544.6 L677.9,1542.9 L679.6,1541.2 L681.2,1539.6 L682.9,1537.9 L684.7,1536.2 L686.4,1534.5 L688.2,1532.9 L690.0,1531.2 L691.8,1529.5 L693.6,1527.8 L695.4,1526.1 L697.3,1524.5 L699.2,1522.8 L701.1,1521.1 L703.0,1519.4 L705.0,1517.8 L707.0,1516.1 L709.0,1514.4 L711.0,1512.7 L713.1,1511.1 L715.2,1509.4 L717.3,1507.7 L719.4,1506.0 L721.6,1504.4 L723.8,1502.7 L726.0,1501.0 L728.3,1499.3 L730.6,1497.7 L732.9,1496.0 L735.2,1494.3 L737.6,1492.6 L740.0,1491.0 L742.4,1489.3 L744.9,1487.6 L747.4,1485.9 L750.0,1484.2 L752.5,1482.6 L755.1,1480.9 L757.8,1479.2 L760.5,1477.5 L763.2,1475.9 L766.0,1474.2 L768.8,1472.5 L771.6,1470.8 L774.5,1469.2 L777.5,1467.5 L780.5,1465.8 L783.5,1464.1 L786.5,1462.5 L789.7,1460.8 L792.8,1459.1 L796.0,1457.4 L799.3,1455.8 L802.6,1454.1 L806.0,1452.4 L809.4,1450.7 L812.9,1449.1 L816.5,1447.4 L820.1,1445.7 L823.7,1444.0 L827.4,1442.3 L831.2,1440.7 L835.1,1439.0 L839.0,1437.3 L843.0,1435.6 L847.0,1434.0 L851.1,1432.3 L855.3,1430.6 L859.6,1428.9 L864.0,1427.3 L868.4,1425.6 L872.9,1423.9 L877.5,1422.2 L882.2,1420.6 L887.0,1418.9 L891.9,1417.2 L896.8,1415.5 L901.9,1413.9 L907.0,1412.2 L912.3,1410.5 L917.7,1408.8" fill="none" stroke="#4A74B8" stroke-width="2.0"/>
<rect x="82.0" y="1319.4" width="839.1" height="839.2" fill="none" stroke="#DCDCDC" stroke-width="1.2"/>
</g>
<g id="plot-d">
<rect x="1247.0" y="1310.4" width="862.2" height="861.6" fill="#6EA846"/>
<path d="M1595.2,2172.0 L1595.2,2170.3 L1595.2,2168.6 L1595.3,2166.8 L1595.3,2165.1 L1595.4,2163.4 L1595.4,2161.7 L1595.5,2159.9 L1595.5,2158.2 L1595.6,2156.5 L1595.6,2154.8 L1595.7,2153.0 L1595.7,2151.3 L1595.8,2149.6 L1595.8,2147.9 L1595.8,2146.2 L1595.9,2144.4 L1595.9,2142.7 L1596.0,2141.0 L1596.0,2139.3 L1596.1,2137.5 L1596.1,2135.8 L1596.2,2134.1 L1596.2,2132.4 L1596.3,2130.6 L1596.3,2128.9 L1596.4,2127.2 L1596.4,2125.5 L1596.5,2123.8 L1596.5,2122.0 L1596.6,2120.3 L1596.6,2118.6 L1596.7,2116.9 L1596.7,2115.1 L1596.8,2113.4 L1596.8,2111.7 L1596.9,2110.0 L1596.9,2108.2 L1597.0,2106.5 L1597.0,2104.8 L1597.1,2103.1 L1597.1,2101.3 L1597.2,2099.6 L1597.2,2097.9 L1597.3,2096.2 L1597.3,2094.5 L1597.4,2092.7 L1597.4,2091.0 L1597.5,2089.3 L1597.6,2087.6 L1597.6,2085.8 L1597.7,2084.1 L1597.7,2082.4 L1597.8,2080.7 L1597.8,2078.9 L1597.9,2077.2 L1597.9,2075.5 L1598.0,2073.8 L1598.0,2072.1 L1598.1,2070.3 L1598.2,2068.6 L1598.2,2066.9 L1598.3,2065.2 L1598.3,2063.4 L1598.4,2061.7 L1598.4,2060.0 L1598.5,2058.3 L1598.5,2056.5 L1598.6,2054.8 L1598.7,2053.1 L1598.7,2051.4 L1598.8,2049.7 L1598.8,2047.9 L1598.9,2046.2 L1598.9,2044.5 L1599.0,2042.8 L1599.1,2041.0 L1599.1,2039.3 L1599.2,2037.6 L1599.2,2035.9 L1599.3,2034.1 L1599.4,2032.4 L1599.4,2030.7 L1599.5,2029.0 L1599.5,2027.3 L1599.6,2025.5 L1599.7,2023.8 L1599.7,2022.1 L1599.8,2020.4 L1599.9,2018.6 L1599.9,2016.9 L1600.0,2015.2 L1600.0,2013.5 L1600.1,2011.7 L1600.2,2010.0 L1600.2,2008.3 L1600.3,2006.6 L1600.4,2004.8 L1600.4,2003.1 L1600.5,2001.4 L1600.5,1999.7 L1600.6,1998.0 L1600.7,1996.2 L1600.7,1994.5 L1600.8,1992.8 L1600.9,1991.1 L1600.9,1989.3 L1601.0,1987.6 L1601.1,1985.9 L1601.1,1984.2 L1601.2,1982.4 L1601.3,1980.7 L1601.3,1979.0 L1601.4,1977.3 L1601.5,1975.6 L1601.5,1973.8 L1601.6,1972.1 L1601.7,1970.4 L1601.8,1968.7 L1601.8,1966.9 L1601.9,1965.2 L1602.0,1963.5 L1602.0,1961.8 L1602.1,1960.0 L1602.2,1958.3 L1602.2,1956.6 L1602.3,1954.9 L1602.4,1953.2 L1602.5,1951.4 L1602.5,1949.7 L1602.6,1948.0 L1602.7,1946.3 L1602.8,1944.5 L1602.8,1942.8 L1602.9,1941.1 L1603.0,1939.4 L1603.1,1937.6 L1603.1,1935.9 L1603.2,1934.2 L1603.3,1932.5 L1603.4,1930.8 L1603.4,1929.0 L1603.5,1927.3 L1603.6,1925.6 L1603.7,1923.9 L1603.7,1922.1 L1603.8,1920.4 L1603.9,1918.7 L1604.0,1917.0 L1604.1,1915.2 L1604.1,1913.5 L1604.2,1911.8 L1604.3,1910.1 L1604.4,1908.4 L1604.5,1906.6 L1604.5,1904.9 L1604.6,1903.2 L1604.7,1901.5 L1604.8,1899.7 L1604.9,1898.0 L1605.0,1896.3 L1605.0,1894.6 L1605.1,1892.8 L1605.2,1891.1 L1605.3,1889.4 L1605.4,1887.7 L1605.5,1885.9 L1605.6,1884.2 L1605.6,1882.5 L1605.7,1880.8 L1605.8,1879.1 L1605.9,1877.3 L1606.0,1875.6 L1606.1,1873.9 L1606.2,1872.2 L1606.3,1870.4 L1606.3,1868.7 L1606.4,1867.0 L1606.5,1865.3 L1606.6,1863.5 L1606.7,1861.8 L1606.8,1860.1 L1606.9,1858.4 L1607.0,1856.7 L1607.1,1854.9 L1607.2,1853.2 L1607.3,1851.5 L1607.4,1849.8 L1607.5,1848.0 L1607.5,1846.3 L1607.6,1844.6 L1607.7,1842.9 L1607.8,1841.1 L1607.9,1839.4 L1608.0,1837.7 L1608.1,1836.0 L1608.2,1834.3 L1608.3,1832.5 L1608.4,1830.8 L1608.5,1829.1 L1608.6,1827.4 L1608.7,1825.6 L1608.8,1823.9 L1608.9,1822.2 L1609.0,1820.5 L1609.1,1818.7 L1609.2,1817.0 L1609.4,1815.3 L1609.5,1813.6 L1609.6,1811.9 L1609.7,1810.1 L1609.8,1808.4 L1609.9,1806.7 L1610.0,1805.0 L1610.1,1803.2 L1610.2,1801.5 L1610.3,1799.8 L1610.4,1798.1 L1610.5,1796.3 L1610.6,1794.6 L1610.8,1792.9 L1610.9,1791.2 L1611.0,1789.4 L1611.1,1787.7 L1611.2,1786.0 L1611.3,1784.3 L1611.4,1782.6 L1611.6,1780.8 L1611.7,1779.1 L1611.8,1777.4 L1611.9,1775.7 L1612.0,1773.9 L1612.1,1772.2 L1612.3,1770.5 L1612.4,1768.8 L1612.5,1767.0 L1612.6,1765.3 L1612.8,1763.6 L1612.9,1761.9 L1613.0,1760.2 L1613.1,1758.4 L1613.2,1756.7 L1613.4,1755.0 L1613.5,1753.3 L1613.6,1751.5 L1613.8,1749.8 L1613.9,1748.1 L1614.0,1746.4 L1614.1,1744.6 L1614.3,1742.9 L1614.4,1741.2 L1614.5,1739.5 L1614.7,1737.8 L1614.8,1736.0 L1614.9,1734.3 L1615.1,1732.6 L1615.2,1730.9 L1615.3,1729.1 L1615.5,1727.4 L1615.6,1725.7 L1615.8,1724.0 L1615.9,1722.2 L1616.0,1720.5 L1616.2,1718.8 L1616.3,1717.1 L1616.5,1715.4 L1616.6,1713.6 L1616.8,1711.9 L1616.9,1710.2 L1617.1,1708.5 L1617.2,1706.7 L1617.4,1705.0 L1617.5,1703.3 L1617.7,1701.6 L1617.8,1699.8 L1618.0,1698.1 L1618.1,1696.4 L1618.3,1694.7 L1618.4,1693.0 L1618.6,1691.2 L1618.7,1689.5 L1618.9,1687.8 L1619.1,1686.1 L1619.2,1684.3 L1619.4,1682.6 L1619.5,1680.9 L1619.7,1679.2 L1619.9,1677.4 L1620.0,1675.7 L1620.2,1674.0 L1620.4,1672.3 L1620.5,1670.5 L1620.7,1668.8 L1620.9,1667.1 L1621.1,1665.4 L1621.2,1663.7 L1621.4,1661.9 L1621.6,1660.2 L1621.8,1658.5 L1621.9,1656.8 L1622.1,1655.0 L1622.3,1653.3 L1622.5,1651.6 L1622.7,1649.9 L1622.8,1648.1 L1623.0,1646.4 L1623.2,1644.7 L1623.4,1643.0 L1623.6,1641.3 L1623.8,1639.5 L1624.0,1637.8 L1624.2,1636.1 L1624.4,1634.4 L1624.5,1632.6 L1624.7,1630.9 L1624.9,1629.2 L1625.1,1627.5 L1625.3,1625.7 L1625.5,1624.0 L1625.8,1622.3 L1626.0,1620.6 L1626.2,1618.9 L1626.4,1617.1 L1626.6,1615.4 L1626.8,1613.7 L1627.0,1612.0 L1627.2,1610.2 L1627.4,1608.5 L1627.7,1606.8 L1627.9,1605.1 L1628.1,1603.3 L1628.3,1601.6 L1628.5,1599.9 L1628.8,1598.2 L1629.0,1596.5 L1629.2,1594.7 L1629.5,1593.0 L1629.7,1591.3 L1629.9,1589.6 L1630.2,1587.8 L1630.4,1586.1 L1630.6,1584.4 L1630.9,1582.7 L1631.1,1580.9 L1631.4,1579.2 L1631.6,1577.5 L1631.9,1575.8 L1632.1,1574.0 L1632.4,1572.3 L1632.6,1570.6 L1632.9,1568.9 L1633.2,1567.2 L1633.4,1565.4 L1633.7,1563.7 L1633.9,1562.0 L1634.2,1560.3 L1634.5,1558.5 L1634.8,1556.8 L1635.0,1555.1 L1635.3,1553.4 L1635.6,1551.6 L1635.9,1549.9 L1636.2,1548.2 L1636.4,1546.5 L1636.7,1544.8 L1637.0,1543.0 L1637.3,1541.3 L1637.6,1539.6 L1637.9,1537.9 L1638.2,1536.1 L1638.5,1534.4 L1638.8,1532.7 L1639.1,1531.0 L1639.4,1529.2 L1639.8,1527.5 L1640.1,1525.8 L1640.4,1524.1 L1640.7,1522.4 L1641.1,1520.6 L1641.4,1518.9 L1641.7,1517.2 L1642.0,1515.5 L1642.4,1513.7 L1642.7,1512.0 L1643.1,1510.3 L1643.4,1508.6 L1643.8,1506.8 L1644.1,1505.1 L1644.5,1503.4 L1644.9,1501.7 L1645.2,1500.0 L1645.6,1498.2 L1646.0,1496.5 L1646.3,1494.8 L1646.7,1493.1 L1647.1,1491.3 L1647.5,1489.6 L1647.9,1487.9 L1648.3,1486.2 L1648.7,1484.4 L1649.1,1482.7 L1649.5,1481.0 L1649.9,1479.3 L1650.3,1477.6 L1650.7,1475.8 L1651.1,1474.1 L1651.6,1472.4 L1652.0,1470.7 L1652.4,1468.9 L1652.9,1467.2 L1653.3,1465.5 L1653.8,1463.8 L1654.2,1462.0 L1654.7,1460.3 L1655.2,1458.6 L1655.6,1456.9 L1656.1,1455.1 L1656.6,1453.4 L1657.1,1451.7 L1657.6,1450.0 L1658.1,1448.3 L1658.6,1446.5 L1659.1,1444.8 L1659.6,1443.1 L1660.1,1441.4 L1660.6,1439.6 L1661.2,1437.9 L1661.7,1436.2 L1662.2,1434.5 L1662.8,1432.7 L1663.3,1431.0 L1663.9,1429.3 L1664.5,1427.6 L1665.1,1425.9 L1665.6,1424.1 L1666.2,1422.4 L1666.8,1420.7 L1667.4,1419.0 L1668.0,1417.2 L1668.7,1415.5 L1669.3,1413.8 L1669.9,1412.1 L1670.6,1410.3 L1671.2,1408.6 L1671.9,1406.9 L1672.6,1405.2 L1673.2,1403.5 L1673.9,1401.7 L1674.6,1400.0 L1675.3,1398.3 L1676.0,1396.6 L1676.8,1394.8 L1677.5,1393.1 L1678.2,1391.4 L1679.0,1389.7 L1679.8,1387.9 L1680.5,1386.2 L1681.3,1384.5 L1682.1,1382.8 L1682.9,1381.1 L1683.7,1379.3 L1684.6,1377.6 L1685.4,1375.9 L1686.3,1374.2 L1687.1,1372.4 L1688.0,1370.7 L1688.9,1369.0 L1689.8,1367.3 L1690.8,1365.5 L1691.7,1363.8 L1692.6,1362.1 L1693.6,1360.4 L1694.6,1358.6 L1695.6,1356.9 L1696.6,1355.2 L1697.6,1353.5 L1698.7,1351.8 L1699.7,1350.0 L1700.8,1348.3 L1701.9,1346.6 L1703.0,1344.9 L1704.1,1343.1 L1705.3,1341.4 L1706.5,1339.7 L1707.7,1338.0 L1708.9,1336.2 L1710.1,1334.5 L1711.4,1332.8 L1712.7,1331.1 L1714.0,1329.4 L1715.3,1327.6 L1716.6,1325.9 L1718.0,1324.2 L1719.4,1322.5 L1720.8,1320.7 L1722.3,1319.0 L1723.8,1317.3 L1725.3,1315.6 L1726.8,1313.8 L1728.4,1312.1 L1730.0,1310.4 L2109.2,1310.4 L2109.2,2172.0 Z" fill="#F6BD00"/>
<path d="M1721.9,2172.0 L1722.1,2170.3 L1722.4,2168.6 L1722.6,2166.8 L1722.9,2165.1 L1723.1,2163.4 L1723.4,2161.7 L1723.6,2159.9 L1723.9,2158.2 L1724.1,2156.5 L1724.4,2154.8 L1724.6,2153.0 L1724.9,2151.3 L1725.1,2149.6 L1725.4,2147.9 L1725.6,2146.2 L1725.9,2144.4 L1726.1,2142.7 L1726.4,2141.0 L1726.6,2139.3 L1726.9,2137.5 L1727.2,2135.8 L1727.4,2134.1 L1727.7,2132.4 L1728.0,2130.6 L1728.2,2128.9 L1728.5,2127.2 L1728.7,2125.5 L1729.0,2123.8 L1729.3,2122.0 L1729.5,2120.3 L1729.8,2118.6 L1730.1,2116.9 L1730.4,2115.1 L1730.6,2113.4 L1730.9,2111.7 L1731.2,2110.0 L1731.4,2108.2 L1731.7,2106.5 L1732.0,2104.8 L1732.3,2103.1 L1732.6,2101.3 L1732.8,2099.6 L1733.1,2097.9 L1733.4,2096.2 L1733.7,2094.5 L1734.0,2092.7 L1734.2,2091.0 L1734.5,2089.3 L1734.8,2087.6 L1735.1,2085.8 L1735.4,2084.1 L1735.7,2082.4 L1736.0,2080.7 L1736.3,2078.9 L1736.6,2077.2 L1736.9,2075.5 L1737.1,2073.8 L1737.4,2072.1 L1737.7,2070.3 L1738.0,2068.6 L1738.3,2066.9 L1738.6,2065.2 L1738.9,2063.4 L1739.2,2061.7 L1739.6,2060.0 L1739.9,2058.3 L1740.2,2056.5 L1740.5,2054.8 L1740.8,2053.1 L1741.1,2051.4 L1741.4,2049.7 L1741.7,2047.9 L1742.0,2046.2 L1742.3,2044.5 L1742.7,2042.8 L1743.0,2041.0 L1743.3,2039.3 L1743.6,2037.6 L1743.9,2035.9 L1744.3,2034.1 L1744.6,2032.4 L1744.9,2030.7 L1745.2,2029.0 L1745.6,2027.3 L1745.9,2025.5 L1746.2,2023.8 L1746.6,2022.1 L1746.9,2020.4 L1747.2,2018.6 L1747.6,2016.9 L1747.9,2015.2 L1748.2,2013.5 L1748.6,2011.7 L1748.9,2010.0 L1749.3,2008.3 L1749.6,2006.6 L1749.9,2004.8 L1750.3,2003.1 L1750.6,2001.4 L1751.0,1999.7 L1751.3,1998.0 L1751.7,1996.2 L1752.0,1994.5 L1752.4,1992.8 L1752.8,1991.1 L1753.1,1989.3 L1753.5,1987.6 L1753.8,1985.9 L1754.2,1984.2 L1754.6,1982.4 L1754.9,1980.7 L1755.3,1979.0 L1755.7,1977.3 L1756.0,1975.6 L1756.4,1973.8 L1756.8,1972.1 L1757.2,1970.4 L1757.5,1968.7 L1757.9,1966.9 L1758.3,1965.2 L1758.7,1963.5 L1759.0,1961.8 L1759.4,1960.0 L1759.8,1958.3 L1760.2,1956.6 L1760.6,1954.9 L1761.0,1953.2 L1761.4,1951.4 L1761.8,1949.7 L1762.2,1948.0 L1762.6,1946.3 L1763.0,1944.5 L1763.4,1942.8 L1763.8,1941.1 L1764.2,1939.4 L1764.6,1937.6 L1765.0,1935.9 L1765.4,1934.2 L1765.8,1932.5 L1766.2,1930.8 L1766.6,1929.0 L1767.1,1927.3 L1767.5,1925.6 L1767.9,1923.9 L1768.3,1922.1 L1768.8,1920.4 L1769.2,1918.7 L1769.6,1917.0 L1770.0,1915.2 L1770.5,1913.5 L1770.9,1911.8 L1771.3,1910.1 L1771.8,1908.4 L1772.2,1906.6 L1772.7,1904.9 L1773.1,1903.2 L1773.6,1901.5 L1774.0,1899.7 L1774.5,1898.0 L1774.9,1896.3 L1775.4,1894.6 L1775.8,1892.8 L1776.3,1891.1 L1776.7,1889.4 L1777.2,1887.7 L1777.7,1885.9 L1778.1,1884.2 L1778.6,1882.5 L1779.1,1880.8 L1779.6,1879.1 L1780.0,1877.3 L1780.5,1875.6 L1781.0,1873.9 L1781.5,1872.2 L1782.0,1870.4 L1782.5,1868.7 L1782.9,1867.0 L1783.4,1865.3 L1783.9,1863.5 L1784.4,1861.8 L1784.9,1860.1 L1785.4,1858.4 L1785.9,1856.7 L1786.4,1854.9 L1787.0,1853.2 L1787.5,1851.5 L1788.0,1849.8 L1788.5,1848.0 L1789.0,1846.3 L1789.5,1844.6 L1790.1,1842.9 L1790.6,1841.1 L1791.1,1839.4 L1791.7,1837.7 L1792.2,1836.0 L1792.7,1834.3 L1793.3,1832.5 L1793.8,1830.8 L1794.4,1829.1 L1794.9,1827.4 L1795.5,1825.6 L1796.0,1823.9 L1796.6,1822.2 L1797.2,1820.5 L1797.7,1818.7 L1798.3,1817.0 L1798.9,1815.3 L1799.4,1813.6 L1800.0,1811.9 L1800.6,1810.1 L1801.2,1808.4 L1801.8,1806.7 L1802.3,1805.0 L1802.9,1803.2 L1803.5,1801.5 L1804.1,1799.8 L1804.7,1798.1 L1805.3,1796.3 L1805.9,1794.6 L1806.6,1792.9 L1807.2,1791.2 L1807.8,1789.4 L1808.4,1787.7 L1809.0,1786.0 L1809.7,1784.3 L1810.3,1782.6 L1810.9,1780.8 L1811.6,1779.1 L1812.2,1777.4 L1812.9,1775.7 L1813.5,1773.9 L1814.2,1772.2 L1814.8,1770.5 L1815.5,1768.8 L1816.1,1767.0 L1816.8,1765.3 L1817.5,1763.6 L1818.1,1761.9 L1818.8,1760.2 L1819.5,1758.4 L1820.2,1756.7 L1820.9,1755.0 L1821.6,1753.3 L1822.3,1751.5 L1823.0,1749.8 L1823.7,1748.1 L1824.4,1746.4 L1825.1,1744.6 L1825.8,1742.9 L1826.6,1741.2 L1827.3,1739.5 L1828.0,1737.8 L1828.7,1736.0 L1829.5,1734.3 L1830.2,1732.6 L1831.0,1730.9 L1831.7,1729.1 L1832.5,1727.4 L1833.3,1725.7 L1834.0,1724.0 L1834.8,1722.2 L1835.6,1720.5 L1836.4,1718.8 L1837.1,1717.1 L1837.9,1715.4 L1838.7,1713.6 L1839.5,1711.9 L1840.3,1710.2 L1841.1,1708.5 L1842.0,1706.7 L1842.8,1705.0 L1843.6,1703.3 L1844.4,1701.6 L1845.3,1699.8 L1846.1,1698.1 L1847.0,1696.4 L1847.8,1694.7 L1848.7,1693.0 L1849.5,1691.2 L1850.4,1689.5 L1851.3,1687.8 L1852.2,1686.1 L1853.0,1684.3 L1853.9,1682.6 L1854.8,1680.9 L1855.7,1679.2 L1856.6,1677.4 L1857.6,1675.7 L1858.5,1674.0 L1859.4,1672.3 L1860.3,1670.5 L1861.3,1668.8 L1862.2,1667.1 L1863.2,1665.4 L1864.1,1663.7 L1865.1,1661.9 L1866.1,1660.2 L1867.0,1658.5 L1868.0,1656.8 L1869.0,1655.0 L1870.0,1653.3 L1871.0,1651.6 L1872.0,1649.9 L1873.1,1648.1 L1874.1,1646.4 L1875.1,1644.7 L1876.2,1643.0 L1877.2,1641.3 L1878.3,1639.5 L1879.3,1637.8 L1880.4,1636.1 L1881.5,1634.4 L1882.6,1632.6 L1883.7,1630.9 L1884.8,1629.2 L1885.9,1627.5 L1887.0,1625.7 L1888.1,1624.0 L1889.3,1622.3 L1890.4,1620.6 L1891.5,1618.9 L1892.7,1617.1 L1893.9,1615.4 L1895.1,1613.7 L1896.2,1612.0 L1897.4,1610.2 L1898.6,1608.5 L1899.9,1606.8 L1901.1,1605.1 L1902.3,1603.3 L1903.5,1601.6 L1904.8,1599.9 L1906.1,1598.2 L1907.3,1596.5 L1908.6,1594.7 L1909.9,1593.0 L1911.2,1591.3 L1912.5,1589.6 L1913.8,1587.8 L1915.2,1586.1 L1916.5,1584.4 L1917.9,1582.7 L1919.2,1580.9 L1920.6,1579.2 L1922.0,1577.5 L1923.4,1575.8 L1924.8,1574.0 L1926.2,1572.3 L1927.6,1570.6 L1929.1,1568.9 L1930.5,1567.2 L1932.0,1565.4 L1933.5,1563.7 L1935.0,1562.0 L1936.5,1560.3 L1938.0,1558.5 L1939.5,1556.8 L1941.1,1555.1 L1942.6,1553.4 L1944.2,1551.6 L1945.8,1549.9 L1947.4,1548.2 L1949.0,1546.5 L1950.6,1544.8 L1952.3,1543.0 L1953.9,1541.3 L1955.6,1539.6 L1957.3,1537.9 L1959.0,1536.1 L1960.7,1534.4 L1962.4,1532.7 L1964.2,1531.0 L1966.0,1529.2 L1967.7,1527.5 L1969.5,1525.8 L1971.3,1524.1 L1973.2,1522.4 L1975.0,1520.6 L1976.9,1518.9 L1978.8,1517.2 L1980.7,1515.5 L1982.6,1513.7 L1984.5,1512.0 L1986.5,1510.3 L1988.4,1508.6 L1990.4,1506.8 L1992.5,1505.1 L1994.5,1503.4 L1996.5,1501.7 L1998.6,1500.0 L2000.7,1498.2 L2002.8,1496.5 L2005.0,1494.8 L2007.1,1493.1 L2009.3,1491.3 L2011.5,1489.6 L2013.7,1487.9 L2016.0,1486.2 L2018.2,1484.4 L2020.5,1482.7 L2022.8,1481.0 L2025.2,1479.3 L2027.6,1477.6 L2030.0,1475.8 L2032.4,1474.1 L2034.8,1472.4 L2037.3,1470.7 L2039.8,1468.9 L2042.3,1467.2 L2044.9,1465.5 L2047.4,1463.8 L2050.1,1462.0 L2052.7,1460.3 L2055.4,1458.6 L2058.1,1456.9 L2060.8,1455.1 L2063.6,1453.4 L2066.4,1451.7 L2069.2,1450.0 L2072.0,1448.3 L2074.9,1446.5 L2077.9,1444.8 L2080.8,1443.1 L2083.8,1441.4 L2086.8,1439.6 L2089.9,1437.9 L2093.0,1436.2 L2096.2,1434.5 L2099.4,1432.7 L2102.6,1431.0 L2105.8,1429.3 L2109.1,1427.6 L2109.2,1425.9 L2109.2,1424.1 L2109.2,1422.4 L2109.2,1420.7 L2109.2,1419.0 L2109.2,1417.2 L2109.2,1415.5 L2109.2,1413.8 L2109.2,1412.1 L2109.2,1410.3 L2109.2,1408.6 L2109.2,1406.9 L2109.2,1405.2 L2109.2,1403.5 L2109.2,1401.7 L2109.2,1400.0 L2109.2,1398.3 L2109.2,1396.6 L2109.2,1394.8 L2109.2,1393.1 L2109.2,1391.4 L2109.2,1389.7 L2109.2,1387.9 L2109.2,1386.2 L2109.2,1384.5 L2109.2,1382.8 L2109.2,1381.1 L2109.2,1379.3 L2109.2,1377.6 L2109.2,1375.9 L2109.2,1374.2 L2109.2,1372.4 L2109.2,1370.7 L2109.2,1369.0 L2109.2,1367.3 L2109.2,1365.5 L2109.2,1363.8 L2109.2,1362.1 L2109.2,1360.4 L2109.2,1358.6 L2109.2,1356.9 L2109.2,1355.2 L2109.2,1353.5 L2109.2,1351.8 L2109.2,1350.0 L2109.2,1348.3 L2109.2,1346.6 L2109.2,1344.9 L2109.2,1343.1 L2109.2,1341.4 L2109.2,1339.7 L2109.2,1338.0 L2109.2,1336.2 L2109.2,1334.5 L2109.2,1332.8 L2109.2,1331.1 L2109.2,1329.4 L2109.2,1327.6 L2109.2,1325.9 L2109.2,1324.2 L2109.2,1322.5 L2109.2,1320.7 L2109.2,1319.0 L2109.2,1317.3 L2109.2,1315.6 L2109.2,1313.8 L2109.2,1312.1 L2109.2,1310.4 L2109.2,1310.4 L2109.2,2172.0 Z" fill="#A0A0A0"/>
<path d="M1863.9,2172.0 L1864.4,2170.3 L1864.9,2168.6 L1865.4,2166.8 L1865.9,2165.1 L1866.3,2163.4 L1866.8,2161.7 L1867.3,2159.9 L1867.8,2158.2 L1868.3,2156.5 L1868.8,2154.8 L1869.3,2153.0 L1869.8,2151.3 L1870.3,2149.6 L1870.8,2147.9 L1871.3,2146.2 L1871.8,2144.4 L1872.3,2142.7 L1872.9,2141.0 L1873.4,2139.3 L1873.9,2137.5 L1874.4,2135.8 L1874.9,2134.1 L1875.4,2132.4 L1876.0,2130.6 L1876.5,2128.9 L1877.0,2127.2 L1877.5,2125.5 L1878.1,2123.8 L1878.6,2122.0 L1879.1,2120.3 L1879.7,2118.6 L1880.2,2116.9 L1880.7,2115.1 L1881.3,2113.4 L1881.8,2111.7 L1882.4,2110.0 L1882.9,2108.2 L1883.5,2106.5 L1884.0,2104.8 L1884.6,2103.1 L1885.1,2101.3 L1885.7,2099.6 L1886.3,2097.9 L1886.8,2096.2 L1887.4,2094.5 L1887.9,2092.7 L1888.5,2091.0 L1889.1,2089.3 L1889.7,2087.6 L1890.2,2085.8 L1890.8,2084.1 L1891.4,2082.4 L1892.0,2080.7 L1892.5,2078.9 L1893.1,2077.2 L1893.7,2075.5 L1894.3,2073.8 L1894.9,2072.1 L1895.5,2070.3 L1896.1,2068.6 L1896.7,2066.9 L1897.3,2065.2 L1897.9,2063.4 L1898.5,2061.7 L1899.1,2060.0 L1899.7,2058.3 L1900.3,2056.5 L1900.9,2054.8 L1901.5,2053.1 L1902.2,2051.4 L1902.8,2049.7 L1903.4,2047.9 L1904.0,2046.2 L1904.7,2044.5 L1905.3,2042.8 L1905.9,2041.0 L1906.6,2039.3 L1907.2,2037.6 L1907.8,2035.9 L1908.5,2034.1 L1909.1,2032.4 L1909.8,2030.7 L1910.4,2029.0 L1911.1,2027.3 L1911.7,2025.5 L1912.4,2023.8 L1913.1,2022.1 L1913.7,2020.4 L1914.4,2018.6 L1915.1,2016.9 L1915.7,2015.2 L1916.4,2013.5 L1917.1,2011.7 L1917.8,2010.0 L1918.4,2008.3 L1919.1,2006.6 L1919.8,2004.8 L1920.5,2003.1 L1921.2,2001.4 L1921.9,1999.7 L1922.6,1998.0 L1923.3,1996.2 L1924.0,1994.5 L1924.7,1992.8 L1925.4,1991.1 L1926.1,1989.3 L1926.8,1987.6 L1927.6,1985.9 L1928.3,1984.2 L1929.0,1982.4 L1929.7,1980.7 L1930.5,1979.0 L1931.2,1977.3 L1931.9,1975.6 L1932.7,1973.8 L1933.4,1972.1 L1934.2,1970.4 L1934.9,1968.7 L1935.7,1966.9 L1936.4,1965.2 L1937.2,1963.5 L1938.0,1961.8 L1938.7,1960.0 L1939.5,1958.3 L1940.3,1956.6 L1941.0,1954.9 L1941.8,1953.2 L1942.6,1951.4 L1943.4,1949.7 L1944.2,1948.0 L1945.0,1946.3 L1945.8,1944.5 L1946.6,1942.8 L1947.4,1941.1 L1948.2,1939.4 L1949.0,1937.6 L1949.8,1935.9 L1950.6,1934.2 L1951.4,1932.5 L1952.3,1930.8 L1953.1,1929.0 L1953.9,1927.3 L1954.8,1925.6 L1955.6,1923.9 L1956.5,1922.1 L1957.3,1920.4 L1958.2,1918.7 L1959.0,1917.0 L1959.9,1915.2 L1960.7,1913.5 L1961.6,1911.8 L1962.5,1910.1 L1963.3,1908.4 L1964.2,1906.6 L1965.1,1904.9 L1966.0,1903.2 L1966.9,1901.5 L1967.8,1899.7 L1968.7,1898.0 L1969.6,1896.3 L1970.5,1894.6 L1971.4,1892.8 L1972.3,1891.1 L1973.2,1889.4 L1974.2,1887.7 L1975.1,1885.9 L1976.0,1884.2 L1977.0,1882.5 L1977.9,1880.8 L1978.8,1879.1 L1979.8,1877.3 L1980.8,1875.6 L1981.7,1873.9 L1982.7,1872.2 L1983.6,1870.4 L1984.6,1868.7 L1985.6,1867.0 L1986.6,1865.3 L1987.6,1863.5 L1988.6,1861.8 L1989.6,1860.1 L1990.6,1858.4 L1991.6,1856.7 L1992.6,1854.9 L1993.6,1853.2 L1994.6,1851.5 L1995.7,1849.8 L1996.7,1848.0 L1997.7,1846.3 L1998.8,1844.6 L1999.8,1842.9 L2000.9,1841.1 L2001.9,1839.4 L2003.0,1837.7 L2004.1,1836.0 L2005.1,1834.3 L2006.2,1832.5 L2007.3,1830.8 L2008.4,1829.1 L2009.5,1827.4 L2010.6,1825.6 L2011.7,1823.9 L2012.8,1822.2 L2013.9,1820.5 L2015.1,1818.7 L2016.2,1817.0 L2017.3,1815.3 L2018.5,1813.6 L2019.6,1811.9 L2020.8,1810.1 L2021.9,1808.4 L2023.1,1806.7 L2024.3,1805.0 L2025.5,1803.2 L2026.6,1801.5 L2027.8,1799.8 L2029.0,1798.1 L2030.2,1796.3 L2031.5,1794.6 L2032.7,1792.9 L2033.9,1791.2 L2035.1,1789.4 L2036.4,1787.7 L2037.6,1786.0 L2038.9,1784.3 L2040.1,1782.6 L2041.4,1780.8 L2042.7,1779.1 L2043.9,1777.4 L2045.2,1775.7 L2046.5,1773.9 L2047.8,1772.2 L2049.1,1770.5 L2050.4,1768.8 L2051.8,1767.0 L2053.1,1765.3 L2054.4,1763.6 L2055.8,1761.9 L2057.1,1760.2 L2058.5,1758.4 L2059.9,1756.7 L2061.2,1755.0 L2062.6,1753.3 L2064.0,1751.5 L2065.4,1749.8 L2066.8,1748.1 L2068.2,1746.4 L2069.7,1744.6 L2071.1,1742.9 L2072.5,1741.2 L2074.0,1739.5 L2075.4,1737.8 L2076.9,1736.0 L2078.4,1734.3 L2079.9,1732.6 L2081.4,1730.9 L2082.9,1729.1 L2084.4,1727.4 L2085.9,1725.7 L2087.4,1724.0 L2089.0,1722.2 L2090.5,1720.5 L2092.1,1718.8 L2093.6,1717.1 L2095.2,1715.4 L2096.8,1713.6 L2098.4,1711.9 L2100.0,1710.2 L2101.6,1708.5 L2103.2,1706.7 L2104.9,1705.0 L2106.5,1703.3 L2108.2,1701.6 L2109.2,1699.8 L2109.2,1698.1 L2109.2,1696.4 L2109.2,1694.7 L2109.2,1693.0 L2109.2,1691.2 L2109.2,1689.5 L2109.2,1687.8 L2109.2,1686.1 L2109.2,1684.3 L2109.2,1682.6 L2109.2,1680.9 L2109.2,1679.2 L2109.2,1677.4 L2109.2,1675.7 L2109.2,1674.0 L2109.2,1672.3 L2109.2,1670.5 L2109.2,1668.8 L2109.2,1667.1 L2109.2,1665.4 L2109.2,1663.7 L2109.2,1661.9 L2109.2,1660.2 L2109.2,1658.5 L2109.2,1656.8 L2109.2,1655.0 L2109.2,1653.3 L2109.2,1651.6 L2109.2,1649.9 L2109.2,1648.1 L2109.2,1646.4 L2109.2,1644.7 L2109.2,1643.0 L2109.2,1641.3 L2109.2,1639.5 L2109.2,1637.8 L2109.2,1636.1 L2109.2,1634.4 L2109.2,1632.6 L2109.2,1630.9 L2109.2,1629.2 L2109.2,1627.5 L2109.2,1625.7 L2109.2,1624.0 L2109.2,1622.3 L2109.2,1620.6 L2109.2,1618.9 L2109.2,1617.1 L2109.2,1615.4 L2109.2,1613.7 L2109.2,1612.0 L2109.2,1610.2 L2109.2,1608.5 L2109.2,1606.8 L2109.2,1605.1 L2109.2,1603.3 L2109.2,1601.6 L2109.2,1599.9 L2109.2,1598.2 L2109.2,1596.5 L2109.2,1594.7 L2109.2,1593.0 L2109.2,1591.3 L2109.2,1589.6 L2109.2,1587.8 L2109.2,1586.1 L2109.2,1584.4 L2109.2,1582.7 L2109.2,1580.9 L2109.2,1579.2 L2109.2,1577.5 L2109.2,1575.8 L2109.2,1574.0 L2109.2,1572.3 L2109.2,1570.6 L2109.2,1568.9 L2109.2,1567.2 L2109.2,1565.4 L2109.2,1563.7 L2109.2,1562.0 L2109.2,1560.3 L2109.2,1558.5 L2109.2,1556.8 L2109.2,1555.1 L2109.2,1553.4 L2109.2,1551.6 L2109.2,1549.9 L2109.2,1548.2 L2109.2,1546.5 L2109.2,1544.8 L2109.2,1543.0 L2109.2,1541.3 L2109.2,1539.6 L2109.2,1537.9 L2109.2,1536.1 L2109.2,1534.4 L2109.2,1532.7 L2109.2,1531.0 L2109.2,1529.2 L2109.2,1527.5 L2109.2,1525.8 L2109.2,1524.1 L2109.2,1522.4 L2109.2,1520.6 L2109.2,1518.9 L2109.2,1517.2 L2109.2,1515.5 L2109.2,1513.7 L2109.2,1512.0 L2109.2,1510.3 L2109.2,1508.6 L2109.2,1506.8 L2109.2,1505.1 L2109.2,1503.4 L2109.2,1501.7 L2109.2,1500.0 L2109.2,1498.2 L2109.2,1496.5 L2109.2,1494.8 L2109.2,1493.1 L2109.2,1491.3 L2109.2,1489.6 L2109.2,1487.9 L2109.2,1486.2 L2109.2,1484.4 L2109.2,1482.7 L2109.2,1481.0 L2109.2,1479.3 L2109.2,1477.6 L2109.2,1475.8 L2109.2,1474.1 L2109.2,1472.4 L2109.2,1470.7 L2109.2,1468.9 L2109.2,1467.2 L2109.2,1465.5 L2109.2,1463.8 L2109.2,1462.0 L2109.2,1460.3 L2109.2,1458.6 L2109.2,1456.9 L2109.2,1455.1 L2109.2,1453.4 L2109.2,1451.7 L2109.2,1450.0 L2109.2,1448.3 L2109.2,1446.5 L2109.2,1444.8 L2109.2,1443.1 L2109.2,1441.4 L2109.2,1439.6 L2109.2,1437.9 L2109.2,1436.2 L2109.2,1434.5 L2109.2,1432.7 L2109.2,1431.0 L2109.2,1429.3 L2109.2,1427.6 L2109.2,1425.9 L2109.2,1424.1 L2109.2,1422.4 L2109.2,1420.7 L2109.2,1419.0 L2109.2,1417.2 L2109.2,1415.5 L2109.2,1413.8 L2109.2,1412.1 L2109.2,1410.3 L2109.2,1408.6 L2109.2,1406.9 L2109.2,1405.2 L2109.2,1403.5 L2109.2,1401.7 L2109.2,1400.0 L2109.2,1398.3 L2109.2,1396.6 L2109.2,1394.8 L2109.2,1393.1 L2109.2,1391.4 L2109.2,1389.7 L2109.2,1387.9 L2109.2,1386.2 L2109.2,1384.5 L2109.2,1382.8 L2109.2,1381.1 L2109.2,1379.3 L2109.2,1377.6 L2109.2,1375.9 L2109.2,1374.2 L2109.2,1372.4 L2109.2,1370.7 L2109.2,1369.0 L2109.2,1367.3 L2109.2,1365.5 L2109.2,1363.8 L2109.2,1362.1 L2109.2,1360.4 L2109.2,1358.6 L2109.2,1356.9 L2109.2,1355.2 L2109.2,1353.5 L2109.2,1351.8 L2109.2,1350.0 L2109.2,1348.3 L2109.2,1346.6 L2109.2,1344.9 L2109.2,1343.1 L2109.2,1341.4 L2109.2,1339.7 L2109.2,1338.0 L2109.2,1336.2 L2109.2,1334.5 L2109.2,1332.8 L2109.2,1331.1 L2109.2,1329.4 L2109.2,1327.6 L2109.2,1325.9 L2109.2,1324.2 L2109.2,1322.5 L2109.2,1320.7 L2109.2,1319.0 L2109.2,1317.3 L2109.2,1315.6 L2109.2,1313.8 L2109.2,1312.1 L2109.2,1310.4 L2109.2,1310.4 L2109.2,2172.0 Z" fill="#E67730"/>
<path d="M2005.9,2172.0 L2006.6,2170.3 L2007.4,2168.6 L2008.1,2166.8 L2008.8,2165.1 L2009.6,2163.4 L2010.3,2161.7 L2011.0,2159.9 L2011.8,2158.2 L2012.5,2156.5 L2013.3,2154.8 L2014.0,2153.0 L2014.8,2151.3 L2015.5,2149.6 L2016.3,2147.9 L2017.0,2146.2 L2017.8,2144.4 L2018.6,2142.7 L2019.3,2141.0 L2020.1,2139.3 L2020.9,2137.5 L2021.6,2135.8 L2022.4,2134.1 L2023.2,2132.4 L2024.0,2130.6 L2024.8,2128.9 L2025.6,2127.2 L2026.3,2125.5 L2027.1,2123.8 L2027.9,2122.0 L2028.7,2120.3 L2029.5,2118.6 L2030.3,2116.9 L2031.1,2115.1 L2032.0,2113.4 L2032.8,2111.7 L2033.6,2110.0 L2034.4,2108.2 L2035.2,2106.5 L2036.1,2104.8 L2036.9,2103.1 L2037.7,2101.3 L2038.6,2099.6 L2039.4,2097.9 L2040.2,2096.2 L2041.1,2094.5 L2041.9,2092.7 L2042.8,2091.0 L2043.6,2089.3 L2044.5,2087.6 L2045.3,2085.8 L2046.2,2084.1 L2047.1,2082.4 L2047.9,2080.7 L2048.8,2078.9 L2049.7,2077.2 L2050.6,2075.5 L2051.5,2073.8 L2052.3,2072.1 L2053.2,2070.3 L2054.1,2068.6 L2055.0,2066.9 L2055.9,2065.2 L2056.8,2063.4 L2057.7,2061.7 L2058.6,2060.0 L2059.5,2058.3 L2060.5,2056.5 L2061.4,2054.8 L2062.3,2053.1 L2063.2,2051.4 L2064.2,2049.7 L2065.1,2047.9 L2066.0,2046.2 L2067.0,2044.5 L2067.9,2042.8 L2068.9,2041.0 L2069.8,2039.3 L2070.8,2037.6 L2071.7,2035.9 L2072.7,2034.1 L2073.7,2032.4 L2074.6,2030.7 L2075.6,2029.0 L2076.6,2027.3 L2077.6,2025.5 L2078.6,2023.8 L2079.6,2022.1 L2080.5,2020.4 L2081.5,2018.6 L2082.5,2016.9 L2083.6,2015.2 L2084.6,2013.5 L2085.6,2011.7 L2086.6,2010.0 L2087.6,2008.3 L2088.6,2006.6 L2089.7,2004.8 L2090.7,2003.1 L2091.7,2001.4 L2092.8,1999.7 L2093.8,1998.0 L2094.9,1996.2 L2095.9,1994.5 L2097.0,1992.8 L2098.1,1991.1 L2099.1,1989.3 L2100.2,1987.6 L2101.3,1985.9 L2102.4,1984.2 L2103.5,1982.4 L2104.6,1980.7 L2105.7,1979.0 L2106.8,1977.3 L2107.9,1975.6 L2109.0,1973.8 L2109.2,1972.1 L2109.2,1970.4 L2109.2,1968.7 L2109.2,1966.9 L2109.2,1965.2 L2109.2,1963.5 L2109.2,1961.8 L2109.2,1960.0 L2109.2,1958.3 L2109.2,1956.6 L2109.2,1954.9 L2109.2,1953.2 L2109.2,1951.4 L2109.2,1949.7 L2109.2,1948.0 L2109.2,1946.3 L2109.2,1944.5 L2109.2,1942.8 L2109.2,1941.1 L2109.2,1939.4 L2109.2,1937.6 L2109.2,1935.9 L2109.2,1934.2 L2109.2,1932.5 L2109.2,1930.8 L2109.2,1929.0 L2109.2,1927.3 L2109.2,1925.6 L2109.2,1923.9 L2109.2,1922.1 L2109.2,1920.4 L2109.2,1918.7 L2109.2,1917.0 L2109.2,1915.2 L2109.2,1913.5 L2109.2,1911.8 L2109.2,1910.1 L2109.2,1908.4 L2109.2,1906.6 L2109.2,1904.9 L2109.2,1903.2 L2109.2,1901.5 L2109.2,1899.7 L2109.2,1898.0 L2109.2,1896.3 L2109.2,1894.6 L2109.2,1892.8 L2109.2,1891.1 L2109.2,1889.4 L2109.2,1887.7 L2109.2,1885.9 L2109.2,1884.2 L2109.2,1882.5 L2109.2,1880.8 L2109.2,1879.1 L2109.2,1877.3 L2109.2,1875.6 L2109.2,1873.9 L2109.2,1872.2 L2109.2,1870.4 L2109.2,1868.7 L2109.2,1867.0 L2109.2,1865.3 L2109.2,1863.5 L2109.2,1861.8 L2109.2,1860.1 L2109.2,1858.4 L2109.2,1856.7 L2109.2,1854.9 L2109.2,1853.2 L2109.2,1851.5 L2109.2,1849.8 L2109.2,1848.0 L2109.2,1846.3 L2109.2,1844.6 L2109.2,1842.9 L2109.2,1841.1 L2109.2,1839.4 L2109.2,1837.7 L2109.2,1836.0 L2109.2,1834.3 L2109.2,1832.5 L2109.2,1830.8 L2109.2,1829.1 L2109.2,1827.4 L2109.2,1825.6 L2109.2,1823.9 L2109.2,1822.2 L2109.2,1820.5 L2109.2,1818.7 L2109.2,1817.0 L2109.2,1815.3 L2109.2,1813.6 L2109.2,1811.9 L2109.2,1810.1 L2109.2,1808.4 L2109.2,1806.7 L2109.2,1805.0 L2109.2,1803.2 L2109.2,1801.5 L2109.2,1799.8 L2109.2,1798.1 L2109.2,1796.3 L2109.2,1794.6 L2109.2,1792.9 L2109.2,1791.2 L2109.2,1789.4 L2109.2,1787.7 L2109.2,1786.0 L2109.2,1784.3 L2109.2,1782.6 L2109.2,1780.8 L2109.2,1779.1 L2109.2,1777.4 L2109.2,1775.7 L2109.2,1773.9 L2109.2,1772.2 L2109.2,1770.5 L2109.2,1768.8 L2109.2,1767.0 L2109.2,1765.3 L2109.2,1763.6 L2109.2,1761.9 L2109.2,1760.2 L2109.2,1758.4 L2109.2,1756.7 L2109.2,1755.0 L2109.2,1753.3 L2109.2,1751.5 L2109.2,1749.8 L2109.2,1748.1 L2109.2,1746.4 L2109.2,1744.6 L2109.2,1742.9 L2109.2,1741.2 L2109.2,1739.5 L2109.2,1737.8 L2109.2,1736.0 L2109.2,1734.3 L2109.2,1732.6 L2109.2,1730.9 L2109.2,1729.1 L2109.2,1727.4 L2109.2,1725.7 L2109.2,1724.0 L2109.2,1722.2 L2109.2,1720.5 L2109.2,1718.8 L2109.2,1717.1 L2109.2,1715.4 L2109.2,1713.6 L2109.2,1711.9 L2109.2,1710.2 L2109.2,1708.5 L2109.2,1706.7 L2109.2,1705.0 L2109.2,1703.3 L2109.2,1701.6 L2109.2,1699.8 L2109.2,1698.1 L2109.2,1696.4 L2109.2,1694.7 L2109.2,1693.0 L2109.2,1691.2 L2109.2,1689.5 L2109.2,1687.8 L2109.2,1686.1 L2109.2,1684.3 L2109.2,1682.6 L2109.2,1680.9 L2109.2,1679.2 L2109.2,1677.4 L2109.2,1675.7 L2109.2,1674.0 L2109.2,1672.3 L2109.2,1670.5 L2109.2,1668.8 L2109.2,1667.1 L2109.2,1665.4 L2109.2,1663.7 L2109.2,1661.9 L2109.2,1660.2 L2109.2,1658.5 L2109.2,1656.8 L2109.2,1655.0 L2109.2,1653.3 L2109.2,1651.6 L2109.2,1649.9 L2109.2,1648.1 L2109.2,1646.4 L2109.2,1644.7 L2109.2,1643.0 L2109.2,1641.3 L2109.2,1639.5 L2109.2,1637.8 L2109.2,1636.1 L2109.2,1634.4 L2109.2,1632.6 L2109.2,1630.9 L2109.2,1629.2 L2109.2,1627.5 L2109.2,1625.7 L2109.2,1624.0 L2109.2,1622.3 L2109.2,1620.6 L2109.2,1618.9 L2109.2,1617.1 L2109.2,1615.4 L2109.2,1613.7 L2109.2,1612.0 L2109.2,1610.2 L2109.2,1608.5 L2109.2,1606.8 L2109.2,1605.1 L2109.2,1603.3 L2109.2,1601.6 L2109.2,1599.9 L2109.2,1598.2 L2109.2,1596.5 L2109.2,1594.7 L2109.2,1593.0 L2109.2,1591.3 L2109.2,1589.6 L2109.2,1587.8 L2109.2,1586.1 L2109.2,1584.4 L2109.2,1582.7 L2109.2,1580.9 L2109.2,1579.2 L2109.2,1577.5 L2109.2,1575.8 L2109.2,1574.0 L2109.2,1572.3 L2109.2,1570.6 L2109.2,1568.9 L2109.2,1567.2 L2109.2,1565.4 L2109.2,1563.7 L2109.2,1562.0 L2109.2,1560.3 L2109.2,1558.5 L2109.2,1556.8 L2109.2,1555.1 L2109.2,1553.4 L2109.2,1551.6 L2109.2,1549.9 L2109.2,1548.2 L2109.2,1546.5 L2109.2,1544.8 L2109.2,1543.0 L2109.2,1541.3 L2109.2,1539.6 L2109.2,1537.9 L2109.2,1536.1 L2109.2,1534.4 L2109.2,1532.7 L2109.2,1531.0 L2109.2,1529.2 L2109.2,1527.5 L2109.2,1525.8 L2109.2,1524.1 L2109.2,1522.4 L2109.2,1520.6 L2109.2,1518.9 L2109.2,1517.2 L2109.2,1515.5 L2109.2,1513.7 L2109.2,1512.0 L2109.2,1510.3 L2109.2,1508.6 L2109.2,1506.8 L2109.2,1505.1 L2109.2,1503.4 L2109.2,1501.7 L2109.2,1500.0 L2109.2,1498.2 L2109.2,1496.5 L2109.2,1494.8 L2109.2,1493.1 L2109.2,1491.3 L2109.2,1489.6 L2109.2,1487.9 L2109.2,1486.2 L2109.2,1484.4 L2109.2,1482.7 L2109.2,1481.0 L2109.2,1479.3 L2109.2,1477.6 L2109.2,1475.8 L2109.2,1474.1 L2109.2,1472.4 L2109.2,1470.7 L2109.2,1468.9 L2109.2,1467.2 L2109.2,1465.5 L2109.2,1463.8 L2109.2,1462.0 L2109.2,1460.3 L2109.2,1458.6 L2109.2,1456.9 L2109.2,1455.1 L2109.2,1453.4 L2109.2,1451.7 L2109.2,1450.0 L2109.2,1448.3 L2109.2,1446.5 L2109.2,1444.8 L2109.2,1443.1 L2109.2,1441.4 L2109.2,1439.6 L2109.2,1437.9 L2109.2,1436.2 L2109.2,1434.5 L2109.2,1432.7 L2109.2,1431.0 L2109.2,1429.3 L2109.2,1427.6 L2109.2,1425.9 L2109.2,1424.1 L2109.2,1422.4 L2109.2,1420.7 L2109.2,1419.0 L2109.2,1417.2 L2109.2,1415.5 L2109.2,1413.8 L2109.2,1412.1 L2109.2,1410.3 L2109.2,1408.6 L2109.2,1406.9 L2109.2,1405.2 L2109.2,1403.5 L2109.2,1401.7 L2109.2,1400.0 L2109.2,1398.3 L2109.2,1396.6 L2109.2,1394.8 L2109.2,1393.1 L2109.2,1391.4 L2109.2,1389.7 L2109.2,1387.9 L2109.2,1386.2 L2109.2,1384.5 L2109.2,1382.8 L2109.2,1381.1 L2109.2,1379.3 L2109.2,1377.6 L2109.2,1375.9 L2109.2,1374.2 L2109.2,1372.4 L2109.2,1370.7 L2109.2,1369.0 L2109.2,1367.3 L2109.2,1365.5 L2109.2,1363.8 L2109.2,1362.1 L2109.2,1360.4 L2109.2,1358.6 L2109.2,1356.9 L2109.2,1355.2 L2109.2,1353.5 L2109.2,1351.8 L2109.2,1350.0 L2109.2,1348.3 L2109.2,1346.6 L2109.2,1344.9 L2109.2,1343.1 L2109.2,1341.4 L2109.2,1339.7 L2109.2,1338.0 L2109.2,1336.2 L2109.2,1334.5 L2109.2,1332.8 L2109.2,1331.1 L2109.2,1329.4 L2109.2,1327.6 L2109.2,1325.9 L2109.2,1324.2 L2109.2,1322.5 L2109.2,1320.7 L2109.2,1319.0 L2109.2,1317.3 L2109.2,1315.6 L2109.2,1313.8 L2109.2,1312.1 L2109.2,1310.4 L2109.2,1310.4 L2109.2,2172.0 Z" fill="#5796D0"/>
<path d="M1595.2,2172.0 L1595.2,2170.3 L1595.2,2168.6 L1595.3,2166.8 L1595.3,2165.1 L1595.4,2163.4 L1595.4,2161.7 L1595.5,2159.9 L1595.5,2158.2 L1595.6,2156.5 L1595.6,2154.8 L1595.7,2153.0 L1595.7,2151.3 L1595.8,2149.6 L1595.8,2147.9 L1595.8,2146.2 L1595.9,2144.4 L1595.9,2142.7 L1596.0,2141.0 L1596.0,2139.3 L1596.1,2137.5 L1596.1,2135.8 L1596.2,2134.1 L1596.2,2132.4 L1596.3,2130.6 L1596.3,2128.9 L1596.4,2127.2 L1596.4,2125.5 L1596.5,2123.8 L1596.5,2122.0 L1596.6,2120.3 L1596.6,2118.6 L1596.7,2116.9 L1596.7,2115.1 L1596.8,2113.4 L1596.8,2111.7 L1596.9,2110.0 L1596.9,2108.2 L1597.0,2106.5 L1597.0,2104.8 L1597.1,2103.1 L1597.1,2101.3 L1597.2,2099.6 L1597.2,2097.9 L1597.3,2096.2 L1597.3,2094.5 L1597.4,2092.7 L1597.4,2091.0 L1597.5,2089.3 L1597.6,2087.6 L1597.6,2085.8 L1597.7,2084.1 L1597.7,2082.4 L1597.8,2080.7 L1597.8,2078.9 L1597.9,2077.2 L1597.9,2075.5 L1598.0,2073.8 L1598.0,2072.1 L1598.1,2070.3 L1598.2,2068.6 L1598.2,2066.9 L1598.3,2065.2 L1598.3,2063.4 L1598.4,2061.7 L1598.4,2060.0 L1598.5,2058.3 L1598.5,2056.5 L1598.6,2054.8 L1598.7,2053.1 L1598.7,2051.4 L1598.8,2049.7 L1598.8,2047.9 L1598.9,2046.2 L1598.9,2044.5 L1599.0,2042.8 L1599.1,2041.0 L1599.1,2039.3 L1599.2,2037.6 L1599.2,2035.9 L1599.3,2034.1 L1599.4,2032.4 L1599.4,2030.7 L1599.5,2029.0 L1599.5,2027.3 L1599.6,2025.5 L1599.7,2023.8 L1599.7,2022.1 L1599.8,2020.4 L1599.9,2018.6 L1599.9,2016.9 L1600.0,2015.2 L1600.0,2013.5 L1600.1,2011.7 L1600.2,2010.0 L1600.2,2008.3 L1600.3,2006.6 L1600.4,2004.8 L1600.4,2003.1 L1600.5,2001.4 L1600.5,1999.7 L1600.6,1998.0 L1600.7,1996.2 L1600.7,1994.5 L1600.8,1992.8 L1600.9,1991.1 L1600.9,1989.3 L1601.0,1987.6 L1601.1,1985.9 L1601.1,1984.2 L1601.2,1982.4 L1601.3,1980.7 L1601.3,1979.0 L1601.4,1977.3 L1601.5,1975.6 L1601.5,1973.8 L1601.6,1972.1 L1601.7,1970.4 L1601.8,1968.7 L1601.8,1966.9 L1601.9,1965.2 L1602.0,1963.5 L1602.0,1961.8 L1602.1,1960.0 L1602.2,1958.3 L1602.2,1956.6 L1602.3,1954.9 L1602.4,1953.2 L1602.5,1951.4 L1602.5,1949.7 L1602.6,1948.0 L1602.7,1946.3 L1602.8,1944.5 L1602.8,1942.8 L1602.9,1941.1 L1603.0,1939.4 L1603.1,1937.6 L1603.1,1935.9 L1603.2,1934.2 L1603.3,1932.5 L1603.4,1930.8 L1603.4,1929.0 L1603.5,1927.3 L1603.6,1925.6 L1603.7,1923.9 L1603.7,1922.1 L1603.8,1920.4 L1603.9,1918.7 L1604.0,1917.0 L1604.1,1915.2 L1604.1,1913.5 L1604.2,1911.8 L1604.3,1910.1 L1604.4,1908.4 L1604.5,1906.6 L1604.5,1904.9 L1604.6,1903.2 L1604.7,1901.5 L1604.8,1899.7 L1604.9,1898.0 L1605.0,1896.3 L1605.0,1894.6 L1605.1,1892.8 L1605.2,1891.1 L1605.3,1889.4 L1605.4,1887.7 L1605.5,1885.9 L1605.6,1884.2 L1605.6,1882.5 L1605.7,1880.8 L1605.8,1879.1 L1605.9,1877.3 L1606.0,1875.6 L1606.1,1873.9 L1606.2,1872.2 L1606.3,1870.4 L1606.3,1868.7 L1606.4,1867.0 L1606.5,1865.3 L1606.6,1863.5 L1606.7,1861.8 L1606.8,1860.1 L1606.9,1858.4 L1607.0,1856.7 L1607.1,1854.9 L1607.2,1853.2 L1607.3,1851.5 L1607.4,1849.8 L1607.5,1848.0 L1607.5,1846.3 L1607.6,1844.6 L1607.7,1842.9 L1607.8,1841.1 L1607.9,1839.4 L1608.0,1837.7 L1608.1,1836.0 L1608.2,1834.3 L1608.3,1832.5 L1608.4,1830.8 L1608.5,1829.1 L1608.6,1827.4 L1608.7,1825.6 L1608.8,1823.9 L1608.9,1822.2 L1609.0,1820.5 L1609.1,1818.7 L1609.2,1817.0 L1609.4,1815.3 L1609.5,1813.6 L1609.6,1811.9 L1609.7,1810.1 L1609.8,1808.4 L1609.9,1806.7 L1610.0,1805.0 L1610.1,1803.2 L1610.2,1801.5 L1610.3,1799.8 L1610.4,1798.1 L1610.5,1796.3 L1610.6,1794.6 L1610.8,1792.9 L1610.9,1791.2 L1611.0,1789.4 L1611.1,1787.7 L1611.2,1786.0 L1611.3,1784.3 L1611.4,1782.6 L1611.6,1780.8 L1611.7,1779.1 L1611.8,1777.4 L1611.9,1775.7 L1612.0,1773.9 L1612.1,1772.2 L1612.3,1770.5 L1612.4,1768.8 L1612.5,1767.0 L1612.6,1765.3 L1612.8,1763.6 L1612.9,1761.9 L1613.0,1760.2 L1613.1,1758.4 L1613.2,1756.7 L1613.4,1755.0 L1613.5,1753.3 L1613.6,1751.5 L1613.8,1749.8 L1613.9,1748.1 L1614.0,1746.4 L1614.1,1744.6 L1614.3,1742.9 L1614.4,1741.2 L1614.5,1739.5 L1614.7,1737.8 L1614.8,1736.0 L1614.9,1734.3 L1615.1,1732.6 L1615.2,1730.9 L1615.3,1729.1 L1615.5,1727.4 L1615.6,1725.7 L1615.8,1724.0 L1615.9,1722.2 L1616.0,1720.5 L1616.2,1718.8 L1616.3,1717.1 L1616.5,1715.4 L1616.6,1713.6 L1616.8,1711.9 L1616.9,1710.2 L1617.1,1708.5 L1617.2,1706.7 L1617.4,1705.0 L1617.5,1703.3 L1617.7,1701.6 L1617.8,1699.8 L1618.0,1698.1 L1618.1,1696.4 L1618.3,1694.7 L1618.4,1693.0 L1618.6,1691.2 L1618.7,1689.5 L1618.9,1687.8 L1619.1,1686.1 L1619.2,1684.3 L1619.4,1682.6 L1619.5,1680.9 L1619.7,1679.2 L1619.9,1677.4 L1620.0,1675.7 L1620.2,1674.0 L1620.4,1672.3 L1620.5,1670.5 L1620.7,1668.8 L1620.9,1667.1 L1621.1,1665.4 L1621.2,1663.7 L1621.4,1661.9 L1621.6,1660.2 L1621.8,1658.5 L1621.9,1656.8 L1622.1,1655.0 L1622.3,1653.3 L1622.5,1651.6 L1622.7,1649.9 L1622.8,1648.1 L1623.0,1646.4 L1623.2,1644.7 L1623.4,1643.0 L1623.6,1641.3 L1623.8,1639.5 L1624.0,1637.8 L1624.2,1636.1 L1624.4,1634.4 L1624.5,1632.6 L1624.7,1630.9 L1624.9,1629.2 L1625.1,1627.5 L1625.3,1625.7 L1625.5,1624.0 L1625.8,1622.3 L1626.0,1620.6 L1626.2,1618.9 L1626.4,1617.1 L1626.6,1615.4 L1626.8,1613.7 L1627.0,1612.0 L1627.2,1610.2 L1627.4,1608.5 L1627.7,1606.8 L1627.9,1605.1 L1628.1,1603.3 L1628.3,1601.6 L1628.5,1599.9 L1628.8,1598.2 L1629.0,1596.5 L1629.2,1594.7 L1629.5,1593.0 L1629.7,1591.3 L1629.9,1589.6 L1630.2,1587.8 L1630.4,1586.1 L1630.6,1584.4 L1630.9,1582.7 L1631.1,1580.9 L1631.4,1579.2 L1631.6,1577.5 L1631.9,1575.8 L1632.1,1574.0 L1632.4,1572.3 L1632.6,1570.6 L1632.9,1568.9 L1633.2,1567.2 L1633.4,1565.4 L1633.7,1563.7 L1633.9,1562.0 L1634.2,1560.3 L1634.5,1558.5 L1634.8,1556.8 L1635.0,1555.1 L1635.3,1553.4 L1635.6,1551.6 L1635.9,1549.9 L1636.2,1548.2 L1636.4,1546.5 L1636.7,1544.8 L1637.0,1543.0 L1637.3,1541.3 L1637.6,1539.6 L1637.9,1537.9 L1638.2,1536.1 L1638.5,1534.4 L1638.8,1532.7 L1639.1,1531.0 L1639.4,1529.2 L1639.8,1527.5 L1640.1,1525.8 L1640.4,1524.1 L1640.7,1522.4 L1641.1,1520.6 L1641.4,1518.9 L1641.7,1517.2 L1642.0,1515.5 L1642.4,1513.7 L1642.7,1512.0 L1643.1,1510.3 L1643.4,1508.6 L1643.8,1506.8 L1644.1,1505.1 L1644.5,1503.4 L1644.9,1501.7 L1645.2,1500.0 L1645.6,1498.2 L1646.0,1496.5 L1646.3,1494.8 L1646.7,1493.1 L1647.1,1491.3 L1647.5,1489.6 L1647.9,1487.9 L1648.3,1486.2 L1648.7,1484.4 L1649.1,1482.7 L1649.5,1481.0 L1649.9,1479.3 L1650.3,1477.6 L1650.7,1475.8 L1651.1,1474.1 L1651.6,1472.4 L1652.0,1470.7 L1652.4,1468.9 L1652.9,1467.2 L1653.3,1465.5 L1653.8,1463.8 L1654.2,1462.0 L1654.7,1460.3 L1655.2,1458.6 L1655.6,1456.9 L1656.1,1455.1 L1656.6,1453.4 L1657.1,1451.7 L1657.6,1450.0 L1658.1,1448.3 L1658.6,1446.5 L1659.1,1444.8 L1659.6,1443.1 L1660.1,1441.4 L1660.6,1439.6 L1661.2,1437.9 L1661.7,1436.2 L1662.2,1434.5 L1662.8,1432.7 L1663.3,1431.0 L1663.9,1429.3 L1664.5,1427.6 L1665.1,1425.9 L1665.6,1424.1 L1666.2,1422.4 L1666.8,1420.7 L1667.4,1419.0 L1668.0,1417.2 L1668.7,1415.5 L1669.3,1413.8 L1669.9,1412.1 L1670.6,1410.3 L1671.2,1408.6 L1671.9,1406.9 L1672.6,1405.2 L1673.2,1403.5 L1673.9,1401.7 L1674.6,1400.0 L1675.3,1398.3 L1676.0,1396.6 L1676.8,1394.8 L1677.5,1393.1 L1678.2,1391.4 L1679.0,1389.7 L1679.8,1387.9 L1680.5,1386.2 L1681.3,1384.5 L1682.1,1382.8 L1682.9,1381.1 L1683.7,1379.3 L1684.6,1377.6 L1685.4,1375.9 L1686.3,1374.2 L1687.1,1372.4 L1688.0,1370.7 L1688.9,1369.0 L1689.8,1367.3 L1690.8,1365.5 L1691.7,1363.8 L1692.6,1362.1 L1693.6,1360.4 L1694.6,1358.6 L1695.6,1356.9 L1696.6,1355.2 L1697.6,1353.5 L1698.7,1351.8 L1699.7,1350.0 L1700.8,1348.3 L1701.9,1346.6 L1703.0,1344.9 L1704.1,1343.1 L1705.3,1341.4 L1706.5,1339.7 L1707.7,1338.0 L1708.9,1336.2 L1710.1,1334.5 L1711.4,1332.8 L1712.7,1331.1 L1714.0,1329.4 L1715.3,1327.6 L1716.6,1325.9 L1718.0,1324.2 L1719.4,1322.5 L1720.8,1320.7 L1722.3,1319.0 L1723.8,1317.3 L1725.3,1315.6 L1726.8,1313.8 L1728.4,1312.1 L1730.0,1310.4" fill="none" stroke="#2BB14E" stroke-width="2.6"/>
<rect x="1246.4" y="1309.8" width="863.4" height="862.8" fill="none" stroke="#DCDCDC" stroke-width="1.2"/>
</g>
<g id="text-a">
<text transform="translate(940.0,112.1) scale(1.055,1)" font-size="35.0" text-anchor="start" fill="#111111" stroke="#111111" stroke-width="0.50">-2.5</text>
<text transform="translate(940.0,167.5) scale(1.055,1)" font-size="35.0" text-anchor="start" fill="#111111" stroke="#111111" stroke-width="0.50">-2.1</text>
<text transform="translate(940.0,223.0) scale(1.055,1)" font-size="35.0" text-anchor="start" fill="#111111" stroke="#111111" stroke-width="0.50">-1.7</text>
<text transform="translate(940.0,278.5) scale(1.055,1)" font-size="35.0" text-anchor="start" fill="#111111" stroke="#111111" stroke-width="0.50">-1.4</text>
<text transform="translate(940.0,333.9) scale(1.055,1)" font-size="35.0" text-anchor="start" fill="#111111" stroke="#111111" stroke-width="0.50">-1.0</text>
<text transform="translate(940.0,389.4) scale(1.055,1)" font-size="35.0" text-anchor="start" fill="#111111" stroke="#111111" stroke-width="0.50">-0.6</text>
<text transform="translate(940.0,444.8) scale(1.055,1)" font-size="35.0" text-anchor="start" fill="#111111" stroke="#111111" stroke-width="0.50">-0.3</text>
<text transform="translate(940.0,500.3) scale(1.055,1)" font-size="35.0" text-anchor="start" fill="#111111" stroke="#111111" stroke-width="0.50">0.1</text>
<text transform="translate(940.0,555.7) scale(1.055,1)" font-size="35.0" text-anchor="start" fill="#111111" stroke="#111111" stroke-width="0.50">0.4</text>
<text transform="translate(940.0,611.1) scale(1.055,1)" font-size="35.0" text-anchor="start" fill="#111111" stroke="#111111" stroke-width="0.50">0.8</text>
<text transform="translate(940.0,666.6) scale(1.055,1)" font-size="35.0" text-anchor="start" fill="#111111" stroke="#111111" stroke-width="0.50">1.2</text>
<text transform="translate(940.0,722.1) scale(1.055,1)" font-size="35.0" text-anchor="start" fill="#111111" stroke="#111111" stroke-width="0.50">1.5</text>
<text transform="translate(940.0,777.5) scale(1.055,1)" font-size="35.0" text-anchor="start" fill="#111111" stroke="#111111" stroke-width="0.50">1.9</text>
<text transform="translate(940.0,833.0) scale(1.055,1)" font-size="35.0" text-anchor="start" fill="#111111" stroke="#111111" stroke-width="0.50">2.3</text>
<text transform="translate(940.0,888.4) scale(1.055,1)" font-size="35.0" text-anchor="start" fill="#111111" stroke="#111111" stroke-width="0.50">2.6</text>
<text x="1022.5" y="499.6" font-size="39.0" text-anchor="start" font-weight="bold" fill="#111111" stroke="#111111" stroke-width="0.50">Q</text>
<text transform="translate(99.6,902.0) rotate(-90)" font-size="35.0" text-anchor="end" fill="#111111" stroke="#111111" stroke-width="0.50">0.0</text>
<text transform="translate(154.9,902.0) rotate(-90)" font-size="35.0" text-anchor="end" fill="#111111" stroke="#111111" stroke-width="0.50">0.7</text>
<text transform="translate(210.3,902.0) rotate(-90)" font-size="35.0" text-anchor="end" fill="#111111" stroke="#111111" stroke-width="0.50">1.3</text>
<text transform="translate(265.6,902.0) rotate(-90)" font-size="35.0" text-anchor="end" fill="#111111" stroke="#111111" stroke-width="0.50">2.0</text>
<text transform="translate(320.9,902.0) rotate(-90)" font-size="35.0" text-anchor="end" fill="#111111" stroke="#111111" stroke-width="0.50">2.6</text>
<text transform="translate(376.2,902.0) rotate(-90)" font-size="35.0" text-anchor="end" fill="#111111" stroke="#111111" stroke-width="0.50">3.3</text>
<text transform="translate(431.6,902.0) rotate(-90)" font-size="35.0" text-anchor="end" fill="#111111" stroke="#111111" stroke-width="0.50">4.0</text>
<text transform="translate(486.9,902.0) rotate(-90)" font-size="35.0" text-anchor="end" fill="#111111" stroke="#111111" stroke-width="0.50">4.6</text>
<text transform="translate(542.2,902.0) rotate(-90)" font-size="35.0" text-anchor="end" fill="#111111" stroke="#111111" stroke-width="0.50">5.3</text>
<text transform="translate(597.6,902.0) rotate(-90)" font-size="35.0" text-anchor="end" fill="#111111" stroke="#111111" stroke-width="0.50">5.9</text>
<text transform="translate(652.9,902.0) rotate(-90)" font-size="35.0" text-anchor="end" fill="#111111" stroke="#111111" stroke-width="0.50">6.6</text>
<text transform="translate(708.2,902.0) rotate(-90)" font-size="35.0" text-anchor="end" fill="#111111" stroke="#111111" stroke-width="0.50">7.2</text>
<text transform="translate(763.6,902.0) rotate(-90)" font-size="35.0" text-anchor="end" fill="#111111" stroke="#111111" stroke-width="0.50">7.9</text>
<text transform="translate(818.9,902.0) rotate(-90)" font-size="35.0" text-anchor="end" fill="#111111" stroke="#111111" stroke-width="0.50">8.6</text>
<text transform="translate(874.2,902.0) rotate(-90)" font-size="35.0" text-anchor="end" fill="#111111" stroke="#111111" stroke-width="0.50">9.2</text>
<text x="474.8" y="989.5" font-size="35.0" text-anchor="middle" font-weight="bold" fill="#111111" stroke="#111111" stroke-width="0.50">S</text>
<text transform="translate(159.0,759.5) rotate(-90)" font-size="37.0" text-anchor="start" textLength="597.5" lengthAdjust="spacingAndGlyphs" fill="#111111" stroke="#111111" stroke-width="0.50">Green area represents combinations of</text>
<text transform="translate(208.0,735.6) rotate(-90)" font-size="37.0" text-anchor="start" textLength="548.6" lengthAdjust="spacingAndGlyphs" fill="#111111" stroke="#111111" stroke-width="0.50">S and Q values for which estimated</text>
<text transform="translate(255.5,692.0) rotate(-90)" font-size="37.0" text-anchor="start" textLength="466.0" lengthAdjust="spacingAndGlyphs" fill="#111111" stroke="#111111" stroke-width="0.50">β is not statistically significant</text>
<text x="58.7" y="1066.2" font-size="36.0" text-anchor="start" textLength="349.5" lengthAdjust="spacingAndGlyphs" fill="#111111" stroke="#111111" stroke-width="0.50">Values of a statistically</text>
<text x="57.0" y="1113.4" font-size="36.0" text-anchor="start" textLength="350.0" lengthAdjust="spacingAndGlyphs" fill="#111111" stroke="#111111" stroke-width="0.50">significant estimated β</text>
<rect x="446.4" y="1028.2" width="22.0" height="22.0" fill="#ABCAE8" stroke="#5796D0" stroke-width="3.5" rx="2"/>
<text x="477.5" y="1050.0" font-size="35.0" text-anchor="start" fill="#111111" stroke="#111111" stroke-width="0.50">-0.14--0.12</text>
<rect x="667.0" y="1028.2" width="22.0" height="22.0" fill="#F2BB98" stroke="#E67730" stroke-width="3.5" rx="2"/>
<text x="696.6" y="1050.0" font-size="35.0" text-anchor="start" fill="#111111" stroke="#111111" stroke-width="0.50">-0.12--0.1</text>
<rect x="885.6" y="1028.2" width="22.0" height="22.0" fill="#D0D0D0" stroke="#A0A0A0" stroke-width="3.5" rx="2"/>
<text x="917.0" y="1050.0" font-size="35.0" text-anchor="start" fill="#111111" stroke="#111111" stroke-width="0.50">-0.1--0.08</text>
<rect x="446.4" y="1100.2" width="22.0" height="22.0" fill="#FADE80" stroke="#F6BD00" stroke-width="3.5" rx="2"/>
<text x="477.5" y="1119.6" font-size="35.0" text-anchor="start" fill="#111111" stroke="#111111" stroke-width="0.50">-0.08--0.06</text>
<rect x="667.0" y="1100.2" width="22.0" height="22.0" fill="#A0B6DF" stroke="#406EBF" stroke-width="3.5" rx="2"/>
<text x="696.6" y="1119.6" font-size="35.0" text-anchor="start" fill="#111111" stroke="#111111" stroke-width="0.50">-0.06--0.04</text>
<rect x="885.6" y="1100.2" width="22.0" height="22.0" fill="#B6D4A2" stroke="#6EA846" stroke-width="3.5" rx="2"/>
<text x="917.0" y="1119.6" font-size="35.0" text-anchor="start" fill="#111111" stroke="#111111" stroke-width="0.50">-0.04--0.03</text>
<text x="533.2" y="1222.0" font-size="53" text-anchor="middle" fill="#000">(<tspan font-weight="bold">a</tspan>)</text>
</g>
<g id="text-b">
<text transform="translate(2146.5,124.2) scale(1.025,1)" font-size="35.0" text-anchor="start" fill="#111111" stroke="#111111" stroke-width="0.50">-2.5</text>
<text transform="translate(2146.5,178.4) scale(1.025,1)" font-size="35.0" text-anchor="start" fill="#111111" stroke="#111111" stroke-width="0.50">-2.1</text>
<text transform="translate(2146.5,232.6) scale(1.025,1)" font-size="35.0" text-anchor="start" fill="#111111" stroke="#111111" stroke-width="0.50">-1.7</text>
<text transform="translate(2146.5,286.7) scale(1.025,1)" font-size="35.0" text-anchor="start" fill="#111111" stroke="#111111" stroke-width="0.50">-1.4</text>
<text transform="translate(2146.5,340.9) scale(1.025,1)" font-size="35.0" text-anchor="start" fill="#111111" stroke="#111111" stroke-width="0.50">-1.0</text>
<text transform="translate(2146.5,395.1) scale(1.025,1)" font-size="35.0" text-anchor="start" fill="#111111" stroke="#111111" stroke-width="0.50">-0.6</text>
<text transform="translate(2146.5,449.3) scale(1.025,1)" font-size="35.0" text-anchor="start" fill="#111111" stroke="#111111" stroke-width="0.50">-0.3</text>
<text transform="translate(2146.5,503.5) scale(1.025,1)" font-size="35.0" text-anchor="start" fill="#111111" stroke="#111111" stroke-width="0.50">0.1</text>
<text transform="translate(2146.5,557.6) scale(1.025,1)" font-size="35.0" text-anchor="start" fill="#111111" stroke="#111111" stroke-width="0.50">0.4</text>
<text transform="translate(2146.5,611.8) scale(1.025,1)" font-size="35.0" text-anchor="start" fill="#111111" stroke="#111111" stroke-width="0.50">0.8</text>
<text transform="translate(2146.5,666.0) scale(1.025,1)" font-size="35.0" text-anchor="start" fill="#111111" stroke="#111111" stroke-width="0.50">1.2</text>
<text transform="translate(2146.5,720.2) scale(1.025,1)" font-size="35.0" text-anchor="start" fill="#111111" stroke="#111111" stroke-width="0.50">1.5</text>
<text transform="translate(2146.5,774.4) scale(1.025,1)" font-size="35.0" text-anchor="start" fill="#111111" stroke="#111111" stroke-width="0.50">1.9</text>
<text transform="translate(2146.5,828.5) scale(1.025,1)" font-size="35.0" text-anchor="start" fill="#111111" stroke="#111111" stroke-width="0.50">2.3</text>
<text transform="translate(2146.5,882.7) scale(1.025,1)" font-size="35.0" text-anchor="start" fill="#111111" stroke="#111111" stroke-width="0.50">2.6</text>
<text x="2226.8" y="499.5" font-size="38.0" text-anchor="start" font-weight="bold" fill="#111111" stroke="#111111" stroke-width="0.50">Q</text>
<text transform="translate(1329.6,893.5) rotate(-90)" font-size="34.0" text-anchor="end" fill="#111111" stroke="#111111" stroke-width="0.50">0.0</text>
<text transform="translate(1383.4,893.5) rotate(-90)" font-size="34.0" text-anchor="end" fill="#111111" stroke="#111111" stroke-width="0.50">0.7</text>
<text transform="translate(1437.2,893.5) rotate(-90)" font-size="34.0" text-anchor="end" fill="#111111" stroke="#111111" stroke-width="0.50">1.3</text>
<text transform="translate(1490.9,893.5) rotate(-90)" font-size="34.0" text-anchor="end" fill="#111111" stroke="#111111" stroke-width="0.50">2.0</text>
<text transform="translate(1544.7,893.5) rotate(-90)" font-size="34.0" text-anchor="end" fill="#111111" stroke="#111111" stroke-width="0.50">2.6</text>
<text transform="translate(1598.5,893.5) rotate(-90)" font-size="34.0" text-anchor="end" fill="#111111" stroke="#111111" stroke-width="0.50">3.3</text>
<text transform="translate(1652.3,893.5) rotate(-90)" font-size="34.0" text-anchor="end" fill="#111111" stroke="#111111" stroke-width="0.50">4.0</text>
<text transform="translate(1706.1,893.5) rotate(-90)" font-size="34.0" text-anchor="end" fill="#111111" stroke="#111111" stroke-width="0.50">4.6</text>
<text transform="translate(1759.8,893.5) rotate(-90)" font-size="34.0" text-anchor="end" fill="#111111" stroke="#111111" stroke-width="0.50">5.3</text>
<text transform="translate(1813.6,893.5) rotate(-90)" font-size="34.0" text-anchor="end" fill="#111111" stroke="#111111" stroke-width="0.50">5.9</text>
<text transform="translate(1867.4,893.5) rotate(-90)" font-size="34.0" text-anchor="end" fill="#111111" stroke="#111111" stroke-width="0.50">6.6</text>
<text transform="translate(1921.2,893.5) rotate(-90)" font-size="34.0" text-anchor="end" fill="#111111" stroke="#111111" stroke-width="0.50">7.2</text>
<text transform="translate(1975.0,893.5) rotate(-90)" font-size="34.0" text-anchor="end" fill="#111111" stroke="#111111" stroke-width="0.50">7.9</text>
<text transform="translate(2028.7,893.5) rotate(-90)" font-size="34.0" text-anchor="end" fill="#111111" stroke="#111111" stroke-width="0.50">8.6</text>
<text transform="translate(2082.5,893.5) rotate(-90)" font-size="34.0" text-anchor="end" fill="#111111" stroke="#111111" stroke-width="0.50">9.2</text>
<text x="1694.3" y="978.6" font-size="34.0" text-anchor="middle" font-weight="bold" fill="#111111" stroke="#111111" stroke-width="0.50">S</text>
<text transform="translate(1387.0,754.6) rotate(-90)" font-size="36.0" text-anchor="start" textLength="579.6" lengthAdjust="spacingAndGlyphs" fill="#111111" stroke="#111111" stroke-width="0.50">Green area represents combinations of</text>
<text transform="translate(1435.0,732.4) rotate(-90)" font-size="36.0" text-anchor="start" textLength="533.9" lengthAdjust="spacingAndGlyphs" fill="#111111" stroke="#111111" stroke-width="0.50">S and Q values for which estimated</text>
<text transform="translate(1481.5,690.0) rotate(-90)" font-size="36.0" text-anchor="start" textLength="452.6" lengthAdjust="spacingAndGlyphs" fill="#111111" stroke="#111111" stroke-width="0.50">β is not statistically significant</text>
<text x="1290.0" y="1052.9" font-size="35.0" text-anchor="start" textLength="338.6" lengthAdjust="spacingAndGlyphs" fill="#111111" stroke="#111111" stroke-width="0.50">Values of a statistically</text>
<text x="1288.6" y="1098.6" font-size="35.0" text-anchor="start" textLength="340.0" lengthAdjust="spacingAndGlyphs" fill="#111111" stroke="#111111" stroke-width="0.50">significant estimated β</text>
<rect x="1667.0" y="1016.5" width="21.0" height="21.0" fill="#ABCAE8" stroke="#5796D0" stroke-width="3.5" rx="2"/>
<text x="1698.3" y="1037.4" font-size="34.0" text-anchor="start" fill="#111111" stroke="#111111" stroke-width="0.50">-0.14--0.12</text>
<rect x="1881.5" y="1016.5" width="21.0" height="21.0" fill="#F2BB98" stroke="#E67730" stroke-width="3.5" rx="2"/>
<text x="1910.0" y="1037.4" font-size="34.0" text-anchor="start" fill="#111111" stroke="#111111" stroke-width="0.50">-0.12--0.1</text>
<rect x="2093.9" y="1016.5" width="21.0" height="21.0" fill="#D0D0D0" stroke="#A0A0A0" stroke-width="3.5" rx="2"/>
<text x="2123.3" y="1037.4" font-size="34.0" text-anchor="start" fill="#111111" stroke="#111111" stroke-width="0.50">-0.1--0.08</text>
<rect x="1667.0" y="1086.7" width="21.0" height="21.0" fill="#FADE80" stroke="#F6BD00" stroke-width="3.5" rx="2"/>
<text x="1698.3" y="1105.0" font-size="34.0" text-anchor="start" fill="#111111" stroke="#111111" stroke-width="0.50">-0.08--0.06</text>
<rect x="1881.5" y="1086.7" width="21.0" height="21.0" fill="#A0B6DF" stroke="#406EBF" stroke-width="3.5" rx="2"/>
<text x="1910.0" y="1105.0" font-size="34.0" text-anchor="start" fill="#111111" stroke="#111111" stroke-width="0.50">-0.06--0.04</text>
<rect x="2093.9" y="1086.7" width="21.0" height="21.0" fill="#B6D4A2" stroke="#6EA846" stroke-width="3.5" rx="2"/>
<text x="2123.3" y="1105.0" font-size="34.0" text-anchor="start" fill="#111111" stroke="#111111" stroke-width="0.50">-0.04--0.03</text>
<text x="1750.5" y="1222.6" font-size="53" text-anchor="middle" fill="#000">(<tspan font-weight="bold">b</tspan>)</text>
</g>
<g id="text-c">
<text transform="translate(947.0,1384.3) scale(1.010,1)" font-size="36.0" text-anchor="start" fill="#111111" stroke="#111111" stroke-width="0.50">-2.5</text>
<text transform="translate(947.0,1440.2) scale(1.010,1)" font-size="36.0" text-anchor="start" fill="#111111" stroke="#111111" stroke-width="0.50">-2.1</text>
<text transform="translate(947.0,1496.1) scale(1.010,1)" font-size="36.0" text-anchor="start" fill="#111111" stroke="#111111" stroke-width="0.50">-1.7</text>
<text transform="translate(947.0,1552.0) scale(1.010,1)" font-size="36.0" text-anchor="start" fill="#111111" stroke="#111111" stroke-width="0.50">-1.4</text>
<text transform="translate(947.0,1607.9) scale(1.010,1)" font-size="36.0" text-anchor="start" fill="#111111" stroke="#111111" stroke-width="0.50">-1.0</text>
<text transform="translate(947.0,1663.8) scale(1.010,1)" font-size="36.0" text-anchor="start" fill="#111111" stroke="#111111" stroke-width="0.50">-0.6</text>
<text transform="translate(947.0,1719.7) scale(1.010,1)" font-size="36.0" text-anchor="start" fill="#111111" stroke="#111111" stroke-width="0.50">-0.3</text>
<text transform="translate(947.0,1775.6) scale(1.010,1)" font-size="36.0" text-anchor="start" fill="#111111" stroke="#111111" stroke-width="0.50">0.1</text>
<text transform="translate(947.0,1831.5) scale(1.010,1)" font-size="36.0" text-anchor="start" fill="#111111" stroke="#111111" stroke-width="0.50">0.4</text>
<text transform="translate(947.0,1887.4) scale(1.010,1)" font-size="36.0" text-anchor="start" fill="#111111" stroke="#111111" stroke-width="0.50">0.8</text>
<text transform="translate(947.0,1943.3) scale(1.010,1)" font-size="36.0" text-anchor="start" fill="#111111" stroke="#111111" stroke-width="0.50">1.2</text>
<text transform="translate(947.0,1999.2) scale(1.010,1)" font-size="36.0" text-anchor="start" fill="#111111" stroke="#111111" stroke-width="0.50">1.5</text>
<text transform="translate(947.0,2055.1) scale(1.010,1)" font-size="36.0" text-anchor="start" fill="#111111" stroke="#111111" stroke-width="0.50">1.9</text>
<text transform="translate(947.0,2111.0) scale(1.010,1)" font-size="36.0" text-anchor="start" fill="#111111" stroke="#111111" stroke-width="0.50">2.3</text>
<text transform="translate(947.0,2166.9) scale(1.010,1)" font-size="36.0" text-anchor="start" fill="#111111" stroke="#111111" stroke-width="0.50">2.6</text>
<text x="1029.8" y="1774.0" font-size="39.0" text-anchor="start" font-weight="bold" fill="#111111" stroke="#111111" stroke-width="0.50">Q</text>
<text transform="translate(96.9,2184.5) rotate(-90)" font-size="36.0" text-anchor="end" fill="#111111" stroke="#111111" stroke-width="0.50">0</text>
<text transform="translate(152.8,2184.5) rotate(-90)" font-size="36.0" text-anchor="end" fill="#111111" stroke="#111111" stroke-width="0.50">0.4</text>
<text transform="translate(208.6,2184.5) rotate(-90)" font-size="36.0" text-anchor="end" fill="#111111" stroke="#111111" stroke-width="0.50">0.7</text>
<text transform="translate(264.5,2184.5) rotate(-90)" font-size="36.0" text-anchor="end" fill="#111111" stroke="#111111" stroke-width="0.50">1.1</text>
<text transform="translate(320.3,2184.5) rotate(-90)" font-size="36.0" text-anchor="end" fill="#111111" stroke="#111111" stroke-width="0.50">1.4</text>
<text transform="translate(376.2,2184.5) rotate(-90)" font-size="36.0" text-anchor="end" fill="#111111" stroke="#111111" stroke-width="0.50">1.8</text>
<text transform="translate(432.1,2184.5) rotate(-90)" font-size="36.0" text-anchor="end" fill="#111111" stroke="#111111" stroke-width="0.50">2.2</text>
<text transform="translate(487.9,2184.5) rotate(-90)" font-size="36.0" text-anchor="end" fill="#111111" stroke="#111111" stroke-width="0.50">2.5</text>
<text transform="translate(543.8,2184.5) rotate(-90)" font-size="36.0" text-anchor="end" fill="#111111" stroke="#111111" stroke-width="0.50">2.9</text>
<text transform="translate(599.6,2184.5) rotate(-90)" font-size="36.0" text-anchor="end" fill="#111111" stroke="#111111" stroke-width="0.50">3.2</text>
<text transform="translate(655.5,2184.5) rotate(-90)" font-size="36.0" text-anchor="end" fill="#111111" stroke="#111111" stroke-width="0.50">3.6</text>
<text transform="translate(711.4,2184.5) rotate(-90)" font-size="36.0" text-anchor="end" fill="#111111" stroke="#111111" stroke-width="0.50">4.0</text>
<text transform="translate(767.2,2184.5) rotate(-90)" font-size="36.0" text-anchor="end" fill="#111111" stroke="#111111" stroke-width="0.50">4.3</text>
<text transform="translate(823.1,2184.5) rotate(-90)" font-size="36.0" text-anchor="end" fill="#111111" stroke="#111111" stroke-width="0.50">4.7</text>
<text transform="translate(878.9,2184.5) rotate(-90)" font-size="36.0" text-anchor="end" fill="#111111" stroke="#111111" stroke-width="0.50">5.0</text>
<text x="476.0" y="2272.0" font-size="35.0" text-anchor="middle" font-weight="bold" fill="#111111" stroke="#111111" stroke-width="0.50">S</text>
<text transform="translate(239.5,2040.4) rotate(-90)" font-size="37.0" text-anchor="start" textLength="603.9" lengthAdjust="spacingAndGlyphs" fill="#111111" stroke="#111111" stroke-width="0.50">Green area represents combinations of</text>
<text transform="translate(288.0,2017.2) rotate(-90)" font-size="37.0" text-anchor="start" textLength="557.6" lengthAdjust="spacingAndGlyphs" fill="#111111" stroke="#111111" stroke-width="0.50">S and Q values for which estimated</text>
<text transform="translate(336.0,1972.7) rotate(-90)" font-size="37.0" text-anchor="start" textLength="470.4" lengthAdjust="spacingAndGlyphs" fill="#111111" stroke="#111111" stroke-width="0.50">β is not statistically significant</text>
<text x="55.7" y="2320.6" font-size="36.0" text-anchor="start" textLength="352.9" lengthAdjust="spacingAndGlyphs" fill="#111111" stroke="#111111" stroke-width="0.50">Values of a statistically</text>
<text x="53.7" y="2368.6" font-size="36.0" text-anchor="start" textLength="354.9" lengthAdjust="spacingAndGlyphs" fill="#111111" stroke="#111111" stroke-width="0.50">significant estimated β</text>
<rect x="469.4" y="2299.9" width="22.0" height="22.0" fill="#ABCAE8" stroke="#5796D0" stroke-width="3.5" rx="2"/>
<text x="499.0" y="2321.5" font-size="35.0" text-anchor="start" fill="#111111" stroke="#111111" stroke-width="0.50">-0.14--0.12</text>
<rect x="733.6" y="2299.9" width="22.0" height="22.0" fill="#F2BB98" stroke="#E67730" stroke-width="3.5" rx="2"/>
<text x="765.2" y="2321.5" font-size="35.0" text-anchor="start" fill="#111111" stroke="#111111" stroke-width="0.50">-0.12--0.1</text>
<rect x="469.4" y="2347.9" width="22.0" height="22.0" fill="#D0D0D0" stroke="#A0A0A0" stroke-width="3.5" rx="2"/>
<text x="499.0" y="2369.0" font-size="35.0" text-anchor="start" fill="#111111" stroke="#111111" stroke-width="0.50">-0.1--0.08</text>
<rect x="733.6" y="2347.9" width="22.0" height="22.0" fill="#FADE80" stroke="#F6BD00" stroke-width="3.5" rx="2"/>
<text x="765.2" y="2369.0" font-size="35.0" text-anchor="start" fill="#111111" stroke="#111111" stroke-width="0.50">-0.08--0.06</text>
<rect x="469.4" y="2394.3" width="22.0" height="22.0" fill="#A0B6DF" stroke="#406EBF" stroke-width="3.5" rx="2"/>
<text x="499.0" y="2416.0" font-size="35.0" text-anchor="start" fill="#111111" stroke="#111111" stroke-width="0.50">-0.06--0.04</text>
<rect x="733.6" y="2394.3" width="22.0" height="22.0" fill="#B6D4A2" stroke="#6EA846" stroke-width="3.5" rx="2"/>
<text x="765.2" y="2416.0" font-size="35.0" text-anchor="start" fill="#111111" stroke="#111111" stroke-width="0.50">-0.04--0.03</text>
<text x="533.0" y="2501.7" font-size="53" text-anchor="middle" fill="#000">(<tspan font-weight="bold">c</tspan>)</text>
</g>
<g id="text-d">
<text transform="translate(2137.0,1372.0) scale(1.035,1)" font-size="37.0" text-anchor="start" fill="#111111" stroke="#111111" stroke-width="0.50">-2.5</text>
<text transform="translate(2137.0,1425.8) scale(1.035,1)" font-size="37.0" text-anchor="start" fill="#111111" stroke="#111111" stroke-width="0.50">-2.2</text>
<text transform="translate(2137.0,1479.7) scale(1.035,1)" font-size="37.0" text-anchor="start" fill="#111111" stroke="#111111" stroke-width="0.50">-1.8</text>
<text transform="translate(2137.0,1533.5) scale(1.035,1)" font-size="37.0" text-anchor="start" fill="#111111" stroke="#111111" stroke-width="0.50">-1.5</text>
<text transform="translate(2137.0,1587.4) scale(1.035,1)" font-size="37.0" text-anchor="start" fill="#111111" stroke="#111111" stroke-width="0.50">-1.1</text>
<text transform="translate(2137.0,1641.2) scale(1.035,1)" font-size="37.0" text-anchor="start" fill="#111111" stroke="#111111" stroke-width="0.50">-0.8</text>
<text transform="translate(2137.0,1695.1) scale(1.035,1)" font-size="37.0" text-anchor="start" fill="#111111" stroke="#111111" stroke-width="0.50">-0.5</text>
<text transform="translate(2137.0,1749.0) scale(1.035,1)" font-size="37.0" text-anchor="start" fill="#111111" stroke="#111111" stroke-width="0.50">-0.1</text>
<text transform="translate(2137.0,1802.8) scale(1.035,1)" font-size="37.0" text-anchor="start" fill="#111111" stroke="#111111" stroke-width="0.50">0.2</text>
<text transform="translate(2137.0,1856.7) scale(1.035,1)" font-size="37.0" text-anchor="start" fill="#111111" stroke="#111111" stroke-width="0.50">0.6</text>
<text transform="translate(2137.0,1910.5) scale(1.035,1)" font-size="37.0" text-anchor="start" fill="#111111" stroke="#111111" stroke-width="0.50">0.9</text>
<text transform="translate(2137.0,1964.3) scale(1.035,1)" font-size="37.0" text-anchor="start" fill="#111111" stroke="#111111" stroke-width="0.50">1.3</text>
<text transform="translate(2137.0,2018.2) scale(1.035,1)" font-size="37.0" text-anchor="start" fill="#111111" stroke="#111111" stroke-width="0.50">1.6</text>
<text transform="translate(2137.0,2072.1) scale(1.035,1)" font-size="37.0" text-anchor="start" fill="#111111" stroke="#111111" stroke-width="0.50">2.0</text>
<text transform="translate(2137.0,2125.9) scale(1.035,1)" font-size="37.0" text-anchor="start" fill="#111111" stroke="#111111" stroke-width="0.50">2.3</text>
<text transform="translate(2137.0,2179.8) scale(1.035,1)" font-size="37.0" text-anchor="start" fill="#111111" stroke="#111111" stroke-width="0.50">2.6</text>
<text x="2237.3" y="1771.1" font-size="40.0" text-anchor="start" font-weight="bold" fill="#111111" stroke="#111111" stroke-width="0.50">Q</text>
<text transform="translate(1262.0,2199.0) rotate(-90)" font-size="36.0" text-anchor="end" fill="#111111" stroke="#111111" stroke-width="0.50">0</text>
<text transform="translate(1319.6,2199.0) rotate(-90)" font-size="36.0" text-anchor="end" fill="#111111" stroke="#111111" stroke-width="0.50">0.4</text>
<text transform="translate(1377.2,2199.0) rotate(-90)" font-size="36.0" text-anchor="end" fill="#111111" stroke="#111111" stroke-width="0.50">0.7</text>
<text transform="translate(1434.8,2199.0) rotate(-90)" font-size="36.0" text-anchor="end" fill="#111111" stroke="#111111" stroke-width="0.50">1.1</text>
<text transform="translate(1492.4,2199.0) rotate(-90)" font-size="36.0" text-anchor="end" fill="#111111" stroke="#111111" stroke-width="0.50">1.4</text>
<text transform="translate(1550.0,2199.0) rotate(-90)" font-size="36.0" text-anchor="end" fill="#111111" stroke="#111111" stroke-width="0.50">1.8</text>
<text transform="translate(1607.6,2199.0) rotate(-90)" font-size="36.0" text-anchor="end" fill="#111111" stroke="#111111" stroke-width="0.50">2.2</text>
<text transform="translate(1665.2,2199.0) rotate(-90)" font-size="36.0" text-anchor="end" fill="#111111" stroke="#111111" stroke-width="0.50">2.5</text>
<text transform="translate(1722.8,2199.0) rotate(-90)" font-size="36.0" text-anchor="end" fill="#111111" stroke="#111111" stroke-width="0.50">2.9</text>
<text transform="translate(1780.4,2199.0) rotate(-90)" font-size="36.0" text-anchor="end" fill="#111111" stroke="#111111" stroke-width="0.50">3.2</text>
<text transform="translate(1838.0,2199.0) rotate(-90)" font-size="36.0" text-anchor="end" fill="#111111" stroke="#111111" stroke-width="0.50">3.6</text>
<text transform="translate(1895.6,2199.0) rotate(-90)" font-size="36.0" text-anchor="end" fill="#111111" stroke="#111111" stroke-width="0.50">4.0</text>
<text transform="translate(1953.2,2199.0) rotate(-90)" font-size="36.0" text-anchor="end" fill="#111111" stroke="#111111" stroke-width="0.50">4.3</text>
<text transform="translate(2010.8,2199.0) rotate(-90)" font-size="36.0" text-anchor="end" fill="#111111" stroke="#111111" stroke-width="0.50">4.7</text>
<text transform="translate(2068.4,2199.0) rotate(-90)" font-size="36.0" text-anchor="end" fill="#111111" stroke="#111111" stroke-width="0.50">5.0</text>
<text x="1633.9" y="2298.6" font-size="36.0" text-anchor="middle" font-weight="bold" fill="#111111" stroke="#111111" stroke-width="0.50">S</text>
<text transform="translate(1375.2,2030.4) rotate(-90)" font-size="37.0" text-anchor="start" textLength="584.0" lengthAdjust="spacingAndGlyphs" fill="#111111" stroke="#111111" stroke-width="0.50">Green area represents combinations</text>
<text transform="translate(1425.0,2042.3) rotate(-90)" font-size="37.0" text-anchor="start" textLength="616.0" lengthAdjust="spacingAndGlyphs" fill="#111111" stroke="#111111" stroke-width="0.50">of S and Q values for which estimated</text>
<text transform="translate(1474.9,1871.4) rotate(-90)" font-size="37.0" text-anchor="start" textLength="264.7" lengthAdjust="spacingAndGlyphs" fill="#111111" stroke="#111111" stroke-width="0.50">β is insignificant</text>
<text x="1297.7" y="2351.4" font-size="37.0" text-anchor="start" textLength="363.7" lengthAdjust="spacingAndGlyphs" fill="#111111" stroke="#111111" stroke-width="0.50">Values of a statistically</text>
<text x="1295.7" y="2400.0" font-size="37.0" text-anchor="start" textLength="365.7" lengthAdjust="spacingAndGlyphs" fill="#111111" stroke="#111111" stroke-width="0.50">significant estimated β</text>
<rect x="1701.8" y="2322.4" width="23.0" height="23.0" fill="#ABCAE8" stroke="#5796D0" stroke-width="3.5" rx="2"/>
<text x="1735.0" y="2340.6" font-size="36.0" text-anchor="start" fill="#111111" stroke="#111111" stroke-width="0.50">-0.18--0.15</text>
<rect x="1971.8" y="2322.4" width="23.0" height="23.0" fill="#F2BB98" stroke="#E67730" stroke-width="3.5" rx="2"/>
<text x="2004.0" y="2340.6" font-size="36.0" text-anchor="start" fill="#111111" stroke="#111111" stroke-width="0.50">-0.15--0.12</text>
<rect x="1701.8" y="2370.2" width="23.0" height="23.0" fill="#D0D0D0" stroke="#A0A0A0" stroke-width="3.5" rx="2"/>
<text x="1735.0" y="2389.4" font-size="36.0" text-anchor="start" fill="#111111" stroke="#111111" stroke-width="0.50">-0.12--0.09</text>
<rect x="1971.8" y="2370.2" width="23.0" height="23.0" fill="#FADE80" stroke="#F6BD00" stroke-width="3.5" rx="2"/>
<text x="2004.0" y="2389.4" font-size="36.0" text-anchor="start" fill="#111111" stroke="#111111" stroke-width="0.50">-0.09--0.06</text>
<rect x="1701.8" y="2417.6" width="23.0" height="23.0" fill="#A0B6DF" stroke="#19A84A" stroke-width="3.5" rx="2"/>
<text x="1735.0" y="2438.2" font-size="36.0" text-anchor="start" fill="#111111" stroke="#111111" stroke-width="0.50">-0.06--0.03</text>
<rect x="1971.8" y="2417.6" width="23.0" height="23.0" fill="#B6D4A2" stroke="#6EA846" stroke-width="3.5" rx="2"/>
<text x="2004.0" y="2438.2" font-size="36.0" text-anchor="start" fill="#111111" stroke="#111111" stroke-width="0.50">-0.03--0.02</text>
<text x="1750.6" y="2568.0" font-size="53" text-anchor="middle" fill="#000">(<tspan font-weight="bold">d</tspan>)</text>
</g>
</svg>
</body></html>
